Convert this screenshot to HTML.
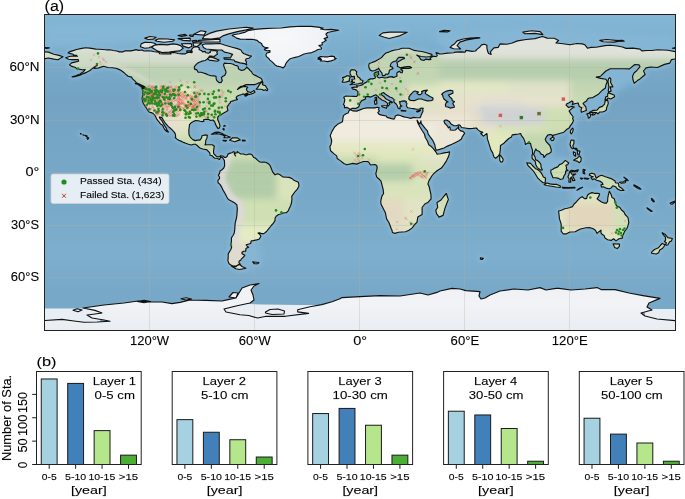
<!DOCTYPE html>
<html><head><meta charset="utf-8"><style>
html,body{margin:0;padding:0;background:#fff;}
body{width:685px;height:499px;overflow:hidden;font-family:"Liberation Sans",sans-serif;}
svg{display:block;}
text{filter:url(#gs);stroke:#000;stroke-width:0.25px;stroke-opacity:0.4;}
</style></head><body>
<svg width="685" height="499" viewBox="0 0 685 499" font-family="Liberation Sans, sans-serif" fill="#000">
<defs><clipPath id="mc"><rect x="45" y="15" width="630" height="315"/></clipPath><linearGradient id="oc" x1="0" y1="0" x2="0" y2="1"><stop offset="0" stop-color="#84b6d6"/><stop offset="0.12" stop-color="#7aaccc"/><stop offset="0.27" stop-color="#73a2c2"/><stop offset="0.4" stop-color="#76a6c6"/><stop offset="0.6" stop-color="#79a9c9"/><stop offset="0.7" stop-color="#7badcb"/><stop offset="0.77" stop-color="#7eaecd"/><stop offset="0.88" stop-color="#78a8c7"/><stop offset="1" stop-color="#7aaac9"/></linearGradient><filter id="bl" x="-5%" y="-5%" width="110%" height="110%"><feGaussianBlur stdDeviation="3.5"/></filter><filter id="bl2" x="-5%" y="-5%" width="110%" height="110%"><feGaussianBlur stdDeviation="1.5"/></filter><clipPath id="lc"><path d="M85.6,47.7 L81.8,48.4 L76.5,49.5 L73.9,50.4 L69.2,51.9 L68.1,52.9 L73.0,54.2 L73.9,55.1 L76.5,55.4 L77.4,56.3 L73.0,56.0 L69.5,56.5 L65.8,57.7 L68.6,59.3 L72.1,59.6 L78.2,59.5 L78.6,61.2 L74.8,62.1 L71.6,62.9 L69.5,64.9 L71.2,66.1 L75.6,67.5 L76.5,68.7 L82.6,69.8 L85.2,69.6 L83.5,71.7 L80.0,74.0 L75.6,75.7 L72.1,76.9 L74.8,76.6 L80.0,75.2 L83.5,73.6 L87.0,72.1 L90.0,70.5 L91.9,68.9 L94.3,67.0 L97.2,65.4 L95.4,66.3 L94.3,68.4 L97.5,68.2 L101.0,67.1 L103.6,66.3 L108.0,67.5 L112.4,67.7 L115.9,68.2 L119.4,69.6 L121.1,70.6 L123.8,72.4 L125.5,74.1 L128.1,76.2 L131.6,77.1 L132.5,78.9 L135.1,81.1 L136.4,82.9 L138.6,83.8 L141.2,85.0 L143.4,86.0 L144.8,86.8 L145.5,88.1 L144.8,88.7 L142.0,88.0 L142.8,91.1 L143.0,95.1 L142.1,98.1 L142.6,101.6 L143.4,103.4 L144.9,106.0 L145.8,107.2 L146.7,108.5 L147.7,110.2 L149.0,112.0 L151.4,112.6 L152.8,113.2 L154.9,115.3 L155.8,117.0 L156.6,118.8 L157.7,120.4 L159.6,122.6 L160.5,124.0 L162.6,125.2 L163.6,127.4 L164.7,129.5 L166.8,131.5 L168.4,132.1 L167.0,130.0 L166.1,127.9 L164.5,125.6 L163.1,123.0 L161.9,120.7 L160.0,118.6 L159.3,117.0 L160.9,117.4 L162.2,117.9 L163.6,120.5 L165.4,123.3 L166.6,124.5 L168.4,126.6 L170.1,128.0 L171.9,129.6 L174.0,131.9 L175.2,133.6 L175.7,136.5 L175.2,137.5 L177.0,139.1 L178.7,140.3 L181.5,141.4 L183.6,142.4 L185.7,143.3 L188.5,144.3 L191.1,145.0 L193.8,144.2 L195.5,144.3 L197.2,145.4 L198.7,147.0 L200.4,148.2 L202.8,149.0 L205.1,149.4 L206.7,149.6 L207.4,150.5 L208.3,151.2 L209.7,152.9 L210.0,154.1 L210.0,155.2 L211.2,155.5 L212.3,155.9 L213.7,157.5 L214.8,158.2 L216.5,158.2 L218.2,158.8 L219.5,159.5 L220.0,158.5 L220.9,156.9 L222.6,157.8 L223.5,159.0 L224.4,160.6 L224.5,162.9 L224.7,165.5 L223.8,168.0 L222.1,169.7 L220.0,171.1 L219.5,173.4 L218.4,175.3 L219.5,177.0 L219.5,178.6 L217.9,180.4 L218.1,182.7 L220.2,184.6 L221.8,187.4 L223.5,190.9 L225.2,193.7 L226.7,196.7 L228.4,199.5 L232.2,201.5 L234.9,203.1 L236.8,204.7 L237.3,208.4 L237.0,213.6 L236.5,218.0 L235.2,222.9 L234.9,226.8 L234.7,230.2 L234.2,233.2 L233.0,235.5 L231.4,237.8 L231.4,241.6 L230.8,245.1 L231.7,246.9 L231.0,249.2 L229.8,251.2 L228.2,253.9 L228.2,257.4 L227.9,260.9 L229.1,263.8 L231.4,265.2 L234.0,266.5 L236.1,266.7 L237.0,265.4 L238.7,264.5 L240.3,264.2 L238.9,262.8 L239.2,261.0 L240.7,260.2 L241.5,258.8 L244.0,256.5 L244.8,255.3 L242.0,253.7 L242.0,252.3 L243.6,251.2 L245.7,251.1 L245.9,248.6 L247.3,247.8 L248.7,247.2 L247.3,246.5 L246.2,244.8 L248.0,244.2 L250.6,243.5 L251.2,240.9 L253.1,240.6 L256.8,239.9 L259.4,239.0 L260.8,236.2 L259.7,234.3 L258.0,233.0 L259.4,232.7 L261.6,233.6 L263.9,233.6 L266.5,231.5 L268.6,228.8 L271.3,225.5 L273.4,223.1 L275.0,220.6 L275.1,218.0 L276.2,216.2 L278.6,214.5 L280.7,214.0 L284.4,212.8 L286.5,212.6 L288.2,210.8 L289.5,208.0 L290.7,205.4 L291.4,203.3 L291.9,199.6 L291.8,196.1 L292.8,194.9 L294.9,191.8 L297.3,189.1 L298.8,186.5 L298.9,184.8 L298.4,182.3 L296.1,181.2 L293.8,180.2 L292.3,178.8 L289.1,177.4 L286.5,177.2 L282.7,176.9 L280.4,175.0 L277.8,173.7 L275.1,174.8 L273.4,173.0 L272.5,171.6 L271.6,169.3 L270.2,165.7 L269.0,164.3 L266.4,162.5 L263.9,162.0 L261.1,162.2 L259.4,161.7 L257.8,160.4 L255.3,158.0 L253.6,157.5 L252.4,155.3 L251.0,154.1 L248.9,154.0 L247.1,154.7 L245.2,154.7 L243.6,154.0 L240.7,154.0 L238.4,152.4 L237.2,151.5 L237.3,152.7 L235.0,153.2 L234.7,154.7 L235.6,156.0 L234.2,153.6 L234.9,152.2 L233.5,151.7 L231.7,152.7 L230.2,153.1 L227.9,154.1 L227.3,156.2 L225.6,157.5 L224.5,157.5 L223.2,156.2 L220.7,155.7 L219.0,156.9 L217.2,156.8 L216.0,156.0 L213.7,153.6 L213.5,151.0 L214.0,147.7 L214.4,146.2 L212.3,144.8 L209.5,144.7 L206.7,144.7 L205.0,145.0 L205.5,143.5 L205.8,140.3 L206.9,138.2 L207.4,135.2 L205.7,134.9 L202.0,135.8 L201.6,137.9 L199.9,140.1 L197.6,140.1 L195.2,140.6 L192.9,139.6 L191.3,138.4 L189.9,136.5 L189.0,134.4 L188.8,130.5 L189.2,127.4 L189.5,124.7 L191.1,122.8 L193.4,121.6 L195.5,120.5 L198.1,120.7 L200.2,121.2 L202.5,121.6 L203.9,121.2 L203.5,119.8 L205.7,119.3 L208.3,119.3 L210.7,120.5 L213.0,120.0 L214.8,121.8 L215.3,123.9 L216.5,126.1 L217.9,128.4 L219.3,128.2 L220.0,125.8 L219.0,122.6 L217.7,119.6 L217.7,117.4 L218.6,116.1 L221.4,114.4 L223.7,113.0 L226.0,111.8 L227.9,110.5 L227.3,108.1 L227.2,106.5 L228.6,105.0 L228.9,104.1 L230.3,102.9 L230.5,101.5 L233.1,100.9 L234.3,100.2 L236.3,99.9 L237.5,99.5 L236.5,98.5 L236.1,97.6 L237.0,96.2 L239.2,95.3 L241.9,94.5 L242.9,93.9 L244.7,94.5 L246.6,93.2 L248.0,93.4 L246.2,94.6 L244.7,95.7 L245.7,96.2 L248.0,94.8 L250.6,94.1 L253.2,93.2 L255.0,92.2 L254.1,90.4 L252.5,91.5 L250.6,92.5 L247.7,91.6 L246.4,89.7 L246.6,88.7 L247.7,87.3 L245.7,86.4 L242.8,86.6 L240.1,87.8 L237.5,89.4 L238.4,88.3 L240.3,86.6 L242.8,86.0 L246.2,84.6 L250.6,84.6 L255.0,84.6 L257.6,83.4 L259.9,82.5 L262.4,81.3 L262.0,79.9 L261.3,78.5 L258.9,77.3 L256.4,75.9 L254.1,74.9 L252.4,73.6 L251.7,71.9 L250.1,70.5 L248.5,68.7 L246.6,67.0 L245.9,68.4 L244.5,69.6 L241.9,70.5 L240.1,69.9 L238.4,68.7 L238.2,66.4 L236.6,65.6 L234.9,65.2 L233.1,64.2 L230.5,63.5 L227.9,63.5 L224.4,63.1 L223.5,64.9 L224.2,67.1 L224.9,68.9 L225.8,71.0 L226.0,72.8 L224.9,75.2 L222.5,76.4 L221.4,77.8 L222.3,80.5 L221.2,82.4 L219.3,82.7 L216.8,80.6 L216.2,78.9 L216.0,76.2 L213.9,75.9 L210.9,75.7 L208.1,74.7 L205.5,73.6 L202.8,72.8 L200.9,72.2 L198.1,72.2 L196.9,69.9 L194.5,69.1 L194.3,67.0 L195.3,65.4 L197.1,63.6 L198.7,62.6 L201.3,61.4 L205.1,60.5 L206.9,59.5 L208.8,57.4 L209.5,56.0 L210.9,56.1 L212.7,56.3 L214.4,56.5 L215.6,55.2 L217.5,54.2 L216.8,52.8 L217.5,51.2 L214.9,50.7 L212.1,50.4 L210.0,51.0 L210.5,52.3 L208.3,53.3 L206.0,52.8 L205.0,51.4 L202.5,51.9 L201.6,50.7 L199.0,49.5 L199.5,47.9 L197.8,46.9 L195.3,46.7 L193.4,47.4 L192.2,48.6 L191.1,50.5 L192.3,51.9 L189.4,52.3 L187.3,52.8 L185.0,53.9 L181.5,53.9 L178.0,53.5 L174.5,52.5 L170.1,52.6 L171.0,54.0 L167.5,53.9 L163.1,54.0 L159.6,53.7 L158.8,52.3 L154.4,51.8 L150.9,51.0 L147.4,50.7 L143.9,51.0 L142.1,50.0 L138.6,50.4 L136.0,49.6 L133.4,50.4 L130.8,50.9 L127.2,50.9 L124.6,50.9 L122.9,51.9 L119.4,51.9 L116.8,51.0 L113.2,50.5 L109.8,49.8 L106.2,49.8 L102.8,49.5 L99.2,49.3 L95.8,49.1 L93.1,48.6 L89.6,48.1 L85.6,47.7Z M283.2,67.9 L280.4,66.8 L276.9,66.1 L275.1,64.9 L273.4,63.1 L271.6,61.4 L269.9,60.1 L268.6,58.2 L266.4,56.6 L265.9,54.7 L266.9,53.0 L270.0,52.1 L269.9,50.5 L267.2,50.7 L264.3,49.6 L265.1,48.6 L268.1,47.9 L264.6,47.2 L262.4,45.8 L261.5,43.5 L258.9,42.0 L257.1,40.4 L252.4,39.3 L246.2,39.3 L240.1,39.1 L236.6,38.1 L234.9,36.9 L232.2,35.5 L233.5,34.8 L239.2,33.7 L245.4,32.1 L247.7,30.8 L255.0,29.4 L263.8,28.6 L272.5,28.3 L281.2,28.0 L290.0,26.9 L300.5,26.2 L311.0,26.4 L318.0,27.1 L323.2,28.0 L320.6,29.0 L325.0,29.7 L331.1,29.4 L338.7,30.2 L332.0,31.5 L327.6,32.5 L325.9,34.2 L326.8,35.6 L327.6,37.4 L324.1,38.6 L326.2,40.2 L324.1,41.8 L322.0,42.8 L322.4,44.8 L318.9,45.6 L321.2,47.4 L321.5,49.0 L318.0,49.5 L315.4,50.9 L311.9,52.6 L307.5,53.3 L304.0,54.0 L301.4,55.2 L298.8,56.5 L295.2,57.4 L292.6,58.0 L290.0,58.8 L288.6,60.1 L287.0,61.9 L285.6,64.0 L285.1,65.8 L283.2,67.9Z M318.0,57.9 L320.6,56.5 L324.1,56.8 L328.0,56.8 L331.5,56.1 L334.4,56.5 L334.4,57.9 L336.2,58.6 L334.3,59.8 L331.1,60.9 L327.6,61.6 L324.1,61.0 L320.3,60.9 L321.5,59.6 L318.0,59.1 L321.0,58.2 L318.0,57.9Z M350.2,109.5 L349.0,108.5 L347.1,107.4 L344.4,107.8 L344.6,105.5 L343.4,104.6 L344.4,102.1 L344.8,99.4 L343.7,97.2 L346.0,96.0 L350.0,96.2 L353.9,96.4 L356.8,96.5 L357.9,94.3 L357.9,91.6 L356.2,89.9 L352.3,88.9 L351.8,87.6 L354.8,87.1 L357.2,87.3 L356.7,85.5 L358.1,86.0 L360.3,85.5 L362.8,84.6 L364.4,83.1 L366.3,82.4 L367.5,81.1 L368.4,79.8 L370.5,78.9 L372.6,78.9 L375.1,78.2 L375.4,76.9 L374.3,75.4 L374.2,73.4 L375.1,72.6 L377.5,71.7 L378.6,71.5 L378.0,73.4 L378.9,74.1 L377.5,75.2 L377.0,76.2 L377.5,77.1 L379.2,78.0 L381.9,77.3 L384.5,78.0 L387.1,77.6 L389.6,76.9 L392.4,76.6 L392.7,77.3 L394.3,77.3 L397.1,75.9 L396.9,75.0 L396.8,73.1 L397.8,72.1 L399.6,71.4 L400.8,72.6 L402.2,72.8 L402.7,70.5 L401.1,69.9 L400.9,68.9 L403.4,68.4 L406.4,68.2 L409.0,68.4 L411.6,67.7 L409.9,66.6 L407.2,66.6 L403.8,67.1 L400.2,67.7 L397.3,66.3 L397.6,64.5 L396.9,62.6 L399.4,60.9 L402.9,58.9 L404.4,58.6 L404.3,57.7 L403.2,57.4 L398.8,57.4 L397.1,59.1 L396.4,60.9 L393.2,61.7 L391.2,63.1 L390.3,65.4 L390.3,66.4 L392.6,67.3 L392.9,68.6 L391.5,69.2 L389.4,70.3 L388.9,72.8 L387.8,74.3 L385.7,74.1 L384.7,75.6 L382.6,75.6 L382.1,74.1 L381.9,72.8 L380.8,71.7 L379.8,70.3 L379.2,69.2 L378.4,68.2 L377.8,69.2 L376.6,69.4 L374.9,70.5 L372.4,71.0 L370.3,70.1 L369.6,68.9 L368.8,67.1 L368.8,64.9 L369.3,63.5 L371.4,62.8 L374.9,61.4 L377.5,60.0 L379.2,59.1 L381.9,57.2 L383.6,55.1 L385.9,53.0 L388.9,52.1 L391.5,50.9 L395.0,50.0 L398.5,49.5 L402.0,48.2 L405.5,48.2 L409.0,48.2 L412.5,49.8 L414.2,50.4 L417.8,51.0 L423.0,51.8 L427.4,53.0 L431.8,54.4 L432.1,55.6 L430.0,56.5 L426.5,57.0 L421.2,56.5 L418.6,55.8 L416.7,55.1 L419.0,56.8 L420.9,59.6 L423.9,60.5 L425.6,59.1 L429.1,59.6 L430.9,59.5 L430.0,57.9 L433.5,56.3 L436.1,56.6 L437.3,55.6 L436.1,52.6 L439.6,53.9 L441.4,54.0 L447.5,53.1 L453.6,52.8 L455.4,52.1 L461.5,51.9 L465.0,52.3 L465.9,50.4 L472.0,51.4 L475.5,51.0 L477.2,49.1 L479.9,47.0 L481.6,44.9 L484.2,44.2 L486.9,45.3 L486.9,48.2 L487.8,51.8 L488.6,53.5 L491.2,54.4 L490.4,51.8 L493.9,47.9 L498.2,47.4 L500.0,43.9 L507.0,44.2 L512.2,43.0 L517.5,40.9 L526.2,39.5 L535.0,38.6 L542.5,36.5 L547.2,38.1 L554.2,38.3 L558.6,40.4 L556.0,43.0 L563.0,43.7 L570.0,44.8 L577.0,43.5 L582.2,43.9 L584.9,44.8 L587.5,48.2 L591.0,47.4 L596.2,47.2 L605.0,45.6 L610.2,45.3 L617.2,46.0 L622.5,47.0 L626.0,48.4 L633.0,48.1 L640.0,49.1 L641.8,50.9 L647.0,50.5 L652.2,50.5 L657.5,49.8 L668.0,50.2 L675.9,51.8 L675.9,58.8 L671.5,59.6 L669.8,63.1 L664.5,64.4 L657.5,67.5 L650.5,67.0 L646.1,67.9 L643.5,71.0 L645.2,74.5 L643.1,76.2 L640.0,78.9 L637.4,80.6 L634.2,83.2 L633.0,79.8 L632.5,76.2 L634.2,72.8 L636.5,71.0 L640.0,66.6 L639.1,64.9 L634.8,64.5 L629.5,68.9 L624.2,68.7 L619.0,68.7 L610.2,68.7 L605.9,71.0 L600.6,76.2 L596.2,77.1 L600.6,78.4 L605.9,79.2 L607.3,81.5 L605.9,85.0 L605.4,88.0 L602.4,90.2 L598.0,94.6 L592.8,97.6 L589.2,98.0 L587.5,99.0 L586.6,101.1 L584.0,102.5 L583.1,103.7 L585.8,106.9 L586.4,110.4 L584.0,111.2 L581.4,112.3 L581.0,110.4 L581.7,107.8 L579.3,106.5 L578.8,105.1 L578.2,103.0 L574.4,103.7 L572.3,104.6 L573.1,102.0 L571.8,100.9 L569.1,102.7 L566.5,103.9 L566.1,105.1 L567.9,106.9 L568.6,107.6 L571.2,106.4 L574.4,107.0 L571.8,108.6 L569.1,110.9 L570.9,113.9 L573.3,117.0 L572.6,118.6 L573.5,120.4 L572.6,122.6 L570.5,125.6 L569.1,127.9 L566.5,129.6 L563.9,132.2 L559.5,133.5 L555.1,134.7 L553.2,135.4 L552.8,137.0 L552.0,134.9 L549.9,134.5 L548.1,134.9 L546.7,136.5 L545.2,139.2 L546.4,141.9 L549.9,145.5 L551.3,149.8 L551.1,152.0 L549.0,153.6 L546.7,154.3 L543.9,157.5 L543.4,155.0 L541.1,154.1 L539.4,151.5 L536.6,150.3 L535.9,148.9 L535.0,150.6 L533.6,154.5 L534.8,156.4 L535.7,159.9 L537.3,160.4 L538.8,161.7 L540.8,164.1 L541.1,167.2 L542.3,170.0 L541.1,170.2 L537.3,167.6 L535.7,164.6 L535.5,162.0 L534.5,160.6 L532.2,158.5 L532.0,155.9 L532.6,153.2 L532.4,149.8 L531.2,146.6 L530.6,143.6 L528.0,143.1 L525.4,144.5 L525.0,141.9 L523.6,138.4 L521.3,135.4 L520.7,133.5 L518.4,134.0 L515.8,134.4 L512.2,134.9 L511.4,137.1 L508.8,138.5 L506.1,141.0 L503.5,143.6 L500.5,145.4 L500.3,149.8 L499.7,154.1 L498.1,156.2 L495.6,158.3 L493.9,156.9 L492.7,152.9 L490.9,149.9 L489.5,145.4 L488.4,141.9 L487.4,138.9 L487.2,135.8 L486.9,133.5 L483.4,136.1 L480.8,133.5 L482.8,132.4 L479.9,131.4 L477.8,129.6 L476.4,128.0 L472.9,128.4 L468.5,128.6 L465.0,128.0 L461.5,127.5 L460.1,125.2 L458.9,124.9 L456.2,125.8 L453.6,125.6 L451.0,123.9 L449.2,121.4 L446.6,120.0 L444.9,120.2 L444.0,121.2 L444.9,123.5 L446.6,125.2 L447.8,126.6 L448.4,127.9 L449.8,126.8 L450.3,128.4 L450.1,130.0 L452.8,130.3 L455.4,130.0 L457.7,127.9 L458.5,126.5 L458.7,129.1 L460.6,130.9 L462.9,131.4 L464.7,133.1 L462.4,136.6 L461.2,139.2 L458.9,140.8 L456.6,141.9 L451.9,144.2 L447.5,146.1 L444.0,148.0 L439.6,149.4 L436.1,150.3 L435.2,147.1 L434.7,144.5 L432.6,140.1 L430.0,136.6 L428.2,134.0 L427.4,130.9 L425.1,128.4 L423.0,125.6 L421.2,123.3 L420.9,120.9 L420.2,123.1 L419.8,123.9 L418.6,122.6 L417.1,120.2 L417.4,121.8 L418.6,124.4 L420.0,127.0 L422.1,130.5 L424.4,134.0 L425.3,137.5 L427.4,141.0 L428.8,144.8 L430.9,146.2 L433.5,148.9 L435.8,151.8 L437.0,154.1 L440.5,153.8 L444.0,152.9 L447.5,152.4 L449.6,151.8 L449.2,154.1 L448.4,156.8 L446.6,160.6 L444.0,164.6 L441.4,168.1 L437.0,170.8 L433.5,173.9 L431.8,176.0 L429.1,180.4 L427.9,183.9 L429.1,186.5 L430.0,190.5 L430.9,194.4 L431.1,198.8 L428.2,202.2 L424.8,204.0 L422.1,207.5 L422.1,211.0 L422.1,214.5 L417.8,217.1 L417.6,218.5 L416.9,222.4 L414.2,225.0 L412.5,227.6 L409.0,230.2 L405.5,231.7 L402.0,232.0 L398.5,232.3 L395.0,233.4 L392.4,232.5 L392.0,230.2 L391.2,228.5 L388.9,222.5 L386.6,218.9 L385.4,212.8 L383.6,209.2 L381.0,204.0 L380.7,201.4 L381.9,196.1 L383.6,193.5 L383.1,189.1 L381.5,183.2 L381.0,181.2 L379.2,179.2 L376.6,176.9 L375.8,173.4 L376.6,170.8 L377.2,167.2 L376.6,165.5 L374.9,164.6 L372.2,164.8 L370.5,165.0 L368.8,162.3 L367.5,161.5 L363.5,161.5 L360.0,162.7 L356.5,164.1 L353.0,163.4 L346.9,164.8 L344.2,163.8 L339.9,160.4 L337.2,158.5 L336.7,155.9 L333.8,153.6 L330.6,150.8 L329.9,146.8 L331.1,144.2 L331.7,141.0 L331.1,138.4 L330.2,135.8 L332.0,131.4 L334.6,127.0 L338.1,123.9 L342.5,121.8 L342.8,119.1 L343.4,115.6 L346.0,113.7 L348.1,113.0 L349.2,110.4 L350.7,109.7 L353.0,110.9 L356.5,111.1 L360.0,109.9 L363.5,108.5 L367.0,107.9 L371.4,107.8 L374.9,107.9 L377.5,107.2 L379.2,107.8 L378.4,109.5 L379.4,110.9 L377.8,112.6 L379.2,114.4 L381.9,115.1 L386.2,116.0 L387.1,117.4 L391.5,118.6 L394.1,119.1 L395.0,117.4 L395.2,116.0 L397.6,114.9 L400.2,115.5 L403.8,116.9 L407.2,117.5 L410.8,118.4 L413.4,117.4 L416.5,117.7 L419.8,117.7 L420.4,117.2 L421.2,115.1 L422.1,113.0 L423.0,111.2 L422.7,109.5 L423.3,108.3 L421.2,108.1 L419.5,109.0 L416.9,109.3 L413.4,108.6 L410.8,108.3 L407.8,107.8 L406.4,106.0 L406.9,103.4 L405.8,102.3 L406.4,101.5 L404.6,100.9 L402.0,101.1 L400.2,102.0 L399.6,101.6 L399.9,103.4 L400.6,105.6 L402.0,106.0 L399.9,106.9 L400.2,108.6 L399.2,108.8 L398.0,108.1 L397.6,106.7 L397.1,105.5 L396.4,104.2 L395.0,103.0 L393.9,102.0 L394.1,99.4 L392.4,98.1 L389.8,96.9 L387.1,95.3 L384.5,93.6 L383.8,92.5 L381.5,93.2 L381.7,95.1 L383.8,96.4 L385.7,98.8 L388.0,100.0 L390.6,101.3 L392.4,102.3 L391.8,102.9 L390.1,101.8 L388.9,102.9 L389.9,104.2 L388.2,106.0 L387.3,106.0 L387.7,103.4 L386.2,102.1 L384.5,101.1 L381.9,99.9 L379.2,98.1 L378.0,96.4 L375.8,94.8 L373.1,95.9 L370.5,97.1 L367.9,96.4 L365.2,96.9 L365.6,99.0 L361.8,100.6 L360.0,102.9 L359.5,104.8 L358.8,106.7 L356.3,108.3 L352.3,108.3 L350.6,109.3Z M44.1,51.8 L48.5,52.1 L53.8,54.2 L59.0,55.4 L63.0,56.8 L60.8,57.9 L58.1,59.8 L53.8,59.1 L48.5,58.0 L44.1,58.8Z M558.6,211.0 L559.5,218.9 L561.2,224.1 L561.2,231.1 L563.0,233.8 L566.5,233.8 L570.0,232.0 L575.2,231.8 L577.9,230.2 L580.5,229.0 L585.8,227.8 L589.2,227.6 L592.8,228.5 L595.4,230.2 L597.1,233.4 L598.9,231.7 L601.0,230.2 L601.0,232.9 L602.4,234.6 L604.1,235.5 L605.0,238.1 L607.6,239.7 L611.1,240.4 L613.6,238.8 L616.0,240.9 L619.0,238.7 L622.3,238.1 L622.7,235.5 L623.9,232.9 L624.8,231.1 L626.9,228.5 L627.9,225.9 L628.8,222.5 L628.1,218.0 L627.4,216.8 L625.1,214.5 L623.9,212.0 L621.3,209.8 L619.9,207.5 L616.4,205.8 L615.5,203.1 L614.3,198.8 L612.0,197.5 L611.1,194.4 L609.4,191.2 L608.5,194.4 L607.8,197.9 L607.6,201.4 L606.4,203.1 L604.1,203.1 L601.5,201.9 L598.9,200.2 L597.1,198.8 L598.9,196.1 L599.6,193.8 L597.6,193.3 L594.5,193.3 L591.9,192.6 L589.2,193.7 L587.5,195.2 L586.6,198.6 L584.4,198.6 L582.2,196.7 L580.3,197.7 L577.9,200.2 L576.1,202.2 L573.9,204.2 L572.6,206.6 L570.0,207.5 L567.4,208.2 L564.8,208.7 L562.1,210.0 L559.7,210.7 L558.6,211.0Z M613.1,243.7 L619.5,244.1 L619.4,246.3 L617.2,248.6 L614.6,247.4 L613.1,243.7Z M662.2,232.7 L665.4,234.6 L667.8,237.6 L672.4,238.5 L671.3,241.1 L669.6,241.8 L668.0,244.8 L666.6,245.3 L665.6,244.6 L666.4,242.8 L664.5,241.6 L665.6,239.9 L665.4,237.2 L662.8,234.1 L662.2,232.7Z M662.2,243.4 L665.0,244.8 L664.1,246.3 L662.4,248.5 L659.8,250.0 L658.6,252.8 L656.3,254.0 L651.4,253.2 L652.1,251.6 L654.5,249.5 L658.4,247.8 L660.3,245.5 L662.2,243.4Z M589.8,173.9 L591.9,173.2 L594.7,174.1 L596.2,178.3 L598.9,176.3 L601.5,175.3 L606.2,177.0 L611.1,178.6 L615.1,181.1 L615.5,182.8 L618.3,183.2 L619.0,186.5 L621.6,188.2 L623.9,190.5 L620.8,190.5 L617.6,189.1 L615.5,186.7 L612.9,185.8 L610.8,188.2 L609.4,188.8 L606.8,188.4 L603.4,186.7 L601.5,187.2 L601.0,184.8 L603.1,184.4 L602.2,182.7 L599.8,181.1 L596.6,180.2 L594.0,178.8 L592.4,179.7 L591.0,177.4 L593.4,176.7 L591.5,176.3 L589.2,175.0Z M550.8,172.5 L551.8,174.8 L552.8,177.6 L555.5,177.8 L557.8,178.1 L560.4,179.5 L563.0,178.8 L563.9,176.0 L565.6,173.4 L565.6,171.1 L568.1,170.4 L566.3,169.3 L566.5,167.4 L565.8,165.2 L567.6,164.6 L568.8,163.0 L565.3,160.4 L564.1,161.7 L561.9,163.8 L559.5,164.6 L557.8,166.9 L554.6,168.1 L552.5,169.5 L550.9,170.0Z M526.8,162.7 L530.6,163.4 L532.4,165.5 L535.5,168.7 L537.6,169.5 L540.2,171.6 L542.0,174.2 L543.4,176.9 L545.5,178.1 L545.2,182.7 L543.1,182.8 L540.2,180.4 L537.6,177.8 L535.5,174.2 L533.2,170.8 L530.6,168.1 L528.0,165.5Z M544.1,184.4 L546.9,183.0 L549.9,183.9 L553.4,184.4 L556.9,184.4 L560.4,186.0 L560.2,187.5 L556.0,187.0 L551.6,186.2 L546.4,185.5Z M567.9,177.0 L568.9,174.2 L569.6,171.6 L571.4,170.2 L574.4,170.8 L578.4,169.9 L577.0,171.8 L572.6,171.6 L570.4,172.0 L571.8,174.2 L575.8,174.1 L572.6,175.8 L574.9,180.4 L572.8,180.7 L571.6,177.0 L570.7,177.8 L570.7,182.1 L568.9,182.1 L569.1,178.6Z M571.1,140.1 L574.0,140.3 L573.9,143.6 L572.8,145.7 L573.5,148.0 L576.8,148.3 L577.4,150.5 L576.1,149.8 L574.4,148.3 L572.4,148.7 L571.1,147.5 L570.0,144.5 L570.5,141.9Z M573.5,160.2 L576.1,158.8 L577.4,158.2 L579.6,155.9 L581.2,158.2 L580.9,161.1 L579.4,162.7 L577.0,161.1Z M577.5,150.6 L580.0,151.0 L579.1,154.7 L577.9,154.8 L577.4,152.4Z M573.3,151.8 L575.6,152.9 L575.6,156.2 L574.2,155.5 L573.5,153.8Z M589.1,113.0 L590.1,112.0 L592.8,110.4 L597.1,110.2 L599.4,107.4 L602.4,106.4 L604.6,104.2 L605.0,101.1 L607.6,100.0 L608.3,103.4 L606.6,107.8 L606.4,110.0 L604.6,111.2 L602.4,112.0 L599.8,112.0 L598.0,113.9 L596.4,112.5 L592.8,112.3Z M586.8,113.9 L589.2,113.4 L590.8,114.8 L589.8,117.5 L588.4,118.2 L587.9,115.6Z M591.9,114.8 L593.6,112.6 L595.7,112.8 L595.0,114.2 L592.8,115.1Z M605.0,99.9 L606.8,99.4 L608.1,98.0 L610.8,99.0 L614.6,96.7 L614.1,95.0 L608.5,92.9 L607.8,93.4 L607.6,96.4 L605.7,96.9Z M608.5,92.0 L611.1,91.1 L610.2,86.8 L612.9,86.8 L610.6,82.4 L610.8,78.9 L609.7,77.5 L608.5,78.9 L608.0,81.5 L608.9,86.8 L608.3,90.6Z M570.2,132.2 L571.2,134.0 L572.6,132.2 L573.3,129.1 L572.6,128.2 L570.9,129.8Z M550.1,138.9 L551.8,140.6 L553.6,140.1 L554.2,138.0 L552.5,137.3Z M499.8,155.7 L500.5,155.3 L503.2,159.4 L502.6,161.7 L501.1,162.2 L499.8,160.6 L499.7,157.6Z M350.0,84.8 L353.9,84.5 L358.2,83.8 L362.4,82.9 L363.0,80.5 L360.5,79.8 L359.8,78.0 L357.9,76.9 L357.0,75.2 L356.3,73.6 L356.8,71.7 L354.6,69.9 L351.2,69.9 L350.0,71.9 L350.2,74.0 L351.1,75.6 L351.4,76.8 L354.4,76.4 L354.4,78.0 L354.8,79.0 L351.9,79.2 L351.8,80.1 L352.7,81.0 L350.9,81.9 L352.7,82.2 L354.6,82.4 L353.0,82.9Z M349.5,81.1 L349.3,79.0 L350.2,77.3 L349.2,75.9 L346.9,75.7 L345.1,76.9 L342.5,77.6 L343.4,79.4 L342.7,81.1 L342.2,82.2 L345.1,82.2 L348.8,81.1Z M379.2,35.5 L382.8,32.9 L389.8,32.1 L398.5,32.0 L407.2,32.3 L400.2,35.6 L395.0,37.0 L389.1,38.5 L384.5,37.2Z M450.1,47.4 L453.6,48.8 L460.6,49.0 L457.1,45.6 L459.8,42.1 L466.8,39.9 L473.8,38.6 L479.9,37.9 L478.1,37.6 L470.2,38.1 L463.2,39.0 L457.1,40.9 L454.5,43.9 L451.9,45.6Z M524.5,33.7 L535.0,33.4 L542.9,34.6 L540.2,31.6 L531.5,30.8 L522.8,32.1Z M599.8,40.4 L606.8,39.5 L620.8,40.9 L613.8,42.1 L603.2,41.8Z M672.4,48.2 L675.9,47.4 L675.9,48.4Z M44.1,48.2 L44.1,47.4 L49.4,47.9 L46.8,48.4Z M439.6,31.6 L444.0,30.4 L450.1,30.8 L447.5,32.0Z M151.8,47.4 L154.4,45.1 L160.5,44.4 L167.5,44.9 L172.8,43.9 L177.1,44.4 L180.6,45.6 L183.2,48.2 L179.8,50.9 L174.5,51.4 L169.2,52.1 L162.2,52.6 L157.0,50.9 L154.4,49.0Z M140.4,46.7 L141.2,43.9 L144.8,42.3 L150.9,42.5 L154.4,43.2 L156.1,44.4 L151.8,46.5 L149.1,47.7 L144.8,48.2Z M155.2,40.4 L158.8,38.8 L167.5,39.0 L174.5,39.9 L172.8,41.2 L164.0,42.3 L157.0,41.2Z M181.5,43.7 L191.1,43.5 L192.0,46.3 L188.5,47.9 L183.2,46.1Z M192.9,43.0 L201.6,43.0 L197.2,46.5 L193.8,46.0Z M199.0,40.4 L220.0,39.1 L220.0,42.0 L202.5,42.0 L197.2,41.2Z M202.5,38.6 L204.2,36.0 L209.5,33.4 L216.5,31.1 L228.8,29.0 L246.2,27.2 L253.2,28.1 L246.2,29.9 L237.5,31.6 L228.8,33.9 L223.5,35.6 L220.0,37.8 L211.2,39.0Z M193.8,34.2 L200.8,30.8 L206.0,31.6 L204.2,35.1Z M178.0,38.6 L190.2,38.1 L190.2,40.9 L183.2,40.4Z M246.8,64.9 L244.5,63.6 L240.1,62.9 L234.9,61.4 L234.0,60.0 L229.6,59.5 L224.4,59.1 L223.8,57.9 L230.5,57.9 L231.4,56.1 L232.6,54.4 L228.8,53.0 L224.4,52.1 L221.8,50.0 L217.4,50.0 L211.2,49.5 L206.0,49.0 L203.4,47.4 L202.2,44.8 L206.0,43.7 L211.2,43.9 L220.0,43.5 L225.2,45.3 L232.2,47.2 L237.5,48.6 L241.0,50.0 L241.9,51.8 L243.6,53.5 L248.9,55.6 L251.5,56.1 L248.9,58.2 L246.2,58.8 L245.4,60.5 L246.6,61.9 L246.2,63.1Z M209.2,60.1 L217.4,61.2 L219.1,60.0 L213.9,57.9 L210.4,57.0 L207.4,58.4Z M256.2,89.2 L257.6,87.6 L259.0,85.4 L260.6,82.9 L262.9,82.2 L262.5,84.6 L265.5,85.7 L266.4,87.6 L267.8,89.4 L267.1,90.8 L265.3,89.7 L263.8,90.4 L262.2,89.5 L260.2,89.2Z M135.3,83.6 L137.8,84.3 L141.2,86.9 L144.0,87.8 L142.6,86.2 L139.5,84.3 L136.4,83.2Z M211.4,134.2 L214.8,132.4 L218.2,132.1 L221.8,133.3 L224.4,134.9 L227.9,136.3 L230.2,137.1 L227.7,137.7 L224.0,137.7 L224.9,136.5 L222.6,134.9 L219.1,134.0 L216.5,133.6 L213.0,134.2Z M229.6,140.3 L232.6,137.7 L237.5,137.9 L240.3,140.0 L237.5,140.6 L234.9,141.7Z M223.0,140.3 L226.5,140.6 L225.6,141.2 L223.2,140.6Z M242.4,140.1 L245.2,140.3 L245.0,141.0 L242.4,141.0Z M87.2,137.1 L88.8,138.0 L87.7,139.4 L87.0,138.2Z M83.0,134.7 L84.2,135.2 L83.3,135.2Z M80.3,133.6 L81.2,133.6 L80.9,134.2Z M85.2,135.4 L87.0,135.9 L86.1,136.5Z M240.0,264.5 L241.9,266.5 L245.9,268.2 L242.8,268.9 L239.2,269.5 L235.8,268.8 L231.4,266.1 L236.6,265.8Z M252.7,261.9 L258.9,262.5 L257.6,263.8 L254.1,263.7Z M446.3,193.5 L448.4,199.6 L447.2,202.2 L444.9,208.4 L443.1,215.4 L439.1,217.1 L436.5,213.6 L435.8,210.1 L437.7,207.5 L437.0,202.6 L441.0,200.0 L444.0,196.1Z M381.7,105.8 L387.3,105.5 L386.4,108.3 L381.9,106.7Z M374.3,100.8 L376.8,100.6 L376.8,103.9 L374.9,104.4Z M375.1,97.6 L376.6,97.2 L376.6,100.0 L375.2,99.5Z M401.1,110.4 L406.0,110.7 L405.7,111.2 L401.3,110.9Z M416.5,111.2 L420.6,110.0 L419.3,111.4 L417.2,112.0Z M480.4,257.9 L483.4,258.2 L482.2,259.5 L480.4,259.3Z M647.0,207.8 L652.2,211.3 L651.2,211.5 L647.5,208.9Z M633.9,184.8 L639.1,187.4 L640.9,189.1 L638.2,188.6 L633.9,185.8Z M619.5,182.3 L623.4,181.8 L626.4,180.0 L625.1,182.7 L621.6,183.3Z M623.9,177.2 L626.9,179.2 L628.1,180.7 L626.5,179.8Z M577.0,190.3 L579.6,188.2 L582.6,187.2 L578.8,189.3Z M562.1,187.2 L568.2,187.5 L574.4,187.2 L575.1,187.9 L568.2,188.1 L563.0,188.1Z M583.1,169.3 L585.2,169.9 L584.0,171.6 L584.9,173.9 L583.1,173.2Z M584.0,178.1 L588.9,178.5 L587.5,179.3 L584.5,178.8Z M580.3,178.1 L582.6,178.3 L581.6,179.2Z M651.4,198.4 L652.8,199.3 L654.4,201.5 L653.6,201.9 L651.7,200.0Z M670.3,203.0 L672.6,202.1 L675.5,201.0 L674.3,202.6 L672.0,204.3 L670.3,203.8Z M615.5,40.5 L622.5,40.2 L624.2,41.2 L617.2,41.4Z M144.8,38.1 L150.0,36.5 L156.1,37.2 L153.5,39.1 L148.2,39.5Z M178.0,35.5 L185.0,34.4 L186.8,35.5 L181.5,36.4Z M189.4,35.1 L193.8,34.8 L192.9,36.4 L190.2,36.2Z M192.0,40.7 L196.4,40.4 L196.4,41.8 L192.9,42.0Z M186.8,50.9 L192.0,50.9 L192.0,52.6 L186.8,52.1Z M223.2,128.4 L224.2,128.9 L224.0,130.1 L223.0,129.6Z M224.4,125.4 L225.4,126.0 L223.7,126.1Z"/></clipPath><radialGradient id="gl" gradientUnits="userSpaceOnUse" cx="280" cy="38" r="55" gradientTransform="translate(280 38) scale(1.3 0.8) translate(-280 -38)"><stop offset="0" stop-color="#f7f8fa"/><stop offset="0.6" stop-color="#f0f2f5"/><stop offset="1" stop-color="#d9dde3"/></radialGradient><linearGradient id="ag" x1="0" y1="0" x2="0" y2="1"><stop offset="0" stop-color="#eef0f4"/><stop offset="0.4" stop-color="#f1f3f6"/><stop offset="0.7" stop-color="#eceff3"/><stop offset="1" stop-color="#e8ebf0"/></linearGradient><filter id="gs"><feColorMatrix type="saturate" values="0"/></filter></defs>
<g clip-path="url(#mc)">
<rect x="45" y="15" width="630" height="315" fill="url(#oc)"/>
<path d="M85.6,47.7 L81.8,48.4 L76.5,49.5 L73.9,50.4 L69.2,51.9 L68.1,52.9 L73.0,54.2 L73.9,55.1 L76.5,55.4 L77.4,56.3 L73.0,56.0 L69.5,56.5 L65.8,57.7 L68.6,59.3 L72.1,59.6 L78.2,59.5 L78.6,61.2 L74.8,62.1 L71.6,62.9 L69.5,64.9 L71.2,66.1 L75.6,67.5 L76.5,68.7 L82.6,69.8 L85.2,69.6 L83.5,71.7 L80.0,74.0 L75.6,75.7 L72.1,76.9 L74.8,76.6 L80.0,75.2 L83.5,73.6 L87.0,72.1 L90.0,70.5 L91.9,68.9 L94.3,67.0 L97.2,65.4 L95.4,66.3 L94.3,68.4 L97.5,68.2 L101.0,67.1 L103.6,66.3 L108.0,67.5 L112.4,67.7 L115.9,68.2 L119.4,69.6 L121.1,70.6 L123.8,72.4 L125.5,74.1 L128.1,76.2 L131.6,77.1 L132.5,78.9 L135.1,81.1 L136.4,82.9 L138.6,83.8 L141.2,85.0 L143.4,86.0 L144.8,86.8 L145.5,88.1 L144.8,88.7 L142.0,88.0 L142.8,91.1 L143.0,95.1 L142.1,98.1 L142.6,101.6 L143.4,103.4 L144.9,106.0 L145.8,107.2 L146.7,108.5 L147.7,110.2 L149.0,112.0 L151.4,112.6 L152.8,113.2 L154.9,115.3 L155.8,117.0 L156.6,118.8 L157.7,120.4 L159.6,122.6 L160.5,124.0 L162.6,125.2 L163.6,127.4 L164.7,129.5 L166.8,131.5 L168.4,132.1 L167.0,130.0 L166.1,127.9 L164.5,125.6 L163.1,123.0 L161.9,120.7 L160.0,118.6 L159.3,117.0 L160.9,117.4 L162.2,117.9 L163.6,120.5 L165.4,123.3 L166.6,124.5 L168.4,126.6 L170.1,128.0 L171.9,129.6 L174.0,131.9 L175.2,133.6 L175.7,136.5 L175.2,137.5 L177.0,139.1 L178.7,140.3 L181.5,141.4 L183.6,142.4 L185.7,143.3 L188.5,144.3 L191.1,145.0 L193.8,144.2 L195.5,144.3 L197.2,145.4 L198.7,147.0 L200.4,148.2 L202.8,149.0 L205.1,149.4 L206.7,149.6 L207.4,150.5 L208.3,151.2 L209.7,152.9 L210.0,154.1 L210.0,155.2 L211.2,155.5 L212.3,155.9 L213.7,157.5 L214.8,158.2 L216.5,158.2 L218.2,158.8 L219.5,159.5 L220.0,158.5 L220.9,156.9 L222.6,157.8 L223.5,159.0 L224.4,160.6 L224.5,162.9 L224.7,165.5 L223.8,168.0 L222.1,169.7 L220.0,171.1 L219.5,173.4 L218.4,175.3 L219.5,177.0 L219.5,178.6 L217.9,180.4 L218.1,182.7 L220.2,184.6 L221.8,187.4 L223.5,190.9 L225.2,193.7 L226.7,196.7 L228.4,199.5 L232.2,201.5 L234.9,203.1 L236.8,204.7 L237.3,208.4 L237.0,213.6 L236.5,218.0 L235.2,222.9 L234.9,226.8 L234.7,230.2 L234.2,233.2 L233.0,235.5 L231.4,237.8 L231.4,241.6 L230.8,245.1 L231.7,246.9 L231.0,249.2 L229.8,251.2 L228.2,253.9 L228.2,257.4 L227.9,260.9 L229.1,263.8 L231.4,265.2 L234.0,266.5 L236.1,266.7 L237.0,265.4 L238.7,264.5 L240.3,264.2 L238.9,262.8 L239.2,261.0 L240.7,260.2 L241.5,258.8 L244.0,256.5 L244.8,255.3 L242.0,253.7 L242.0,252.3 L243.6,251.2 L245.7,251.1 L245.9,248.6 L247.3,247.8 L248.7,247.2 L247.3,246.5 L246.2,244.8 L248.0,244.2 L250.6,243.5 L251.2,240.9 L253.1,240.6 L256.8,239.9 L259.4,239.0 L260.8,236.2 L259.7,234.3 L258.0,233.0 L259.4,232.7 L261.6,233.6 L263.9,233.6 L266.5,231.5 L268.6,228.8 L271.3,225.5 L273.4,223.1 L275.0,220.6 L275.1,218.0 L276.2,216.2 L278.6,214.5 L280.7,214.0 L284.4,212.8 L286.5,212.6 L288.2,210.8 L289.5,208.0 L290.7,205.4 L291.4,203.3 L291.9,199.6 L291.8,196.1 L292.8,194.9 L294.9,191.8 L297.3,189.1 L298.8,186.5 L298.9,184.8 L298.4,182.3 L296.1,181.2 L293.8,180.2 L292.3,178.8 L289.1,177.4 L286.5,177.2 L282.7,176.9 L280.4,175.0 L277.8,173.7 L275.1,174.8 L273.4,173.0 L272.5,171.6 L271.6,169.3 L270.2,165.7 L269.0,164.3 L266.4,162.5 L263.9,162.0 L261.1,162.2 L259.4,161.7 L257.8,160.4 L255.3,158.0 L253.6,157.5 L252.4,155.3 L251.0,154.1 L248.9,154.0 L247.1,154.7 L245.2,154.7 L243.6,154.0 L240.7,154.0 L238.4,152.4 L237.2,151.5 L237.3,152.7 L235.0,153.2 L234.7,154.7 L235.6,156.0 L234.2,153.6 L234.9,152.2 L233.5,151.7 L231.7,152.7 L230.2,153.1 L227.9,154.1 L227.3,156.2 L225.6,157.5 L224.5,157.5 L223.2,156.2 L220.7,155.7 L219.0,156.9 L217.2,156.8 L216.0,156.0 L213.7,153.6 L213.5,151.0 L214.0,147.7 L214.4,146.2 L212.3,144.8 L209.5,144.7 L206.7,144.7 L205.0,145.0 L205.5,143.5 L205.8,140.3 L206.9,138.2 L207.4,135.2 L205.7,134.9 L202.0,135.8 L201.6,137.9 L199.9,140.1 L197.6,140.1 L195.2,140.6 L192.9,139.6 L191.3,138.4 L189.9,136.5 L189.0,134.4 L188.8,130.5 L189.2,127.4 L189.5,124.7 L191.1,122.8 L193.4,121.6 L195.5,120.5 L198.1,120.7 L200.2,121.2 L202.5,121.6 L203.9,121.2 L203.5,119.8 L205.7,119.3 L208.3,119.3 L210.7,120.5 L213.0,120.0 L214.8,121.8 L215.3,123.9 L216.5,126.1 L217.9,128.4 L219.3,128.2 L220.0,125.8 L219.0,122.6 L217.7,119.6 L217.7,117.4 L218.6,116.1 L221.4,114.4 L223.7,113.0 L226.0,111.8 L227.9,110.5 L227.3,108.1 L227.2,106.5 L228.6,105.0 L228.9,104.1 L230.3,102.9 L230.5,101.5 L233.1,100.9 L234.3,100.2 L236.3,99.9 L237.5,99.5 L236.5,98.5 L236.1,97.6 L237.0,96.2 L239.2,95.3 L241.9,94.5 L242.9,93.9 L244.7,94.5 L246.6,93.2 L248.0,93.4 L246.2,94.6 L244.7,95.7 L245.7,96.2 L248.0,94.8 L250.6,94.1 L253.2,93.2 L255.0,92.2 L254.1,90.4 L252.5,91.5 L250.6,92.5 L247.7,91.6 L246.4,89.7 L246.6,88.7 L247.7,87.3 L245.7,86.4 L242.8,86.6 L240.1,87.8 L237.5,89.4 L238.4,88.3 L240.3,86.6 L242.8,86.0 L246.2,84.6 L250.6,84.6 L255.0,84.6 L257.6,83.4 L259.9,82.5 L262.4,81.3 L262.0,79.9 L261.3,78.5 L258.9,77.3 L256.4,75.9 L254.1,74.9 L252.4,73.6 L251.7,71.9 L250.1,70.5 L248.5,68.7 L246.6,67.0 L245.9,68.4 L244.5,69.6 L241.9,70.5 L240.1,69.9 L238.4,68.7 L238.2,66.4 L236.6,65.6 L234.9,65.2 L233.1,64.2 L230.5,63.5 L227.9,63.5 L224.4,63.1 L223.5,64.9 L224.2,67.1 L224.9,68.9 L225.8,71.0 L226.0,72.8 L224.9,75.2 L222.5,76.4 L221.4,77.8 L222.3,80.5 L221.2,82.4 L219.3,82.7 L216.8,80.6 L216.2,78.9 L216.0,76.2 L213.9,75.9 L210.9,75.7 L208.1,74.7 L205.5,73.6 L202.8,72.8 L200.9,72.2 L198.1,72.2 L196.9,69.9 L194.5,69.1 L194.3,67.0 L195.3,65.4 L197.1,63.6 L198.7,62.6 L201.3,61.4 L205.1,60.5 L206.9,59.5 L208.8,57.4 L209.5,56.0 L210.9,56.1 L212.7,56.3 L214.4,56.5 L215.6,55.2 L217.5,54.2 L216.8,52.8 L217.5,51.2 L214.9,50.7 L212.1,50.4 L210.0,51.0 L210.5,52.3 L208.3,53.3 L206.0,52.8 L205.0,51.4 L202.5,51.9 L201.6,50.7 L199.0,49.5 L199.5,47.9 L197.8,46.9 L195.3,46.7 L193.4,47.4 L192.2,48.6 L191.1,50.5 L192.3,51.9 L189.4,52.3 L187.3,52.8 L185.0,53.9 L181.5,53.9 L178.0,53.5 L174.5,52.5 L170.1,52.6 L171.0,54.0 L167.5,53.9 L163.1,54.0 L159.6,53.7 L158.8,52.3 L154.4,51.8 L150.9,51.0 L147.4,50.7 L143.9,51.0 L142.1,50.0 L138.6,50.4 L136.0,49.6 L133.4,50.4 L130.8,50.9 L127.2,50.9 L124.6,50.9 L122.9,51.9 L119.4,51.9 L116.8,51.0 L113.2,50.5 L109.8,49.8 L106.2,49.8 L102.8,49.5 L99.2,49.3 L95.8,49.1 L93.1,48.6 L89.6,48.1 L85.6,47.7Z M283.2,67.9 L280.4,66.8 L276.9,66.1 L275.1,64.9 L273.4,63.1 L271.6,61.4 L269.9,60.1 L268.6,58.2 L266.4,56.6 L265.9,54.7 L266.9,53.0 L270.0,52.1 L269.9,50.5 L267.2,50.7 L264.3,49.6 L265.1,48.6 L268.1,47.9 L264.6,47.2 L262.4,45.8 L261.5,43.5 L258.9,42.0 L257.1,40.4 L252.4,39.3 L246.2,39.3 L240.1,39.1 L236.6,38.1 L234.9,36.9 L232.2,35.5 L233.5,34.8 L239.2,33.7 L245.4,32.1 L247.7,30.8 L255.0,29.4 L263.8,28.6 L272.5,28.3 L281.2,28.0 L290.0,26.9 L300.5,26.2 L311.0,26.4 L318.0,27.1 L323.2,28.0 L320.6,29.0 L325.0,29.7 L331.1,29.4 L338.7,30.2 L332.0,31.5 L327.6,32.5 L325.9,34.2 L326.8,35.6 L327.6,37.4 L324.1,38.6 L326.2,40.2 L324.1,41.8 L322.0,42.8 L322.4,44.8 L318.9,45.6 L321.2,47.4 L321.5,49.0 L318.0,49.5 L315.4,50.9 L311.9,52.6 L307.5,53.3 L304.0,54.0 L301.4,55.2 L298.8,56.5 L295.2,57.4 L292.6,58.0 L290.0,58.8 L288.6,60.1 L287.0,61.9 L285.6,64.0 L285.1,65.8 L283.2,67.9Z M318.0,57.9 L320.6,56.5 L324.1,56.8 L328.0,56.8 L331.5,56.1 L334.4,56.5 L334.4,57.9 L336.2,58.6 L334.3,59.8 L331.1,60.9 L327.6,61.6 L324.1,61.0 L320.3,60.9 L321.5,59.6 L318.0,59.1 L321.0,58.2 L318.0,57.9Z M350.2,109.5 L349.0,108.5 L347.1,107.4 L344.4,107.8 L344.6,105.5 L343.4,104.6 L344.4,102.1 L344.8,99.4 L343.7,97.2 L346.0,96.0 L350.0,96.2 L353.9,96.4 L356.8,96.5 L357.9,94.3 L357.9,91.6 L356.2,89.9 L352.3,88.9 L351.8,87.6 L354.8,87.1 L357.2,87.3 L356.7,85.5 L358.1,86.0 L360.3,85.5 L362.8,84.6 L364.4,83.1 L366.3,82.4 L367.5,81.1 L368.4,79.8 L370.5,78.9 L372.6,78.9 L375.1,78.2 L375.4,76.9 L374.3,75.4 L374.2,73.4 L375.1,72.6 L377.5,71.7 L378.6,71.5 L378.0,73.4 L378.9,74.1 L377.5,75.2 L377.0,76.2 L377.5,77.1 L379.2,78.0 L381.9,77.3 L384.5,78.0 L387.1,77.6 L389.6,76.9 L392.4,76.6 L392.7,77.3 L394.3,77.3 L397.1,75.9 L396.9,75.0 L396.8,73.1 L397.8,72.1 L399.6,71.4 L400.8,72.6 L402.2,72.8 L402.7,70.5 L401.1,69.9 L400.9,68.9 L403.4,68.4 L406.4,68.2 L409.0,68.4 L411.6,67.7 L409.9,66.6 L407.2,66.6 L403.8,67.1 L400.2,67.7 L397.3,66.3 L397.6,64.5 L396.9,62.6 L399.4,60.9 L402.9,58.9 L404.4,58.6 L404.3,57.7 L403.2,57.4 L398.8,57.4 L397.1,59.1 L396.4,60.9 L393.2,61.7 L391.2,63.1 L390.3,65.4 L390.3,66.4 L392.6,67.3 L392.9,68.6 L391.5,69.2 L389.4,70.3 L388.9,72.8 L387.8,74.3 L385.7,74.1 L384.7,75.6 L382.6,75.6 L382.1,74.1 L381.9,72.8 L380.8,71.7 L379.8,70.3 L379.2,69.2 L378.4,68.2 L377.8,69.2 L376.6,69.4 L374.9,70.5 L372.4,71.0 L370.3,70.1 L369.6,68.9 L368.8,67.1 L368.8,64.9 L369.3,63.5 L371.4,62.8 L374.9,61.4 L377.5,60.0 L379.2,59.1 L381.9,57.2 L383.6,55.1 L385.9,53.0 L388.9,52.1 L391.5,50.9 L395.0,50.0 L398.5,49.5 L402.0,48.2 L405.5,48.2 L409.0,48.2 L412.5,49.8 L414.2,50.4 L417.8,51.0 L423.0,51.8 L427.4,53.0 L431.8,54.4 L432.1,55.6 L430.0,56.5 L426.5,57.0 L421.2,56.5 L418.6,55.8 L416.7,55.1 L419.0,56.8 L420.9,59.6 L423.9,60.5 L425.6,59.1 L429.1,59.6 L430.9,59.5 L430.0,57.9 L433.5,56.3 L436.1,56.6 L437.3,55.6 L436.1,52.6 L439.6,53.9 L441.4,54.0 L447.5,53.1 L453.6,52.8 L455.4,52.1 L461.5,51.9 L465.0,52.3 L465.9,50.4 L472.0,51.4 L475.5,51.0 L477.2,49.1 L479.9,47.0 L481.6,44.9 L484.2,44.2 L486.9,45.3 L486.9,48.2 L487.8,51.8 L488.6,53.5 L491.2,54.4 L490.4,51.8 L493.9,47.9 L498.2,47.4 L500.0,43.9 L507.0,44.2 L512.2,43.0 L517.5,40.9 L526.2,39.5 L535.0,38.6 L542.5,36.5 L547.2,38.1 L554.2,38.3 L558.6,40.4 L556.0,43.0 L563.0,43.7 L570.0,44.8 L577.0,43.5 L582.2,43.9 L584.9,44.8 L587.5,48.2 L591.0,47.4 L596.2,47.2 L605.0,45.6 L610.2,45.3 L617.2,46.0 L622.5,47.0 L626.0,48.4 L633.0,48.1 L640.0,49.1 L641.8,50.9 L647.0,50.5 L652.2,50.5 L657.5,49.8 L668.0,50.2 L675.9,51.8 L675.9,58.8 L671.5,59.6 L669.8,63.1 L664.5,64.4 L657.5,67.5 L650.5,67.0 L646.1,67.9 L643.5,71.0 L645.2,74.5 L643.1,76.2 L640.0,78.9 L637.4,80.6 L634.2,83.2 L633.0,79.8 L632.5,76.2 L634.2,72.8 L636.5,71.0 L640.0,66.6 L639.1,64.9 L634.8,64.5 L629.5,68.9 L624.2,68.7 L619.0,68.7 L610.2,68.7 L605.9,71.0 L600.6,76.2 L596.2,77.1 L600.6,78.4 L605.9,79.2 L607.3,81.5 L605.9,85.0 L605.4,88.0 L602.4,90.2 L598.0,94.6 L592.8,97.6 L589.2,98.0 L587.5,99.0 L586.6,101.1 L584.0,102.5 L583.1,103.7 L585.8,106.9 L586.4,110.4 L584.0,111.2 L581.4,112.3 L581.0,110.4 L581.7,107.8 L579.3,106.5 L578.8,105.1 L578.2,103.0 L574.4,103.7 L572.3,104.6 L573.1,102.0 L571.8,100.9 L569.1,102.7 L566.5,103.9 L566.1,105.1 L567.9,106.9 L568.6,107.6 L571.2,106.4 L574.4,107.0 L571.8,108.6 L569.1,110.9 L570.9,113.9 L573.3,117.0 L572.6,118.6 L573.5,120.4 L572.6,122.6 L570.5,125.6 L569.1,127.9 L566.5,129.6 L563.9,132.2 L559.5,133.5 L555.1,134.7 L553.2,135.4 L552.8,137.0 L552.0,134.9 L549.9,134.5 L548.1,134.9 L546.7,136.5 L545.2,139.2 L546.4,141.9 L549.9,145.5 L551.3,149.8 L551.1,152.0 L549.0,153.6 L546.7,154.3 L543.9,157.5 L543.4,155.0 L541.1,154.1 L539.4,151.5 L536.6,150.3 L535.9,148.9 L535.0,150.6 L533.6,154.5 L534.8,156.4 L535.7,159.9 L537.3,160.4 L538.8,161.7 L540.8,164.1 L541.1,167.2 L542.3,170.0 L541.1,170.2 L537.3,167.6 L535.7,164.6 L535.5,162.0 L534.5,160.6 L532.2,158.5 L532.0,155.9 L532.6,153.2 L532.4,149.8 L531.2,146.6 L530.6,143.6 L528.0,143.1 L525.4,144.5 L525.0,141.9 L523.6,138.4 L521.3,135.4 L520.7,133.5 L518.4,134.0 L515.8,134.4 L512.2,134.9 L511.4,137.1 L508.8,138.5 L506.1,141.0 L503.5,143.6 L500.5,145.4 L500.3,149.8 L499.7,154.1 L498.1,156.2 L495.6,158.3 L493.9,156.9 L492.7,152.9 L490.9,149.9 L489.5,145.4 L488.4,141.9 L487.4,138.9 L487.2,135.8 L486.9,133.5 L483.4,136.1 L480.8,133.5 L482.8,132.4 L479.9,131.4 L477.8,129.6 L476.4,128.0 L472.9,128.4 L468.5,128.6 L465.0,128.0 L461.5,127.5 L460.1,125.2 L458.9,124.9 L456.2,125.8 L453.6,125.6 L451.0,123.9 L449.2,121.4 L446.6,120.0 L444.9,120.2 L444.0,121.2 L444.9,123.5 L446.6,125.2 L447.8,126.6 L448.4,127.9 L449.8,126.8 L450.3,128.4 L450.1,130.0 L452.8,130.3 L455.4,130.0 L457.7,127.9 L458.5,126.5 L458.7,129.1 L460.6,130.9 L462.9,131.4 L464.7,133.1 L462.4,136.6 L461.2,139.2 L458.9,140.8 L456.6,141.9 L451.9,144.2 L447.5,146.1 L444.0,148.0 L439.6,149.4 L436.1,150.3 L435.2,147.1 L434.7,144.5 L432.6,140.1 L430.0,136.6 L428.2,134.0 L427.4,130.9 L425.1,128.4 L423.0,125.6 L421.2,123.3 L420.9,120.9 L420.2,123.1 L419.8,123.9 L418.6,122.6 L417.1,120.2 L417.4,121.8 L418.6,124.4 L420.0,127.0 L422.1,130.5 L424.4,134.0 L425.3,137.5 L427.4,141.0 L428.8,144.8 L430.9,146.2 L433.5,148.9 L435.8,151.8 L437.0,154.1 L440.5,153.8 L444.0,152.9 L447.5,152.4 L449.6,151.8 L449.2,154.1 L448.4,156.8 L446.6,160.6 L444.0,164.6 L441.4,168.1 L437.0,170.8 L433.5,173.9 L431.8,176.0 L429.1,180.4 L427.9,183.9 L429.1,186.5 L430.0,190.5 L430.9,194.4 L431.1,198.8 L428.2,202.2 L424.8,204.0 L422.1,207.5 L422.1,211.0 L422.1,214.5 L417.8,217.1 L417.6,218.5 L416.9,222.4 L414.2,225.0 L412.5,227.6 L409.0,230.2 L405.5,231.7 L402.0,232.0 L398.5,232.3 L395.0,233.4 L392.4,232.5 L392.0,230.2 L391.2,228.5 L388.9,222.5 L386.6,218.9 L385.4,212.8 L383.6,209.2 L381.0,204.0 L380.7,201.4 L381.9,196.1 L383.6,193.5 L383.1,189.1 L381.5,183.2 L381.0,181.2 L379.2,179.2 L376.6,176.9 L375.8,173.4 L376.6,170.8 L377.2,167.2 L376.6,165.5 L374.9,164.6 L372.2,164.8 L370.5,165.0 L368.8,162.3 L367.5,161.5 L363.5,161.5 L360.0,162.7 L356.5,164.1 L353.0,163.4 L346.9,164.8 L344.2,163.8 L339.9,160.4 L337.2,158.5 L336.7,155.9 L333.8,153.6 L330.6,150.8 L329.9,146.8 L331.1,144.2 L331.7,141.0 L331.1,138.4 L330.2,135.8 L332.0,131.4 L334.6,127.0 L338.1,123.9 L342.5,121.8 L342.8,119.1 L343.4,115.6 L346.0,113.7 L348.1,113.0 L349.2,110.4 L350.7,109.7 L353.0,110.9 L356.5,111.1 L360.0,109.9 L363.5,108.5 L367.0,107.9 L371.4,107.8 L374.9,107.9 L377.5,107.2 L379.2,107.8 L378.4,109.5 L379.4,110.9 L377.8,112.6 L379.2,114.4 L381.9,115.1 L386.2,116.0 L387.1,117.4 L391.5,118.6 L394.1,119.1 L395.0,117.4 L395.2,116.0 L397.6,114.9 L400.2,115.5 L403.8,116.9 L407.2,117.5 L410.8,118.4 L413.4,117.4 L416.5,117.7 L419.8,117.7 L420.4,117.2 L421.2,115.1 L422.1,113.0 L423.0,111.2 L422.7,109.5 L423.3,108.3 L421.2,108.1 L419.5,109.0 L416.9,109.3 L413.4,108.6 L410.8,108.3 L407.8,107.8 L406.4,106.0 L406.9,103.4 L405.8,102.3 L406.4,101.5 L404.6,100.9 L402.0,101.1 L400.2,102.0 L399.6,101.6 L399.9,103.4 L400.6,105.6 L402.0,106.0 L399.9,106.9 L400.2,108.6 L399.2,108.8 L398.0,108.1 L397.6,106.7 L397.1,105.5 L396.4,104.2 L395.0,103.0 L393.9,102.0 L394.1,99.4 L392.4,98.1 L389.8,96.9 L387.1,95.3 L384.5,93.6 L383.8,92.5 L381.5,93.2 L381.7,95.1 L383.8,96.4 L385.7,98.8 L388.0,100.0 L390.6,101.3 L392.4,102.3 L391.8,102.9 L390.1,101.8 L388.9,102.9 L389.9,104.2 L388.2,106.0 L387.3,106.0 L387.7,103.4 L386.2,102.1 L384.5,101.1 L381.9,99.9 L379.2,98.1 L378.0,96.4 L375.8,94.8 L373.1,95.9 L370.5,97.1 L367.9,96.4 L365.2,96.9 L365.6,99.0 L361.8,100.6 L360.0,102.9 L359.5,104.8 L358.8,106.7 L356.3,108.3 L352.3,108.3 L350.6,109.3Z M44.1,51.8 L48.5,52.1 L53.8,54.2 L59.0,55.4 L63.0,56.8 L60.8,57.9 L58.1,59.8 L53.8,59.1 L48.5,58.0 L44.1,58.8Z M558.6,211.0 L559.5,218.9 L561.2,224.1 L561.2,231.1 L563.0,233.8 L566.5,233.8 L570.0,232.0 L575.2,231.8 L577.9,230.2 L580.5,229.0 L585.8,227.8 L589.2,227.6 L592.8,228.5 L595.4,230.2 L597.1,233.4 L598.9,231.7 L601.0,230.2 L601.0,232.9 L602.4,234.6 L604.1,235.5 L605.0,238.1 L607.6,239.7 L611.1,240.4 L613.6,238.8 L616.0,240.9 L619.0,238.7 L622.3,238.1 L622.7,235.5 L623.9,232.9 L624.8,231.1 L626.9,228.5 L627.9,225.9 L628.8,222.5 L628.1,218.0 L627.4,216.8 L625.1,214.5 L623.9,212.0 L621.3,209.8 L619.9,207.5 L616.4,205.8 L615.5,203.1 L614.3,198.8 L612.0,197.5 L611.1,194.4 L609.4,191.2 L608.5,194.4 L607.8,197.9 L607.6,201.4 L606.4,203.1 L604.1,203.1 L601.5,201.9 L598.9,200.2 L597.1,198.8 L598.9,196.1 L599.6,193.8 L597.6,193.3 L594.5,193.3 L591.9,192.6 L589.2,193.7 L587.5,195.2 L586.6,198.6 L584.4,198.6 L582.2,196.7 L580.3,197.7 L577.9,200.2 L576.1,202.2 L573.9,204.2 L572.6,206.6 L570.0,207.5 L567.4,208.2 L564.8,208.7 L562.1,210.0 L559.7,210.7 L558.6,211.0Z M613.1,243.7 L619.5,244.1 L619.4,246.3 L617.2,248.6 L614.6,247.4 L613.1,243.7Z M662.2,232.7 L665.4,234.6 L667.8,237.6 L672.4,238.5 L671.3,241.1 L669.6,241.8 L668.0,244.8 L666.6,245.3 L665.6,244.6 L666.4,242.8 L664.5,241.6 L665.6,239.9 L665.4,237.2 L662.8,234.1 L662.2,232.7Z M662.2,243.4 L665.0,244.8 L664.1,246.3 L662.4,248.5 L659.8,250.0 L658.6,252.8 L656.3,254.0 L651.4,253.2 L652.1,251.6 L654.5,249.5 L658.4,247.8 L660.3,245.5 L662.2,243.4Z M589.8,173.9 L591.9,173.2 L594.7,174.1 L596.2,178.3 L598.9,176.3 L601.5,175.3 L606.2,177.0 L611.1,178.6 L615.1,181.1 L615.5,182.8 L618.3,183.2 L619.0,186.5 L621.6,188.2 L623.9,190.5 L620.8,190.5 L617.6,189.1 L615.5,186.7 L612.9,185.8 L610.8,188.2 L609.4,188.8 L606.8,188.4 L603.4,186.7 L601.5,187.2 L601.0,184.8 L603.1,184.4 L602.2,182.7 L599.8,181.1 L596.6,180.2 L594.0,178.8 L592.4,179.7 L591.0,177.4 L593.4,176.7 L591.5,176.3 L589.2,175.0Z M550.8,172.5 L551.8,174.8 L552.8,177.6 L555.5,177.8 L557.8,178.1 L560.4,179.5 L563.0,178.8 L563.9,176.0 L565.6,173.4 L565.6,171.1 L568.1,170.4 L566.3,169.3 L566.5,167.4 L565.8,165.2 L567.6,164.6 L568.8,163.0 L565.3,160.4 L564.1,161.7 L561.9,163.8 L559.5,164.6 L557.8,166.9 L554.6,168.1 L552.5,169.5 L550.9,170.0Z M526.8,162.7 L530.6,163.4 L532.4,165.5 L535.5,168.7 L537.6,169.5 L540.2,171.6 L542.0,174.2 L543.4,176.9 L545.5,178.1 L545.2,182.7 L543.1,182.8 L540.2,180.4 L537.6,177.8 L535.5,174.2 L533.2,170.8 L530.6,168.1 L528.0,165.5Z M544.1,184.4 L546.9,183.0 L549.9,183.9 L553.4,184.4 L556.9,184.4 L560.4,186.0 L560.2,187.5 L556.0,187.0 L551.6,186.2 L546.4,185.5Z M567.9,177.0 L568.9,174.2 L569.6,171.6 L571.4,170.2 L574.4,170.8 L578.4,169.9 L577.0,171.8 L572.6,171.6 L570.4,172.0 L571.8,174.2 L575.8,174.1 L572.6,175.8 L574.9,180.4 L572.8,180.7 L571.6,177.0 L570.7,177.8 L570.7,182.1 L568.9,182.1 L569.1,178.6Z M571.1,140.1 L574.0,140.3 L573.9,143.6 L572.8,145.7 L573.5,148.0 L576.8,148.3 L577.4,150.5 L576.1,149.8 L574.4,148.3 L572.4,148.7 L571.1,147.5 L570.0,144.5 L570.5,141.9Z M573.5,160.2 L576.1,158.8 L577.4,158.2 L579.6,155.9 L581.2,158.2 L580.9,161.1 L579.4,162.7 L577.0,161.1Z M577.5,150.6 L580.0,151.0 L579.1,154.7 L577.9,154.8 L577.4,152.4Z M573.3,151.8 L575.6,152.9 L575.6,156.2 L574.2,155.5 L573.5,153.8Z M589.1,113.0 L590.1,112.0 L592.8,110.4 L597.1,110.2 L599.4,107.4 L602.4,106.4 L604.6,104.2 L605.0,101.1 L607.6,100.0 L608.3,103.4 L606.6,107.8 L606.4,110.0 L604.6,111.2 L602.4,112.0 L599.8,112.0 L598.0,113.9 L596.4,112.5 L592.8,112.3Z M586.8,113.9 L589.2,113.4 L590.8,114.8 L589.8,117.5 L588.4,118.2 L587.9,115.6Z M591.9,114.8 L593.6,112.6 L595.7,112.8 L595.0,114.2 L592.8,115.1Z M605.0,99.9 L606.8,99.4 L608.1,98.0 L610.8,99.0 L614.6,96.7 L614.1,95.0 L608.5,92.9 L607.8,93.4 L607.6,96.4 L605.7,96.9Z M608.5,92.0 L611.1,91.1 L610.2,86.8 L612.9,86.8 L610.6,82.4 L610.8,78.9 L609.7,77.5 L608.5,78.9 L608.0,81.5 L608.9,86.8 L608.3,90.6Z M570.2,132.2 L571.2,134.0 L572.6,132.2 L573.3,129.1 L572.6,128.2 L570.9,129.8Z M550.1,138.9 L551.8,140.6 L553.6,140.1 L554.2,138.0 L552.5,137.3Z M499.8,155.7 L500.5,155.3 L503.2,159.4 L502.6,161.7 L501.1,162.2 L499.8,160.6 L499.7,157.6Z M350.0,84.8 L353.9,84.5 L358.2,83.8 L362.4,82.9 L363.0,80.5 L360.5,79.8 L359.8,78.0 L357.9,76.9 L357.0,75.2 L356.3,73.6 L356.8,71.7 L354.6,69.9 L351.2,69.9 L350.0,71.9 L350.2,74.0 L351.1,75.6 L351.4,76.8 L354.4,76.4 L354.4,78.0 L354.8,79.0 L351.9,79.2 L351.8,80.1 L352.7,81.0 L350.9,81.9 L352.7,82.2 L354.6,82.4 L353.0,82.9Z M349.5,81.1 L349.3,79.0 L350.2,77.3 L349.2,75.9 L346.9,75.7 L345.1,76.9 L342.5,77.6 L343.4,79.4 L342.7,81.1 L342.2,82.2 L345.1,82.2 L348.8,81.1Z M379.2,35.5 L382.8,32.9 L389.8,32.1 L398.5,32.0 L407.2,32.3 L400.2,35.6 L395.0,37.0 L389.1,38.5 L384.5,37.2Z M450.1,47.4 L453.6,48.8 L460.6,49.0 L457.1,45.6 L459.8,42.1 L466.8,39.9 L473.8,38.6 L479.9,37.9 L478.1,37.6 L470.2,38.1 L463.2,39.0 L457.1,40.9 L454.5,43.9 L451.9,45.6Z M524.5,33.7 L535.0,33.4 L542.9,34.6 L540.2,31.6 L531.5,30.8 L522.8,32.1Z M599.8,40.4 L606.8,39.5 L620.8,40.9 L613.8,42.1 L603.2,41.8Z M672.4,48.2 L675.9,47.4 L675.9,48.4Z M44.1,48.2 L44.1,47.4 L49.4,47.9 L46.8,48.4Z M439.6,31.6 L444.0,30.4 L450.1,30.8 L447.5,32.0Z M151.8,47.4 L154.4,45.1 L160.5,44.4 L167.5,44.9 L172.8,43.9 L177.1,44.4 L180.6,45.6 L183.2,48.2 L179.8,50.9 L174.5,51.4 L169.2,52.1 L162.2,52.6 L157.0,50.9 L154.4,49.0Z M140.4,46.7 L141.2,43.9 L144.8,42.3 L150.9,42.5 L154.4,43.2 L156.1,44.4 L151.8,46.5 L149.1,47.7 L144.8,48.2Z M155.2,40.4 L158.8,38.8 L167.5,39.0 L174.5,39.9 L172.8,41.2 L164.0,42.3 L157.0,41.2Z M181.5,43.7 L191.1,43.5 L192.0,46.3 L188.5,47.9 L183.2,46.1Z M192.9,43.0 L201.6,43.0 L197.2,46.5 L193.8,46.0Z M199.0,40.4 L220.0,39.1 L220.0,42.0 L202.5,42.0 L197.2,41.2Z M202.5,38.6 L204.2,36.0 L209.5,33.4 L216.5,31.1 L228.8,29.0 L246.2,27.2 L253.2,28.1 L246.2,29.9 L237.5,31.6 L228.8,33.9 L223.5,35.6 L220.0,37.8 L211.2,39.0Z M193.8,34.2 L200.8,30.8 L206.0,31.6 L204.2,35.1Z M178.0,38.6 L190.2,38.1 L190.2,40.9 L183.2,40.4Z M246.8,64.9 L244.5,63.6 L240.1,62.9 L234.9,61.4 L234.0,60.0 L229.6,59.5 L224.4,59.1 L223.8,57.9 L230.5,57.9 L231.4,56.1 L232.6,54.4 L228.8,53.0 L224.4,52.1 L221.8,50.0 L217.4,50.0 L211.2,49.5 L206.0,49.0 L203.4,47.4 L202.2,44.8 L206.0,43.7 L211.2,43.9 L220.0,43.5 L225.2,45.3 L232.2,47.2 L237.5,48.6 L241.0,50.0 L241.9,51.8 L243.6,53.5 L248.9,55.6 L251.5,56.1 L248.9,58.2 L246.2,58.8 L245.4,60.5 L246.6,61.9 L246.2,63.1Z M209.2,60.1 L217.4,61.2 L219.1,60.0 L213.9,57.9 L210.4,57.0 L207.4,58.4Z M256.2,89.2 L257.6,87.6 L259.0,85.4 L260.6,82.9 L262.9,82.2 L262.5,84.6 L265.5,85.7 L266.4,87.6 L267.8,89.4 L267.1,90.8 L265.3,89.7 L263.8,90.4 L262.2,89.5 L260.2,89.2Z M135.3,83.6 L137.8,84.3 L141.2,86.9 L144.0,87.8 L142.6,86.2 L139.5,84.3 L136.4,83.2Z M211.4,134.2 L214.8,132.4 L218.2,132.1 L221.8,133.3 L224.4,134.9 L227.9,136.3 L230.2,137.1 L227.7,137.7 L224.0,137.7 L224.9,136.5 L222.6,134.9 L219.1,134.0 L216.5,133.6 L213.0,134.2Z M229.6,140.3 L232.6,137.7 L237.5,137.9 L240.3,140.0 L237.5,140.6 L234.9,141.7Z M223.0,140.3 L226.5,140.6 L225.6,141.2 L223.2,140.6Z M242.4,140.1 L245.2,140.3 L245.0,141.0 L242.4,141.0Z M87.2,137.1 L88.8,138.0 L87.7,139.4 L87.0,138.2Z M83.0,134.7 L84.2,135.2 L83.3,135.2Z M80.3,133.6 L81.2,133.6 L80.9,134.2Z M85.2,135.4 L87.0,135.9 L86.1,136.5Z M240.0,264.5 L241.9,266.5 L245.9,268.2 L242.8,268.9 L239.2,269.5 L235.8,268.8 L231.4,266.1 L236.6,265.8Z M252.7,261.9 L258.9,262.5 L257.6,263.8 L254.1,263.7Z M446.3,193.5 L448.4,199.6 L447.2,202.2 L444.9,208.4 L443.1,215.4 L439.1,217.1 L436.5,213.6 L435.8,210.1 L437.7,207.5 L437.0,202.6 L441.0,200.0 L444.0,196.1Z M381.7,105.8 L387.3,105.5 L386.4,108.3 L381.9,106.7Z M374.3,100.8 L376.8,100.6 L376.8,103.9 L374.9,104.4Z M375.1,97.6 L376.6,97.2 L376.6,100.0 L375.2,99.5Z M401.1,110.4 L406.0,110.7 L405.7,111.2 L401.3,110.9Z M416.5,111.2 L420.6,110.0 L419.3,111.4 L417.2,112.0Z M480.4,257.9 L483.4,258.2 L482.2,259.5 L480.4,259.3Z M647.0,207.8 L652.2,211.3 L651.2,211.5 L647.5,208.9Z M633.9,184.8 L639.1,187.4 L640.9,189.1 L638.2,188.6 L633.9,185.8Z M619.5,182.3 L623.4,181.8 L626.4,180.0 L625.1,182.7 L621.6,183.3Z M623.9,177.2 L626.9,179.2 L628.1,180.7 L626.5,179.8Z M577.0,190.3 L579.6,188.2 L582.6,187.2 L578.8,189.3Z M562.1,187.2 L568.2,187.5 L574.4,187.2 L575.1,187.9 L568.2,188.1 L563.0,188.1Z M583.1,169.3 L585.2,169.9 L584.0,171.6 L584.9,173.9 L583.1,173.2Z M584.0,178.1 L588.9,178.5 L587.5,179.3 L584.5,178.8Z M580.3,178.1 L582.6,178.3 L581.6,179.2Z M651.4,198.4 L652.8,199.3 L654.4,201.5 L653.6,201.9 L651.7,200.0Z M670.3,203.0 L672.6,202.1 L675.5,201.0 L674.3,202.6 L672.0,204.3 L670.3,203.8Z M615.5,40.5 L622.5,40.2 L624.2,41.2 L617.2,41.4Z M144.8,38.1 L150.0,36.5 L156.1,37.2 L153.5,39.1 L148.2,39.5Z M178.0,35.5 L185.0,34.4 L186.8,35.5 L181.5,36.4Z M189.4,35.1 L193.8,34.8 L192.9,36.4 L190.2,36.2Z M192.0,40.7 L196.4,40.4 L196.4,41.8 L192.9,42.0Z M186.8,50.9 L192.0,50.9 L192.0,52.6 L186.8,52.1Z M223.2,128.4 L224.2,128.9 L224.0,130.1 L223.0,129.6Z M224.4,125.4 L225.4,126.0 L223.7,126.1Z" fill="none" stroke="#8abbd9" stroke-width="6" stroke-opacity="0.55" stroke-linejoin="round" filter="url(#bl2)"/>
<g filter="url(#bl)" fill="#86b7d6" opacity="0.85"><path d="M239.2,268.8 L249.8,270.5 L260.2,263.5 L262.0,253.0 L258.5,242.5 L251.5,240.8 L246.2,246.0 L242.8,256.5Z"/><path d="M535.0,158.5 L549.0,155.0 L566.5,158.5 L568.2,172.5 L563.0,183.0 L549.0,184.8 L542.0,179.5 L535.0,169.0Z"/><path d="M564.8,130.5 L573.5,125.2 L580.5,116.5 L578.8,106.0 L570.0,100.8 L564.8,106.0Z"/><path d="M353.0,85.0 L368.8,85.0 L377.5,78.0 L381.0,72.8 L398.5,67.5 L409.0,57.0 L395.0,57.0 L377.5,64.0 L367.0,65.8 L354.8,71.0 L349.5,78.0Z"/><path d="M193.8,60.5 L223.5,60.5 L227.0,78.0 L216.5,85.0 L193.8,74.5Z"/><path d="M570.0,190.0 L608.5,186.5 L608.5,197.0 L584.0,200.5 L570.0,198.8Z"/><path d="M447.5,50.0 L465.0,53.5 L535.0,46.5 L605.0,50.0 L675.0,50.0 L675.0,36.0 L605.0,32.5 L535.0,29.0 L465.0,30.8 L430.0,36.0Z"/><path d="M45.0,46.5 L97.5,46.5 L150.0,41.2 L255.0,39.5 L237.5,25.5 L45.0,25.5Z"/><path d="M188.5,134.0 L202.5,120.0 L216.5,120.0 L220.0,128.8 L209.5,135.8Z"/><path d="M444.0,120.0 L458.0,125.2 L458.0,130.5 L447.5,130.5Z"/><path d="M598.0,78.0 L610.2,67.5 L631.2,67.5 L634.8,79.8 L615.5,93.8 L606.8,90.2Z"/><path d="M584.0,111.2 L589.2,97.2 L603.2,88.5 L606.8,93.8 L603.2,104.2 L594.5,111.2Z"/><path d="M237.5,102.5 L255.0,95.5 L272.5,92.0 L269.0,86.8 L246.2,88.5Z"/></g>
<path d="M85.6,47.7 L81.8,48.4 L76.5,49.5 L73.9,50.4 L69.2,51.9 L68.1,52.9 L73.0,54.2 L73.9,55.1 L76.5,55.4 L77.4,56.3 L73.0,56.0 L69.5,56.5 L65.8,57.7 L68.6,59.3 L72.1,59.6 L78.2,59.5 L78.6,61.2 L74.8,62.1 L71.6,62.9 L69.5,64.9 L71.2,66.1 L75.6,67.5 L76.5,68.7 L82.6,69.8 L85.2,69.6 L83.5,71.7 L80.0,74.0 L75.6,75.7 L72.1,76.9 L74.8,76.6 L80.0,75.2 L83.5,73.6 L87.0,72.1 L90.0,70.5 L91.9,68.9 L94.3,67.0 L97.2,65.4 L95.4,66.3 L94.3,68.4 L97.5,68.2 L101.0,67.1 L103.6,66.3 L108.0,67.5 L112.4,67.7 L115.9,68.2 L119.4,69.6 L121.1,70.6 L123.8,72.4 L125.5,74.1 L128.1,76.2 L131.6,77.1 L132.5,78.9 L135.1,81.1 L136.4,82.9 L138.6,83.8 L141.2,85.0 L143.4,86.0 L144.8,86.8 L145.5,88.1 L144.8,88.7 L142.0,88.0 L142.8,91.1 L143.0,95.1 L142.1,98.1 L142.6,101.6 L143.4,103.4 L144.9,106.0 L145.8,107.2 L146.7,108.5 L147.7,110.2 L149.0,112.0 L151.4,112.6 L152.8,113.2 L154.9,115.3 L155.8,117.0 L156.6,118.8 L157.7,120.4 L159.6,122.6 L160.5,124.0 L162.6,125.2 L163.6,127.4 L164.7,129.5 L166.8,131.5 L168.4,132.1 L167.0,130.0 L166.1,127.9 L164.5,125.6 L163.1,123.0 L161.9,120.7 L160.0,118.6 L159.3,117.0 L160.9,117.4 L162.2,117.9 L163.6,120.5 L165.4,123.3 L166.6,124.5 L168.4,126.6 L170.1,128.0 L171.9,129.6 L174.0,131.9 L175.2,133.6 L175.7,136.5 L175.2,137.5 L177.0,139.1 L178.7,140.3 L181.5,141.4 L183.6,142.4 L185.7,143.3 L188.5,144.3 L191.1,145.0 L193.8,144.2 L195.5,144.3 L197.2,145.4 L198.7,147.0 L200.4,148.2 L202.8,149.0 L205.1,149.4 L206.7,149.6 L207.4,150.5 L208.3,151.2 L209.7,152.9 L210.0,154.1 L210.0,155.2 L211.2,155.5 L212.3,155.9 L213.7,157.5 L214.8,158.2 L216.5,158.2 L218.2,158.8 L219.5,159.5 L220.0,158.5 L220.9,156.9 L222.6,157.8 L223.5,159.0 L224.4,160.6 L224.5,162.9 L224.7,165.5 L223.8,168.0 L222.1,169.7 L220.0,171.1 L219.5,173.4 L218.4,175.3 L219.5,177.0 L219.5,178.6 L217.9,180.4 L218.1,182.7 L220.2,184.6 L221.8,187.4 L223.5,190.9 L225.2,193.7 L226.7,196.7 L228.4,199.5 L232.2,201.5 L234.9,203.1 L236.8,204.7 L237.3,208.4 L237.0,213.6 L236.5,218.0 L235.2,222.9 L234.9,226.8 L234.7,230.2 L234.2,233.2 L233.0,235.5 L231.4,237.8 L231.4,241.6 L230.8,245.1 L231.7,246.9 L231.0,249.2 L229.8,251.2 L228.2,253.9 L228.2,257.4 L227.9,260.9 L229.1,263.8 L231.4,265.2 L234.0,266.5 L236.1,266.7 L237.0,265.4 L238.7,264.5 L240.3,264.2 L238.9,262.8 L239.2,261.0 L240.7,260.2 L241.5,258.8 L244.0,256.5 L244.8,255.3 L242.0,253.7 L242.0,252.3 L243.6,251.2 L245.7,251.1 L245.9,248.6 L247.3,247.8 L248.7,247.2 L247.3,246.5 L246.2,244.8 L248.0,244.2 L250.6,243.5 L251.2,240.9 L253.1,240.6 L256.8,239.9 L259.4,239.0 L260.8,236.2 L259.7,234.3 L258.0,233.0 L259.4,232.7 L261.6,233.6 L263.9,233.6 L266.5,231.5 L268.6,228.8 L271.3,225.5 L273.4,223.1 L275.0,220.6 L275.1,218.0 L276.2,216.2 L278.6,214.5 L280.7,214.0 L284.4,212.8 L286.5,212.6 L288.2,210.8 L289.5,208.0 L290.7,205.4 L291.4,203.3 L291.9,199.6 L291.8,196.1 L292.8,194.9 L294.9,191.8 L297.3,189.1 L298.8,186.5 L298.9,184.8 L298.4,182.3 L296.1,181.2 L293.8,180.2 L292.3,178.8 L289.1,177.4 L286.5,177.2 L282.7,176.9 L280.4,175.0 L277.8,173.7 L275.1,174.8 L273.4,173.0 L272.5,171.6 L271.6,169.3 L270.2,165.7 L269.0,164.3 L266.4,162.5 L263.9,162.0 L261.1,162.2 L259.4,161.7 L257.8,160.4 L255.3,158.0 L253.6,157.5 L252.4,155.3 L251.0,154.1 L248.9,154.0 L247.1,154.7 L245.2,154.7 L243.6,154.0 L240.7,154.0 L238.4,152.4 L237.2,151.5 L237.3,152.7 L235.0,153.2 L234.7,154.7 L235.6,156.0 L234.2,153.6 L234.9,152.2 L233.5,151.7 L231.7,152.7 L230.2,153.1 L227.9,154.1 L227.3,156.2 L225.6,157.5 L224.5,157.5 L223.2,156.2 L220.7,155.7 L219.0,156.9 L217.2,156.8 L216.0,156.0 L213.7,153.6 L213.5,151.0 L214.0,147.7 L214.4,146.2 L212.3,144.8 L209.5,144.7 L206.7,144.7 L205.0,145.0 L205.5,143.5 L205.8,140.3 L206.9,138.2 L207.4,135.2 L205.7,134.9 L202.0,135.8 L201.6,137.9 L199.9,140.1 L197.6,140.1 L195.2,140.6 L192.9,139.6 L191.3,138.4 L189.9,136.5 L189.0,134.4 L188.8,130.5 L189.2,127.4 L189.5,124.7 L191.1,122.8 L193.4,121.6 L195.5,120.5 L198.1,120.7 L200.2,121.2 L202.5,121.6 L203.9,121.2 L203.5,119.8 L205.7,119.3 L208.3,119.3 L210.7,120.5 L213.0,120.0 L214.8,121.8 L215.3,123.9 L216.5,126.1 L217.9,128.4 L219.3,128.2 L220.0,125.8 L219.0,122.6 L217.7,119.6 L217.7,117.4 L218.6,116.1 L221.4,114.4 L223.7,113.0 L226.0,111.8 L227.9,110.5 L227.3,108.1 L227.2,106.5 L228.6,105.0 L228.9,104.1 L230.3,102.9 L230.5,101.5 L233.1,100.9 L234.3,100.2 L236.3,99.9 L237.5,99.5 L236.5,98.5 L236.1,97.6 L237.0,96.2 L239.2,95.3 L241.9,94.5 L242.9,93.9 L244.7,94.5 L246.6,93.2 L248.0,93.4 L246.2,94.6 L244.7,95.7 L245.7,96.2 L248.0,94.8 L250.6,94.1 L253.2,93.2 L255.0,92.2 L254.1,90.4 L252.5,91.5 L250.6,92.5 L247.7,91.6 L246.4,89.7 L246.6,88.7 L247.7,87.3 L245.7,86.4 L242.8,86.6 L240.1,87.8 L237.5,89.4 L238.4,88.3 L240.3,86.6 L242.8,86.0 L246.2,84.6 L250.6,84.6 L255.0,84.6 L257.6,83.4 L259.9,82.5 L262.4,81.3 L262.0,79.9 L261.3,78.5 L258.9,77.3 L256.4,75.9 L254.1,74.9 L252.4,73.6 L251.7,71.9 L250.1,70.5 L248.5,68.7 L246.6,67.0 L245.9,68.4 L244.5,69.6 L241.9,70.5 L240.1,69.9 L238.4,68.7 L238.2,66.4 L236.6,65.6 L234.9,65.2 L233.1,64.2 L230.5,63.5 L227.9,63.5 L224.4,63.1 L223.5,64.9 L224.2,67.1 L224.9,68.9 L225.8,71.0 L226.0,72.8 L224.9,75.2 L222.5,76.4 L221.4,77.8 L222.3,80.5 L221.2,82.4 L219.3,82.7 L216.8,80.6 L216.2,78.9 L216.0,76.2 L213.9,75.9 L210.9,75.7 L208.1,74.7 L205.5,73.6 L202.8,72.8 L200.9,72.2 L198.1,72.2 L196.9,69.9 L194.5,69.1 L194.3,67.0 L195.3,65.4 L197.1,63.6 L198.7,62.6 L201.3,61.4 L205.1,60.5 L206.9,59.5 L208.8,57.4 L209.5,56.0 L210.9,56.1 L212.7,56.3 L214.4,56.5 L215.6,55.2 L217.5,54.2 L216.8,52.8 L217.5,51.2 L214.9,50.7 L212.1,50.4 L210.0,51.0 L210.5,52.3 L208.3,53.3 L206.0,52.8 L205.0,51.4 L202.5,51.9 L201.6,50.7 L199.0,49.5 L199.5,47.9 L197.8,46.9 L195.3,46.7 L193.4,47.4 L192.2,48.6 L191.1,50.5 L192.3,51.9 L189.4,52.3 L187.3,52.8 L185.0,53.9 L181.5,53.9 L178.0,53.5 L174.5,52.5 L170.1,52.6 L171.0,54.0 L167.5,53.9 L163.1,54.0 L159.6,53.7 L158.8,52.3 L154.4,51.8 L150.9,51.0 L147.4,50.7 L143.9,51.0 L142.1,50.0 L138.6,50.4 L136.0,49.6 L133.4,50.4 L130.8,50.9 L127.2,50.9 L124.6,50.9 L122.9,51.9 L119.4,51.9 L116.8,51.0 L113.2,50.5 L109.8,49.8 L106.2,49.8 L102.8,49.5 L99.2,49.3 L95.8,49.1 L93.1,48.6 L89.6,48.1 L85.6,47.7Z M283.2,67.9 L280.4,66.8 L276.9,66.1 L275.1,64.9 L273.4,63.1 L271.6,61.4 L269.9,60.1 L268.6,58.2 L266.4,56.6 L265.9,54.7 L266.9,53.0 L270.0,52.1 L269.9,50.5 L267.2,50.7 L264.3,49.6 L265.1,48.6 L268.1,47.9 L264.6,47.2 L262.4,45.8 L261.5,43.5 L258.9,42.0 L257.1,40.4 L252.4,39.3 L246.2,39.3 L240.1,39.1 L236.6,38.1 L234.9,36.9 L232.2,35.5 L233.5,34.8 L239.2,33.7 L245.4,32.1 L247.7,30.8 L255.0,29.4 L263.8,28.6 L272.5,28.3 L281.2,28.0 L290.0,26.9 L300.5,26.2 L311.0,26.4 L318.0,27.1 L323.2,28.0 L320.6,29.0 L325.0,29.7 L331.1,29.4 L338.7,30.2 L332.0,31.5 L327.6,32.5 L325.9,34.2 L326.8,35.6 L327.6,37.4 L324.1,38.6 L326.2,40.2 L324.1,41.8 L322.0,42.8 L322.4,44.8 L318.9,45.6 L321.2,47.4 L321.5,49.0 L318.0,49.5 L315.4,50.9 L311.9,52.6 L307.5,53.3 L304.0,54.0 L301.4,55.2 L298.8,56.5 L295.2,57.4 L292.6,58.0 L290.0,58.8 L288.6,60.1 L287.0,61.9 L285.6,64.0 L285.1,65.8 L283.2,67.9Z M318.0,57.9 L320.6,56.5 L324.1,56.8 L328.0,56.8 L331.5,56.1 L334.4,56.5 L334.4,57.9 L336.2,58.6 L334.3,59.8 L331.1,60.9 L327.6,61.6 L324.1,61.0 L320.3,60.9 L321.5,59.6 L318.0,59.1 L321.0,58.2 L318.0,57.9Z M350.2,109.5 L349.0,108.5 L347.1,107.4 L344.4,107.8 L344.6,105.5 L343.4,104.6 L344.4,102.1 L344.8,99.4 L343.7,97.2 L346.0,96.0 L350.0,96.2 L353.9,96.4 L356.8,96.5 L357.9,94.3 L357.9,91.6 L356.2,89.9 L352.3,88.9 L351.8,87.6 L354.8,87.1 L357.2,87.3 L356.7,85.5 L358.1,86.0 L360.3,85.5 L362.8,84.6 L364.4,83.1 L366.3,82.4 L367.5,81.1 L368.4,79.8 L370.5,78.9 L372.6,78.9 L375.1,78.2 L375.4,76.9 L374.3,75.4 L374.2,73.4 L375.1,72.6 L377.5,71.7 L378.6,71.5 L378.0,73.4 L378.9,74.1 L377.5,75.2 L377.0,76.2 L377.5,77.1 L379.2,78.0 L381.9,77.3 L384.5,78.0 L387.1,77.6 L389.6,76.9 L392.4,76.6 L392.7,77.3 L394.3,77.3 L397.1,75.9 L396.9,75.0 L396.8,73.1 L397.8,72.1 L399.6,71.4 L400.8,72.6 L402.2,72.8 L402.7,70.5 L401.1,69.9 L400.9,68.9 L403.4,68.4 L406.4,68.2 L409.0,68.4 L411.6,67.7 L409.9,66.6 L407.2,66.6 L403.8,67.1 L400.2,67.7 L397.3,66.3 L397.6,64.5 L396.9,62.6 L399.4,60.9 L402.9,58.9 L404.4,58.6 L404.3,57.7 L403.2,57.4 L398.8,57.4 L397.1,59.1 L396.4,60.9 L393.2,61.7 L391.2,63.1 L390.3,65.4 L390.3,66.4 L392.6,67.3 L392.9,68.6 L391.5,69.2 L389.4,70.3 L388.9,72.8 L387.8,74.3 L385.7,74.1 L384.7,75.6 L382.6,75.6 L382.1,74.1 L381.9,72.8 L380.8,71.7 L379.8,70.3 L379.2,69.2 L378.4,68.2 L377.8,69.2 L376.6,69.4 L374.9,70.5 L372.4,71.0 L370.3,70.1 L369.6,68.9 L368.8,67.1 L368.8,64.9 L369.3,63.5 L371.4,62.8 L374.9,61.4 L377.5,60.0 L379.2,59.1 L381.9,57.2 L383.6,55.1 L385.9,53.0 L388.9,52.1 L391.5,50.9 L395.0,50.0 L398.5,49.5 L402.0,48.2 L405.5,48.2 L409.0,48.2 L412.5,49.8 L414.2,50.4 L417.8,51.0 L423.0,51.8 L427.4,53.0 L431.8,54.4 L432.1,55.6 L430.0,56.5 L426.5,57.0 L421.2,56.5 L418.6,55.8 L416.7,55.1 L419.0,56.8 L420.9,59.6 L423.9,60.5 L425.6,59.1 L429.1,59.6 L430.9,59.5 L430.0,57.9 L433.5,56.3 L436.1,56.6 L437.3,55.6 L436.1,52.6 L439.6,53.9 L441.4,54.0 L447.5,53.1 L453.6,52.8 L455.4,52.1 L461.5,51.9 L465.0,52.3 L465.9,50.4 L472.0,51.4 L475.5,51.0 L477.2,49.1 L479.9,47.0 L481.6,44.9 L484.2,44.2 L486.9,45.3 L486.9,48.2 L487.8,51.8 L488.6,53.5 L491.2,54.4 L490.4,51.8 L493.9,47.9 L498.2,47.4 L500.0,43.9 L507.0,44.2 L512.2,43.0 L517.5,40.9 L526.2,39.5 L535.0,38.6 L542.5,36.5 L547.2,38.1 L554.2,38.3 L558.6,40.4 L556.0,43.0 L563.0,43.7 L570.0,44.8 L577.0,43.5 L582.2,43.9 L584.9,44.8 L587.5,48.2 L591.0,47.4 L596.2,47.2 L605.0,45.6 L610.2,45.3 L617.2,46.0 L622.5,47.0 L626.0,48.4 L633.0,48.1 L640.0,49.1 L641.8,50.9 L647.0,50.5 L652.2,50.5 L657.5,49.8 L668.0,50.2 L675.9,51.8 L675.9,58.8 L671.5,59.6 L669.8,63.1 L664.5,64.4 L657.5,67.5 L650.5,67.0 L646.1,67.9 L643.5,71.0 L645.2,74.5 L643.1,76.2 L640.0,78.9 L637.4,80.6 L634.2,83.2 L633.0,79.8 L632.5,76.2 L634.2,72.8 L636.5,71.0 L640.0,66.6 L639.1,64.9 L634.8,64.5 L629.5,68.9 L624.2,68.7 L619.0,68.7 L610.2,68.7 L605.9,71.0 L600.6,76.2 L596.2,77.1 L600.6,78.4 L605.9,79.2 L607.3,81.5 L605.9,85.0 L605.4,88.0 L602.4,90.2 L598.0,94.6 L592.8,97.6 L589.2,98.0 L587.5,99.0 L586.6,101.1 L584.0,102.5 L583.1,103.7 L585.8,106.9 L586.4,110.4 L584.0,111.2 L581.4,112.3 L581.0,110.4 L581.7,107.8 L579.3,106.5 L578.8,105.1 L578.2,103.0 L574.4,103.7 L572.3,104.6 L573.1,102.0 L571.8,100.9 L569.1,102.7 L566.5,103.9 L566.1,105.1 L567.9,106.9 L568.6,107.6 L571.2,106.4 L574.4,107.0 L571.8,108.6 L569.1,110.9 L570.9,113.9 L573.3,117.0 L572.6,118.6 L573.5,120.4 L572.6,122.6 L570.5,125.6 L569.1,127.9 L566.5,129.6 L563.9,132.2 L559.5,133.5 L555.1,134.7 L553.2,135.4 L552.8,137.0 L552.0,134.9 L549.9,134.5 L548.1,134.9 L546.7,136.5 L545.2,139.2 L546.4,141.9 L549.9,145.5 L551.3,149.8 L551.1,152.0 L549.0,153.6 L546.7,154.3 L543.9,157.5 L543.4,155.0 L541.1,154.1 L539.4,151.5 L536.6,150.3 L535.9,148.9 L535.0,150.6 L533.6,154.5 L534.8,156.4 L535.7,159.9 L537.3,160.4 L538.8,161.7 L540.8,164.1 L541.1,167.2 L542.3,170.0 L541.1,170.2 L537.3,167.6 L535.7,164.6 L535.5,162.0 L534.5,160.6 L532.2,158.5 L532.0,155.9 L532.6,153.2 L532.4,149.8 L531.2,146.6 L530.6,143.6 L528.0,143.1 L525.4,144.5 L525.0,141.9 L523.6,138.4 L521.3,135.4 L520.7,133.5 L518.4,134.0 L515.8,134.4 L512.2,134.9 L511.4,137.1 L508.8,138.5 L506.1,141.0 L503.5,143.6 L500.5,145.4 L500.3,149.8 L499.7,154.1 L498.1,156.2 L495.6,158.3 L493.9,156.9 L492.7,152.9 L490.9,149.9 L489.5,145.4 L488.4,141.9 L487.4,138.9 L487.2,135.8 L486.9,133.5 L483.4,136.1 L480.8,133.5 L482.8,132.4 L479.9,131.4 L477.8,129.6 L476.4,128.0 L472.9,128.4 L468.5,128.6 L465.0,128.0 L461.5,127.5 L460.1,125.2 L458.9,124.9 L456.2,125.8 L453.6,125.6 L451.0,123.9 L449.2,121.4 L446.6,120.0 L444.9,120.2 L444.0,121.2 L444.9,123.5 L446.6,125.2 L447.8,126.6 L448.4,127.9 L449.8,126.8 L450.3,128.4 L450.1,130.0 L452.8,130.3 L455.4,130.0 L457.7,127.9 L458.5,126.5 L458.7,129.1 L460.6,130.9 L462.9,131.4 L464.7,133.1 L462.4,136.6 L461.2,139.2 L458.9,140.8 L456.6,141.9 L451.9,144.2 L447.5,146.1 L444.0,148.0 L439.6,149.4 L436.1,150.3 L435.2,147.1 L434.7,144.5 L432.6,140.1 L430.0,136.6 L428.2,134.0 L427.4,130.9 L425.1,128.4 L423.0,125.6 L421.2,123.3 L420.9,120.9 L420.2,123.1 L419.8,123.9 L418.6,122.6 L417.1,120.2 L417.4,121.8 L418.6,124.4 L420.0,127.0 L422.1,130.5 L424.4,134.0 L425.3,137.5 L427.4,141.0 L428.8,144.8 L430.9,146.2 L433.5,148.9 L435.8,151.8 L437.0,154.1 L440.5,153.8 L444.0,152.9 L447.5,152.4 L449.6,151.8 L449.2,154.1 L448.4,156.8 L446.6,160.6 L444.0,164.6 L441.4,168.1 L437.0,170.8 L433.5,173.9 L431.8,176.0 L429.1,180.4 L427.9,183.9 L429.1,186.5 L430.0,190.5 L430.9,194.4 L431.1,198.8 L428.2,202.2 L424.8,204.0 L422.1,207.5 L422.1,211.0 L422.1,214.5 L417.8,217.1 L417.6,218.5 L416.9,222.4 L414.2,225.0 L412.5,227.6 L409.0,230.2 L405.5,231.7 L402.0,232.0 L398.5,232.3 L395.0,233.4 L392.4,232.5 L392.0,230.2 L391.2,228.5 L388.9,222.5 L386.6,218.9 L385.4,212.8 L383.6,209.2 L381.0,204.0 L380.7,201.4 L381.9,196.1 L383.6,193.5 L383.1,189.1 L381.5,183.2 L381.0,181.2 L379.2,179.2 L376.6,176.9 L375.8,173.4 L376.6,170.8 L377.2,167.2 L376.6,165.5 L374.9,164.6 L372.2,164.8 L370.5,165.0 L368.8,162.3 L367.5,161.5 L363.5,161.5 L360.0,162.7 L356.5,164.1 L353.0,163.4 L346.9,164.8 L344.2,163.8 L339.9,160.4 L337.2,158.5 L336.7,155.9 L333.8,153.6 L330.6,150.8 L329.9,146.8 L331.1,144.2 L331.7,141.0 L331.1,138.4 L330.2,135.8 L332.0,131.4 L334.6,127.0 L338.1,123.9 L342.5,121.8 L342.8,119.1 L343.4,115.6 L346.0,113.7 L348.1,113.0 L349.2,110.4 L350.7,109.7 L353.0,110.9 L356.5,111.1 L360.0,109.9 L363.5,108.5 L367.0,107.9 L371.4,107.8 L374.9,107.9 L377.5,107.2 L379.2,107.8 L378.4,109.5 L379.4,110.9 L377.8,112.6 L379.2,114.4 L381.9,115.1 L386.2,116.0 L387.1,117.4 L391.5,118.6 L394.1,119.1 L395.0,117.4 L395.2,116.0 L397.6,114.9 L400.2,115.5 L403.8,116.9 L407.2,117.5 L410.8,118.4 L413.4,117.4 L416.5,117.7 L419.8,117.7 L420.4,117.2 L421.2,115.1 L422.1,113.0 L423.0,111.2 L422.7,109.5 L423.3,108.3 L421.2,108.1 L419.5,109.0 L416.9,109.3 L413.4,108.6 L410.8,108.3 L407.8,107.8 L406.4,106.0 L406.9,103.4 L405.8,102.3 L406.4,101.5 L404.6,100.9 L402.0,101.1 L400.2,102.0 L399.6,101.6 L399.9,103.4 L400.6,105.6 L402.0,106.0 L399.9,106.9 L400.2,108.6 L399.2,108.8 L398.0,108.1 L397.6,106.7 L397.1,105.5 L396.4,104.2 L395.0,103.0 L393.9,102.0 L394.1,99.4 L392.4,98.1 L389.8,96.9 L387.1,95.3 L384.5,93.6 L383.8,92.5 L381.5,93.2 L381.7,95.1 L383.8,96.4 L385.7,98.8 L388.0,100.0 L390.6,101.3 L392.4,102.3 L391.8,102.9 L390.1,101.8 L388.9,102.9 L389.9,104.2 L388.2,106.0 L387.3,106.0 L387.7,103.4 L386.2,102.1 L384.5,101.1 L381.9,99.9 L379.2,98.1 L378.0,96.4 L375.8,94.8 L373.1,95.9 L370.5,97.1 L367.9,96.4 L365.2,96.9 L365.6,99.0 L361.8,100.6 L360.0,102.9 L359.5,104.8 L358.8,106.7 L356.3,108.3 L352.3,108.3 L350.6,109.3Z M44.1,51.8 L48.5,52.1 L53.8,54.2 L59.0,55.4 L63.0,56.8 L60.8,57.9 L58.1,59.8 L53.8,59.1 L48.5,58.0 L44.1,58.8Z M558.6,211.0 L559.5,218.9 L561.2,224.1 L561.2,231.1 L563.0,233.8 L566.5,233.8 L570.0,232.0 L575.2,231.8 L577.9,230.2 L580.5,229.0 L585.8,227.8 L589.2,227.6 L592.8,228.5 L595.4,230.2 L597.1,233.4 L598.9,231.7 L601.0,230.2 L601.0,232.9 L602.4,234.6 L604.1,235.5 L605.0,238.1 L607.6,239.7 L611.1,240.4 L613.6,238.8 L616.0,240.9 L619.0,238.7 L622.3,238.1 L622.7,235.5 L623.9,232.9 L624.8,231.1 L626.9,228.5 L627.9,225.9 L628.8,222.5 L628.1,218.0 L627.4,216.8 L625.1,214.5 L623.9,212.0 L621.3,209.8 L619.9,207.5 L616.4,205.8 L615.5,203.1 L614.3,198.8 L612.0,197.5 L611.1,194.4 L609.4,191.2 L608.5,194.4 L607.8,197.9 L607.6,201.4 L606.4,203.1 L604.1,203.1 L601.5,201.9 L598.9,200.2 L597.1,198.8 L598.9,196.1 L599.6,193.8 L597.6,193.3 L594.5,193.3 L591.9,192.6 L589.2,193.7 L587.5,195.2 L586.6,198.6 L584.4,198.6 L582.2,196.7 L580.3,197.7 L577.9,200.2 L576.1,202.2 L573.9,204.2 L572.6,206.6 L570.0,207.5 L567.4,208.2 L564.8,208.7 L562.1,210.0 L559.7,210.7 L558.6,211.0Z M613.1,243.7 L619.5,244.1 L619.4,246.3 L617.2,248.6 L614.6,247.4 L613.1,243.7Z M662.2,232.7 L665.4,234.6 L667.8,237.6 L672.4,238.5 L671.3,241.1 L669.6,241.8 L668.0,244.8 L666.6,245.3 L665.6,244.6 L666.4,242.8 L664.5,241.6 L665.6,239.9 L665.4,237.2 L662.8,234.1 L662.2,232.7Z M662.2,243.4 L665.0,244.8 L664.1,246.3 L662.4,248.5 L659.8,250.0 L658.6,252.8 L656.3,254.0 L651.4,253.2 L652.1,251.6 L654.5,249.5 L658.4,247.8 L660.3,245.5 L662.2,243.4Z M589.8,173.9 L591.9,173.2 L594.7,174.1 L596.2,178.3 L598.9,176.3 L601.5,175.3 L606.2,177.0 L611.1,178.6 L615.1,181.1 L615.5,182.8 L618.3,183.2 L619.0,186.5 L621.6,188.2 L623.9,190.5 L620.8,190.5 L617.6,189.1 L615.5,186.7 L612.9,185.8 L610.8,188.2 L609.4,188.8 L606.8,188.4 L603.4,186.7 L601.5,187.2 L601.0,184.8 L603.1,184.4 L602.2,182.7 L599.8,181.1 L596.6,180.2 L594.0,178.8 L592.4,179.7 L591.0,177.4 L593.4,176.7 L591.5,176.3 L589.2,175.0Z M550.8,172.5 L551.8,174.8 L552.8,177.6 L555.5,177.8 L557.8,178.1 L560.4,179.5 L563.0,178.8 L563.9,176.0 L565.6,173.4 L565.6,171.1 L568.1,170.4 L566.3,169.3 L566.5,167.4 L565.8,165.2 L567.6,164.6 L568.8,163.0 L565.3,160.4 L564.1,161.7 L561.9,163.8 L559.5,164.6 L557.8,166.9 L554.6,168.1 L552.5,169.5 L550.9,170.0Z M526.8,162.7 L530.6,163.4 L532.4,165.5 L535.5,168.7 L537.6,169.5 L540.2,171.6 L542.0,174.2 L543.4,176.9 L545.5,178.1 L545.2,182.7 L543.1,182.8 L540.2,180.4 L537.6,177.8 L535.5,174.2 L533.2,170.8 L530.6,168.1 L528.0,165.5Z M544.1,184.4 L546.9,183.0 L549.9,183.9 L553.4,184.4 L556.9,184.4 L560.4,186.0 L560.2,187.5 L556.0,187.0 L551.6,186.2 L546.4,185.5Z M567.9,177.0 L568.9,174.2 L569.6,171.6 L571.4,170.2 L574.4,170.8 L578.4,169.9 L577.0,171.8 L572.6,171.6 L570.4,172.0 L571.8,174.2 L575.8,174.1 L572.6,175.8 L574.9,180.4 L572.8,180.7 L571.6,177.0 L570.7,177.8 L570.7,182.1 L568.9,182.1 L569.1,178.6Z M571.1,140.1 L574.0,140.3 L573.9,143.6 L572.8,145.7 L573.5,148.0 L576.8,148.3 L577.4,150.5 L576.1,149.8 L574.4,148.3 L572.4,148.7 L571.1,147.5 L570.0,144.5 L570.5,141.9Z M573.5,160.2 L576.1,158.8 L577.4,158.2 L579.6,155.9 L581.2,158.2 L580.9,161.1 L579.4,162.7 L577.0,161.1Z M577.5,150.6 L580.0,151.0 L579.1,154.7 L577.9,154.8 L577.4,152.4Z M573.3,151.8 L575.6,152.9 L575.6,156.2 L574.2,155.5 L573.5,153.8Z M589.1,113.0 L590.1,112.0 L592.8,110.4 L597.1,110.2 L599.4,107.4 L602.4,106.4 L604.6,104.2 L605.0,101.1 L607.6,100.0 L608.3,103.4 L606.6,107.8 L606.4,110.0 L604.6,111.2 L602.4,112.0 L599.8,112.0 L598.0,113.9 L596.4,112.5 L592.8,112.3Z M586.8,113.9 L589.2,113.4 L590.8,114.8 L589.8,117.5 L588.4,118.2 L587.9,115.6Z M591.9,114.8 L593.6,112.6 L595.7,112.8 L595.0,114.2 L592.8,115.1Z M605.0,99.9 L606.8,99.4 L608.1,98.0 L610.8,99.0 L614.6,96.7 L614.1,95.0 L608.5,92.9 L607.8,93.4 L607.6,96.4 L605.7,96.9Z M608.5,92.0 L611.1,91.1 L610.2,86.8 L612.9,86.8 L610.6,82.4 L610.8,78.9 L609.7,77.5 L608.5,78.9 L608.0,81.5 L608.9,86.8 L608.3,90.6Z M570.2,132.2 L571.2,134.0 L572.6,132.2 L573.3,129.1 L572.6,128.2 L570.9,129.8Z M550.1,138.9 L551.8,140.6 L553.6,140.1 L554.2,138.0 L552.5,137.3Z M499.8,155.7 L500.5,155.3 L503.2,159.4 L502.6,161.7 L501.1,162.2 L499.8,160.6 L499.7,157.6Z M350.0,84.8 L353.9,84.5 L358.2,83.8 L362.4,82.9 L363.0,80.5 L360.5,79.8 L359.8,78.0 L357.9,76.9 L357.0,75.2 L356.3,73.6 L356.8,71.7 L354.6,69.9 L351.2,69.9 L350.0,71.9 L350.2,74.0 L351.1,75.6 L351.4,76.8 L354.4,76.4 L354.4,78.0 L354.8,79.0 L351.9,79.2 L351.8,80.1 L352.7,81.0 L350.9,81.9 L352.7,82.2 L354.6,82.4 L353.0,82.9Z M349.5,81.1 L349.3,79.0 L350.2,77.3 L349.2,75.9 L346.9,75.7 L345.1,76.9 L342.5,77.6 L343.4,79.4 L342.7,81.1 L342.2,82.2 L345.1,82.2 L348.8,81.1Z M379.2,35.5 L382.8,32.9 L389.8,32.1 L398.5,32.0 L407.2,32.3 L400.2,35.6 L395.0,37.0 L389.1,38.5 L384.5,37.2Z M450.1,47.4 L453.6,48.8 L460.6,49.0 L457.1,45.6 L459.8,42.1 L466.8,39.9 L473.8,38.6 L479.9,37.9 L478.1,37.6 L470.2,38.1 L463.2,39.0 L457.1,40.9 L454.5,43.9 L451.9,45.6Z M524.5,33.7 L535.0,33.4 L542.9,34.6 L540.2,31.6 L531.5,30.8 L522.8,32.1Z M599.8,40.4 L606.8,39.5 L620.8,40.9 L613.8,42.1 L603.2,41.8Z M672.4,48.2 L675.9,47.4 L675.9,48.4Z M44.1,48.2 L44.1,47.4 L49.4,47.9 L46.8,48.4Z M439.6,31.6 L444.0,30.4 L450.1,30.8 L447.5,32.0Z M151.8,47.4 L154.4,45.1 L160.5,44.4 L167.5,44.9 L172.8,43.9 L177.1,44.4 L180.6,45.6 L183.2,48.2 L179.8,50.9 L174.5,51.4 L169.2,52.1 L162.2,52.6 L157.0,50.9 L154.4,49.0Z M140.4,46.7 L141.2,43.9 L144.8,42.3 L150.9,42.5 L154.4,43.2 L156.1,44.4 L151.8,46.5 L149.1,47.7 L144.8,48.2Z M155.2,40.4 L158.8,38.8 L167.5,39.0 L174.5,39.9 L172.8,41.2 L164.0,42.3 L157.0,41.2Z M181.5,43.7 L191.1,43.5 L192.0,46.3 L188.5,47.9 L183.2,46.1Z M192.9,43.0 L201.6,43.0 L197.2,46.5 L193.8,46.0Z M199.0,40.4 L220.0,39.1 L220.0,42.0 L202.5,42.0 L197.2,41.2Z M202.5,38.6 L204.2,36.0 L209.5,33.4 L216.5,31.1 L228.8,29.0 L246.2,27.2 L253.2,28.1 L246.2,29.9 L237.5,31.6 L228.8,33.9 L223.5,35.6 L220.0,37.8 L211.2,39.0Z M193.8,34.2 L200.8,30.8 L206.0,31.6 L204.2,35.1Z M178.0,38.6 L190.2,38.1 L190.2,40.9 L183.2,40.4Z M246.8,64.9 L244.5,63.6 L240.1,62.9 L234.9,61.4 L234.0,60.0 L229.6,59.5 L224.4,59.1 L223.8,57.9 L230.5,57.9 L231.4,56.1 L232.6,54.4 L228.8,53.0 L224.4,52.1 L221.8,50.0 L217.4,50.0 L211.2,49.5 L206.0,49.0 L203.4,47.4 L202.2,44.8 L206.0,43.7 L211.2,43.9 L220.0,43.5 L225.2,45.3 L232.2,47.2 L237.5,48.6 L241.0,50.0 L241.9,51.8 L243.6,53.5 L248.9,55.6 L251.5,56.1 L248.9,58.2 L246.2,58.8 L245.4,60.5 L246.6,61.9 L246.2,63.1Z M209.2,60.1 L217.4,61.2 L219.1,60.0 L213.9,57.9 L210.4,57.0 L207.4,58.4Z M256.2,89.2 L257.6,87.6 L259.0,85.4 L260.6,82.9 L262.9,82.2 L262.5,84.6 L265.5,85.7 L266.4,87.6 L267.8,89.4 L267.1,90.8 L265.3,89.7 L263.8,90.4 L262.2,89.5 L260.2,89.2Z M135.3,83.6 L137.8,84.3 L141.2,86.9 L144.0,87.8 L142.6,86.2 L139.5,84.3 L136.4,83.2Z M211.4,134.2 L214.8,132.4 L218.2,132.1 L221.8,133.3 L224.4,134.9 L227.9,136.3 L230.2,137.1 L227.7,137.7 L224.0,137.7 L224.9,136.5 L222.6,134.9 L219.1,134.0 L216.5,133.6 L213.0,134.2Z M229.6,140.3 L232.6,137.7 L237.5,137.9 L240.3,140.0 L237.5,140.6 L234.9,141.7Z M223.0,140.3 L226.5,140.6 L225.6,141.2 L223.2,140.6Z M242.4,140.1 L245.2,140.3 L245.0,141.0 L242.4,141.0Z M87.2,137.1 L88.8,138.0 L87.7,139.4 L87.0,138.2Z M83.0,134.7 L84.2,135.2 L83.3,135.2Z M80.3,133.6 L81.2,133.6 L80.9,134.2Z M85.2,135.4 L87.0,135.9 L86.1,136.5Z M240.0,264.5 L241.9,266.5 L245.9,268.2 L242.8,268.9 L239.2,269.5 L235.8,268.8 L231.4,266.1 L236.6,265.8Z M252.7,261.9 L258.9,262.5 L257.6,263.8 L254.1,263.7Z M446.3,193.5 L448.4,199.6 L447.2,202.2 L444.9,208.4 L443.1,215.4 L439.1,217.1 L436.5,213.6 L435.8,210.1 L437.7,207.5 L437.0,202.6 L441.0,200.0 L444.0,196.1Z M381.7,105.8 L387.3,105.5 L386.4,108.3 L381.9,106.7Z M374.3,100.8 L376.8,100.6 L376.8,103.9 L374.9,104.4Z M375.1,97.6 L376.6,97.2 L376.6,100.0 L375.2,99.5Z M401.1,110.4 L406.0,110.7 L405.7,111.2 L401.3,110.9Z M416.5,111.2 L420.6,110.0 L419.3,111.4 L417.2,112.0Z M480.4,257.9 L483.4,258.2 L482.2,259.5 L480.4,259.3Z M647.0,207.8 L652.2,211.3 L651.2,211.5 L647.5,208.9Z M633.9,184.8 L639.1,187.4 L640.9,189.1 L638.2,188.6 L633.9,185.8Z M619.5,182.3 L623.4,181.8 L626.4,180.0 L625.1,182.7 L621.6,183.3Z M623.9,177.2 L626.9,179.2 L628.1,180.7 L626.5,179.8Z M577.0,190.3 L579.6,188.2 L582.6,187.2 L578.8,189.3Z M562.1,187.2 L568.2,187.5 L574.4,187.2 L575.1,187.9 L568.2,188.1 L563.0,188.1Z M583.1,169.3 L585.2,169.9 L584.0,171.6 L584.9,173.9 L583.1,173.2Z M584.0,178.1 L588.9,178.5 L587.5,179.3 L584.5,178.8Z M580.3,178.1 L582.6,178.3 L581.6,179.2Z M651.4,198.4 L652.8,199.3 L654.4,201.5 L653.6,201.9 L651.7,200.0Z M670.3,203.0 L672.6,202.1 L675.5,201.0 L674.3,202.6 L672.0,204.3 L670.3,203.8Z M615.5,40.5 L622.5,40.2 L624.2,41.2 L617.2,41.4Z M144.8,38.1 L150.0,36.5 L156.1,37.2 L153.5,39.1 L148.2,39.5Z M178.0,35.5 L185.0,34.4 L186.8,35.5 L181.5,36.4Z M189.4,35.1 L193.8,34.8 L192.9,36.4 L190.2,36.2Z M192.0,40.7 L196.4,40.4 L196.4,41.8 L192.9,42.0Z M186.8,50.9 L192.0,50.9 L192.0,52.6 L186.8,52.1Z M223.2,128.4 L224.2,128.9 L224.0,130.1 L223.0,129.6Z M224.4,125.4 L225.4,126.0 L223.7,126.1Z" fill="#e2e9c0" fill-rule="nonzero"/>
<g clip-path="url(#lc)"><g filter="url(#bl)"><rect x="294.4" y="15.0" width="17.8" height="4.7" fill="#e0e3dc"/><rect x="215.6" y="19.4" width="39.7" height="4.7" fill="#e3e5e4"/><rect x="255.0" y="19.4" width="87.8" height="4.7" fill="#e0e3dc"/><rect x="438.8" y="19.4" width="13.4" height="4.7" fill="#e0e3dc"/><rect x="176.2" y="23.8" width="79.0" height="4.7" fill="#e3e5e4"/><rect x="255.0" y="23.8" width="92.2" height="4.7" fill="#e0e3dc"/><rect x="373.1" y="23.8" width="44.0" height="4.7" fill="#e0e3dc"/><rect x="430.0" y="23.8" width="30.9" height="4.7" fill="#e0e3dc"/><rect x="513.1" y="23.8" width="35.3" height="4.7" fill="#e0e3dc"/><rect x="136.9" y="28.1" width="4.7" height="4.7" fill="#e0e3dc"/><rect x="141.2" y="28.1" width="114.0" height="4.7" fill="#e3e5e4"/><rect x="255.0" y="28.1" width="92.2" height="4.7" fill="#e0e3dc"/><rect x="368.8" y="28.1" width="48.4" height="4.7" fill="#e0e3dc"/><rect x="430.0" y="28.1" width="57.2" height="4.7" fill="#e0e3dc"/><rect x="513.1" y="28.1" width="48.4" height="4.7" fill="#e0e3dc"/><rect x="136.9" y="32.5" width="4.7" height="4.7" fill="#e0e3dc"/><rect x="141.2" y="32.5" width="114.0" height="4.7" fill="#e3e5e4"/><rect x="255.0" y="32.5" width="92.2" height="4.7" fill="#e0e3dc"/><rect x="368.8" y="32.5" width="48.4" height="4.7" fill="#e0e3dc"/><rect x="430.0" y="32.5" width="57.2" height="4.7" fill="#e0e3dc"/><rect x="504.4" y="32.5" width="61.5" height="4.7" fill="#e0e3dc"/><rect x="574.4" y="32.5" width="9.1" height="4.7" fill="#e0e3dc"/><rect x="591.9" y="32.5" width="39.7" height="4.7" fill="#e0e3dc"/><rect x="45.0" y="36.9" width="9.1" height="4.7" fill="#e0e3dc"/><rect x="80.0" y="36.9" width="13.4" height="4.7" fill="#e0e3dc"/><rect x="132.5" y="36.9" width="9.1" height="4.7" fill="#e0e3dc"/><rect x="141.2" y="36.9" width="114.0" height="4.7" fill="#e3e5e4"/><rect x="255.0" y="36.9" width="87.8" height="4.7" fill="#e0e3dc"/><rect x="368.8" y="36.9" width="48.4" height="4.7" fill="#e0e3dc"/><rect x="434.4" y="36.9" width="201.6" height="4.7" fill="#e0e3dc"/><rect x="670.6" y="36.9" width="4.7" height="4.7" fill="#e0e3dc"/><rect x="45.0" y="41.2" width="13.4" height="4.7" fill="#e0e3dc"/><rect x="62.5" y="41.2" width="79.0" height="4.7" fill="#e0e3dc"/><rect x="141.2" y="41.2" width="114.0" height="4.7" fill="#e3e5e4"/><rect x="255.0" y="41.2" width="79.0" height="4.7" fill="#e0e3dc"/><rect x="373.1" y="41.2" width="57.2" height="4.7" fill="#e0e3dc"/><rect x="443.1" y="41.2" width="232.2" height="4.7" fill="#e0e3dc"/><rect x="45.0" y="45.6" width="96.5" height="4.7" fill="#e0e3dc"/><rect x="141.2" y="45.6" width="114.0" height="4.7" fill="#e3e5e4"/><rect x="255.0" y="45.6" width="83.4" height="4.7" fill="#e0e3dc"/><rect x="377.5" y="45.6" width="297.8" height="4.7" fill="#e0e3dc"/><rect x="45.0" y="50.0" width="70.3" height="4.7" fill="#d2dcca"/><rect x="115.0" y="50.0" width="157.8" height="4.7" fill="#d8ddd2"/><rect x="272.5" y="50.0" width="70.3" height="4.7" fill="#eeeff2"/><rect x="373.1" y="50.0" width="65.9" height="4.7" fill="#c0d4b4"/><rect x="438.8" y="50.0" width="236.6" height="4.7" fill="#dfe2d9"/><rect x="45.0" y="54.4" width="70.3" height="4.7" fill="#d2dcca"/><rect x="115.0" y="54.4" width="157.8" height="4.7" fill="#d8ddd2"/><rect x="272.5" y="54.4" width="70.3" height="4.7" fill="#eeeff2"/><rect x="342.5" y="54.4" width="4.7" height="4.7" fill="#c0d4b4"/><rect x="360.0" y="54.4" width="79.0" height="4.7" fill="#c0d4b4"/><rect x="438.8" y="54.4" width="236.6" height="4.7" fill="#dfe2d9"/><rect x="45.0" y="58.8" width="70.3" height="4.7" fill="#d2dcca"/><rect x="115.0" y="58.8" width="157.8" height="4.7" fill="#d8ddd2"/><rect x="272.5" y="58.8" width="70.3" height="4.7" fill="#eeeff2"/><rect x="342.5" y="58.8" width="96.5" height="4.7" fill="#c0d4b4"/><rect x="438.8" y="58.8" width="236.6" height="4.7" fill="#b6ceae"/><rect x="45.0" y="63.1" width="70.3" height="4.7" fill="#c9d8c0"/><rect x="115.0" y="63.1" width="157.8" height="4.7" fill="#bdd2b4"/><rect x="272.5" y="63.1" width="30.9" height="4.7" fill="#eeeff2"/><rect x="311.9" y="63.1" width="30.9" height="4.7" fill="#eeeff2"/><rect x="342.5" y="63.1" width="96.5" height="4.7" fill="#c2d6b2"/><rect x="438.8" y="63.1" width="236.6" height="4.7" fill="#b6ceae"/><rect x="62.5" y="67.5" width="52.8" height="4.7" fill="#c9d8c0"/><rect x="115.0" y="67.5" width="157.8" height="4.7" fill="#bdd2b4"/><rect x="272.5" y="67.5" width="22.2" height="4.7" fill="#eeeff2"/><rect x="316.2" y="67.5" width="17.8" height="4.7" fill="#eeeff2"/><rect x="338.1" y="67.5" width="4.7" height="4.7" fill="#eeeff2"/><rect x="342.5" y="67.5" width="96.5" height="4.7" fill="#c2d6b2"/><rect x="438.8" y="67.5" width="236.6" height="4.7" fill="#b6ceae"/><rect x="62.5" y="71.9" width="52.8" height="4.7" fill="#c9d8c0"/><rect x="115.0" y="71.9" width="153.4" height="4.7" fill="#bdd2b4"/><rect x="272.5" y="71.9" width="17.8" height="4.7" fill="#e0e8c2"/><rect x="333.8" y="71.9" width="4.7" height="4.7" fill="#e0e8c2"/><rect x="338.1" y="71.9" width="100.9" height="4.7" fill="#c2d6b2"/><rect x="438.8" y="71.9" width="227.8" height="4.7" fill="#b6ceae"/><rect x="62.5" y="76.2" width="35.3" height="4.7" fill="#c9d8c0"/><rect x="115.0" y="76.2" width="157.8" height="4.7" fill="#bdd2b4"/><rect x="333.8" y="76.2" width="4.7" height="4.7" fill="#e0e8c2"/><rect x="338.1" y="76.2" width="100.9" height="4.7" fill="#c2d6b2"/><rect x="438.8" y="76.2" width="179.7" height="4.7" fill="#b6ceae"/><rect x="622.5" y="76.2" width="30.9" height="4.7" fill="#b6ceae"/><rect x="62.5" y="80.6" width="26.6" height="4.7" fill="#c9d8c0"/><rect x="119.4" y="80.6" width="153.4" height="4.7" fill="#bdd2b4"/><rect x="272.5" y="80.6" width="4.7" height="4.7" fill="#e0e8c2"/><rect x="333.8" y="80.6" width="4.7" height="4.7" fill="#e0e8c2"/><rect x="338.1" y="80.6" width="100.9" height="4.7" fill="#c2d6b2"/><rect x="438.8" y="80.6" width="70.3" height="4.7" fill="#e2e7c6"/><rect x="508.8" y="80.6" width="61.5" height="4.7" fill="#dfe2c8"/><rect x="570.0" y="80.6" width="83.4" height="4.7" fill="#c2d6b2"/><rect x="128.1" y="85.0" width="30.9" height="4.7" fill="#c0d4b2"/><rect x="158.8" y="85.0" width="17.8" height="4.7" fill="#d4dac8"/><rect x="176.2" y="85.0" width="17.8" height="4.7" fill="#e4ebc2"/><rect x="193.8" y="85.0" width="79.0" height="4.7" fill="#c6d9b4"/><rect x="272.5" y="85.0" width="4.7" height="4.7" fill="#e0e8c2"/><rect x="333.8" y="85.0" width="4.7" height="4.7" fill="#e0e8c2"/><rect x="338.1" y="85.0" width="70.3" height="4.7" fill="#c2d6b2"/><rect x="408.1" y="85.0" width="30.9" height="4.7" fill="#e0e7c2"/><rect x="438.8" y="85.0" width="70.3" height="4.7" fill="#e2e7c6"/><rect x="508.8" y="85.0" width="61.5" height="4.7" fill="#dfe2c8"/><rect x="570.0" y="85.0" width="52.8" height="4.7" fill="#c2d6b2"/><rect x="626.9" y="85.0" width="17.8" height="4.7" fill="#c2d6b2"/><rect x="128.1" y="89.4" width="30.9" height="4.7" fill="#c0d4b2"/><rect x="158.8" y="89.4" width="17.8" height="4.7" fill="#d4dac8"/><rect x="176.2" y="89.4" width="17.8" height="4.7" fill="#e4ebc2"/><rect x="193.8" y="89.4" width="79.0" height="4.7" fill="#c6d9b4"/><rect x="272.5" y="89.4" width="4.7" height="4.7" fill="#e0e8c2"/><rect x="333.8" y="89.4" width="4.7" height="4.7" fill="#e0e8c2"/><rect x="338.1" y="89.4" width="70.3" height="4.7" fill="#c2d6b2"/><rect x="408.1" y="89.4" width="30.9" height="4.7" fill="#e0e7c2"/><rect x="438.8" y="89.4" width="70.3" height="4.7" fill="#e2e7c6"/><rect x="508.8" y="89.4" width="61.5" height="4.7" fill="#dfe2c8"/><rect x="570.0" y="89.4" width="52.8" height="4.7" fill="#c2d6b2"/><rect x="626.9" y="89.4" width="13.4" height="4.7" fill="#c2d6b2"/><rect x="132.5" y="93.8" width="26.6" height="4.7" fill="#c0d4b2"/><rect x="158.8" y="93.8" width="17.8" height="4.7" fill="#d4dac8"/><rect x="176.2" y="93.8" width="17.8" height="4.7" fill="#e4ebc2"/><rect x="193.8" y="93.8" width="79.0" height="4.7" fill="#c6d9b4"/><rect x="272.5" y="93.8" width="4.7" height="4.7" fill="#e0e8c2"/><rect x="333.8" y="93.8" width="4.7" height="4.7" fill="#e0e8c2"/><rect x="338.1" y="93.8" width="17.8" height="4.7" fill="#dfe4c4"/><rect x="355.6" y="93.8" width="52.8" height="4.7" fill="#c2d6b2"/><rect x="408.1" y="93.8" width="30.9" height="4.7" fill="#e0e7c2"/><rect x="438.8" y="93.8" width="44.0" height="4.7" fill="#e6e1cd"/><rect x="482.5" y="93.8" width="87.8" height="4.7" fill="#e5e2cc"/><rect x="570.0" y="93.8" width="52.8" height="4.7" fill="#c8dab4"/><rect x="132.5" y="98.1" width="22.2" height="4.7" fill="#d8dcc4"/><rect x="154.4" y="98.1" width="26.6" height="4.7" fill="#e4dfcb"/><rect x="180.6" y="98.1" width="13.4" height="4.7" fill="#e6ecc4"/><rect x="193.8" y="98.1" width="65.9" height="4.7" fill="#cbdcb6"/><rect x="333.8" y="98.1" width="4.7" height="4.7" fill="#e0e8c2"/><rect x="338.1" y="98.1" width="17.8" height="4.7" fill="#dfe4c4"/><rect x="355.6" y="98.1" width="48.4" height="4.7" fill="#c2d6b2"/><rect x="403.8" y="98.1" width="35.3" height="4.7" fill="#dfe2c6"/><rect x="438.8" y="98.1" width="44.0" height="4.7" fill="#e6e1cd"/><rect x="482.5" y="98.1" width="39.7" height="4.7" fill="#e2ded4"/><rect x="521.9" y="98.1" width="48.4" height="4.7" fill="#e5e2cc"/><rect x="570.0" y="98.1" width="52.8" height="4.7" fill="#c8dab4"/><rect x="132.5" y="102.5" width="22.2" height="4.7" fill="#d8dcc4"/><rect x="154.4" y="102.5" width="26.6" height="4.7" fill="#e4dfcb"/><rect x="180.6" y="102.5" width="13.4" height="4.7" fill="#e6ecc4"/><rect x="193.8" y="102.5" width="57.2" height="4.7" fill="#cbdcb6"/><rect x="333.8" y="102.5" width="4.7" height="4.7" fill="#e0e8c2"/><rect x="338.1" y="102.5" width="17.8" height="4.7" fill="#dfe4c4"/><rect x="355.6" y="102.5" width="48.4" height="4.7" fill="#c2d6b2"/><rect x="403.8" y="102.5" width="35.3" height="4.7" fill="#dfe2c6"/><rect x="438.8" y="102.5" width="44.0" height="4.7" fill="#e6e1cd"/><rect x="482.5" y="102.5" width="39.7" height="4.7" fill="#e2ded4"/><rect x="521.9" y="102.5" width="48.4" height="4.7" fill="#e5e2cc"/><rect x="570.0" y="102.5" width="52.8" height="4.7" fill="#c8dab4"/><rect x="136.9" y="106.9" width="17.8" height="4.7" fill="#d8dcc4"/><rect x="154.4" y="106.9" width="26.6" height="4.7" fill="#e4dfcb"/><rect x="180.6" y="106.9" width="13.4" height="4.7" fill="#e6ecc4"/><rect x="193.8" y="106.9" width="44.0" height="4.7" fill="#cbdcb6"/><rect x="333.8" y="106.9" width="83.4" height="4.7" fill="#f0ebdf"/><rect x="416.9" y="106.9" width="22.2" height="4.7" fill="#dfe2c6"/><rect x="438.8" y="106.9" width="35.3" height="4.7" fill="#e5dfca"/><rect x="473.8" y="106.9" width="9.1" height="4.7" fill="#d9dad6"/><rect x="482.5" y="106.9" width="61.5" height="4.7" fill="#cfd2d3"/><rect x="543.8" y="106.9" width="74.7" height="4.7" fill="#cfdfb4"/><rect x="136.9" y="111.2" width="17.8" height="4.7" fill="#d8dcc4"/><rect x="154.4" y="111.2" width="26.6" height="4.7" fill="#e4dfcb"/><rect x="180.6" y="111.2" width="13.4" height="4.7" fill="#e6ecc4"/><rect x="193.8" y="111.2" width="44.0" height="4.7" fill="#cbdcb6"/><rect x="333.8" y="111.2" width="83.4" height="4.7" fill="#f0ebdf"/><rect x="416.9" y="111.2" width="57.2" height="4.7" fill="#e5dfca"/><rect x="473.8" y="111.2" width="9.1" height="4.7" fill="#d9dad6"/><rect x="482.5" y="111.2" width="61.5" height="4.7" fill="#cfd2d3"/><rect x="543.8" y="111.2" width="70.3" height="4.7" fill="#cfdfb4"/><rect x="141.2" y="115.6" width="13.4" height="4.7" fill="#d8dcc4"/><rect x="154.4" y="115.6" width="26.6" height="4.7" fill="#e4dfcb"/><rect x="180.6" y="115.6" width="13.4" height="4.7" fill="#e6ecc4"/><rect x="193.8" y="115.6" width="39.7" height="4.7" fill="#cbdcb6"/><rect x="329.4" y="115.6" width="87.8" height="4.7" fill="#f0ebdf"/><rect x="416.9" y="115.6" width="52.8" height="4.7" fill="#ece6d8"/><rect x="469.4" y="115.6" width="13.4" height="4.7" fill="#e5dfca"/><rect x="482.5" y="115.6" width="61.5" height="4.7" fill="#cfd2d3"/><rect x="543.8" y="115.6" width="70.3" height="4.7" fill="#cfdfb4"/><rect x="145.6" y="120.0" width="39.7" height="4.7" fill="#e4e0cb"/><rect x="185.0" y="120.0" width="17.8" height="4.7" fill="#dde6c0"/><rect x="202.5" y="120.0" width="30.9" height="4.7" fill="#c6d8b2"/><rect x="325.0" y="120.0" width="92.2" height="4.7" fill="#f0ebdf"/><rect x="416.9" y="120.0" width="52.8" height="4.7" fill="#ece6d8"/><rect x="469.4" y="120.0" width="13.4" height="4.7" fill="#e5dfca"/><rect x="482.5" y="120.0" width="61.5" height="4.7" fill="#cfd2d3"/><rect x="543.8" y="120.0" width="61.5" height="4.7" fill="#cfdfb4"/><rect x="71.2" y="124.4" width="17.8" height="4.7" fill="#e4e0cb"/><rect x="150.0" y="124.4" width="35.3" height="4.7" fill="#e4e0cb"/><rect x="185.0" y="124.4" width="17.8" height="4.7" fill="#dde6c0"/><rect x="202.5" y="124.4" width="30.9" height="4.7" fill="#c6d8b2"/><rect x="325.0" y="124.4" width="109.7" height="4.7" fill="#f0ebdf"/><rect x="434.4" y="124.4" width="35.3" height="4.7" fill="#ece6d8"/><rect x="469.4" y="124.4" width="13.4" height="4.7" fill="#e5dfca"/><rect x="482.5" y="124.4" width="13.4" height="4.7" fill="#e6e2cc"/><rect x="495.6" y="124.4" width="48.4" height="4.7" fill="#d8e2bc"/><rect x="543.8" y="124.4" width="48.4" height="4.7" fill="#cfdfb4"/><rect x="71.2" y="128.8" width="26.6" height="4.7" fill="#e4e0cb"/><rect x="154.4" y="128.8" width="30.9" height="4.7" fill="#e4e0cb"/><rect x="185.0" y="128.8" width="17.8" height="4.7" fill="#dde6c0"/><rect x="202.5" y="128.8" width="44.0" height="4.7" fill="#c6d8b2"/><rect x="320.6" y="128.8" width="4.7" height="4.7" fill="#e0e8c2"/><rect x="325.0" y="128.8" width="109.7" height="4.7" fill="#f0ebdf"/><rect x="434.4" y="128.8" width="35.3" height="4.7" fill="#ece6d8"/><rect x="469.4" y="128.8" width="26.6" height="4.7" fill="#e6e2cc"/><rect x="495.6" y="128.8" width="48.4" height="4.7" fill="#d8e2bc"/><rect x="543.8" y="128.8" width="39.7" height="4.7" fill="#cfdfb4"/><rect x="71.2" y="133.1" width="26.6" height="4.7" fill="#d2e0b8"/><rect x="154.4" y="133.1" width="100.9" height="4.7" fill="#d2e0b8"/><rect x="320.6" y="133.1" width="4.7" height="4.7" fill="#e0e8c2"/><rect x="325.0" y="133.1" width="109.7" height="4.7" fill="#f0ebdf"/><rect x="434.4" y="133.1" width="35.3" height="4.7" fill="#ece6d8"/><rect x="469.4" y="133.1" width="52.8" height="4.7" fill="#e2e9be"/><rect x="521.9" y="133.1" width="61.5" height="4.7" fill="#c2d7b0"/><rect x="71.2" y="137.5" width="26.6" height="4.7" fill="#d2e0b8"/><rect x="158.8" y="137.5" width="96.5" height="4.7" fill="#d2e0b8"/><rect x="320.6" y="137.5" width="4.7" height="4.7" fill="#e0e8c2"/><rect x="325.0" y="137.5" width="109.7" height="4.7" fill="#f0ebdf"/><rect x="434.4" y="137.5" width="35.3" height="4.7" fill="#ece6d8"/><rect x="469.4" y="137.5" width="52.8" height="4.7" fill="#e2e9be"/><rect x="521.9" y="137.5" width="61.5" height="4.7" fill="#c2d7b0"/><rect x="80.0" y="141.9" width="17.8" height="4.7" fill="#bad2ac"/><rect x="167.5" y="141.9" width="87.8" height="4.7" fill="#bad2ac"/><rect x="320.6" y="141.9" width="4.7" height="4.7" fill="#e0e8c2"/><rect x="325.0" y="141.9" width="109.7" height="4.7" fill="#e4e9c2"/><rect x="434.4" y="141.9" width="35.3" height="4.7" fill="#ece6d8"/><rect x="478.1" y="141.9" width="44.0" height="4.7" fill="#e2e9be"/><rect x="521.9" y="141.9" width="65.9" height="4.7" fill="#c2d7b0"/><rect x="84.4" y="146.2" width="9.1" height="4.7" fill="#bad2ac"/><rect x="171.9" y="146.2" width="87.8" height="4.7" fill="#bad2ac"/><rect x="320.6" y="146.2" width="4.7" height="4.7" fill="#e0e8c2"/><rect x="325.0" y="146.2" width="109.7" height="4.7" fill="#e4e9c2"/><rect x="434.4" y="146.2" width="30.9" height="4.7" fill="#ece6d8"/><rect x="478.1" y="146.2" width="35.3" height="4.7" fill="#e2e9be"/><rect x="517.5" y="146.2" width="4.7" height="4.7" fill="#e2e9be"/><rect x="521.9" y="146.2" width="65.9" height="4.7" fill="#c2d7b0"/><rect x="185.0" y="150.6" width="79.0" height="4.7" fill="#d2e0b6"/><rect x="320.6" y="150.6" width="4.7" height="4.7" fill="#e0e8c2"/><rect x="325.0" y="150.6" width="127.2" height="4.7" fill="#e4e9c2"/><rect x="451.9" y="150.6" width="9.1" height="4.7" fill="#e2e9be"/><rect x="482.5" y="150.6" width="26.6" height="4.7" fill="#e2e9be"/><rect x="521.9" y="150.6" width="65.9" height="4.7" fill="#c2d7b0"/><rect x="198.1" y="155.0" width="79.0" height="4.7" fill="#d2e0b6"/><rect x="320.6" y="155.0" width="4.7" height="4.7" fill="#e0e8c2"/><rect x="325.0" y="155.0" width="52.8" height="4.7" fill="#ccdcb4"/><rect x="377.5" y="155.0" width="44.0" height="4.7" fill="#dbe5bc"/><rect x="421.2" y="155.0" width="30.9" height="4.7" fill="#e2e4c8"/><rect x="451.9" y="155.0" width="4.7" height="4.7" fill="#e2e9be"/><rect x="482.5" y="155.0" width="30.9" height="4.7" fill="#e2e9be"/><rect x="517.5" y="155.0" width="4.7" height="4.7" fill="#e2e9be"/><rect x="521.9" y="155.0" width="70.3" height="4.7" fill="#cbddb2"/><rect x="202.5" y="159.4" width="26.6" height="4.7" fill="#d9d9d6"/><rect x="228.8" y="159.4" width="48.4" height="4.7" fill="#b2cca8"/><rect x="276.9" y="159.4" width="4.7" height="4.7" fill="#dae4bc"/><rect x="329.4" y="159.4" width="48.4" height="4.7" fill="#ccdcb4"/><rect x="377.5" y="159.4" width="44.0" height="4.7" fill="#dbe5bc"/><rect x="421.2" y="159.4" width="30.9" height="4.7" fill="#e2e4c8"/><rect x="451.9" y="159.4" width="4.7" height="4.7" fill="#e2e9be"/><rect x="486.9" y="159.4" width="26.6" height="4.7" fill="#e2e9be"/><rect x="517.5" y="159.4" width="4.7" height="4.7" fill="#e2e9be"/><rect x="521.9" y="159.4" width="70.3" height="4.7" fill="#cbddb2"/><rect x="206.9" y="163.8" width="22.2" height="4.7" fill="#d9d9d6"/><rect x="228.8" y="163.8" width="48.4" height="4.7" fill="#b2cca8"/><rect x="276.9" y="163.8" width="9.1" height="4.7" fill="#dae4bc"/><rect x="329.4" y="163.8" width="83.4" height="4.7" fill="#b3cdaa"/><rect x="412.5" y="163.8" width="39.7" height="4.7" fill="#d8e2bc"/><rect x="451.9" y="163.8" width="4.7" height="4.7" fill="#cbddb2"/><rect x="486.9" y="163.8" width="26.6" height="4.7" fill="#cbddb2"/><rect x="517.5" y="163.8" width="83.4" height="4.7" fill="#cbddb2"/><rect x="211.2" y="168.1" width="13.4" height="4.7" fill="#d9d9d6"/><rect x="224.4" y="168.1" width="52.8" height="4.7" fill="#b2cca8"/><rect x="276.9" y="168.1" width="22.2" height="4.7" fill="#dae4bc"/><rect x="338.1" y="168.1" width="74.7" height="4.7" fill="#b3cdaa"/><rect x="412.5" y="168.1" width="39.7" height="4.7" fill="#d8e2bc"/><rect x="495.6" y="168.1" width="13.4" height="4.7" fill="#cbddb2"/><rect x="517.5" y="168.1" width="114.0" height="4.7" fill="#cbddb2"/><rect x="211.2" y="172.5" width="13.4" height="4.7" fill="#d9d9d6"/><rect x="224.4" y="172.5" width="52.8" height="4.7" fill="#b2cca8"/><rect x="276.9" y="172.5" width="26.6" height="4.7" fill="#dae4bc"/><rect x="368.8" y="172.5" width="44.0" height="4.7" fill="#b3cdaa"/><rect x="412.5" y="172.5" width="35.3" height="4.7" fill="#d8e2bc"/><rect x="521.9" y="172.5" width="114.0" height="4.7" fill="#cbddb2"/><rect x="206.9" y="176.9" width="13.4" height="4.7" fill="#d9d9d6"/><rect x="220.0" y="176.9" width="57.2" height="4.7" fill="#b2cca8"/><rect x="276.9" y="176.9" width="30.9" height="4.7" fill="#dae4bc"/><rect x="368.8" y="176.9" width="44.0" height="4.7" fill="#b3cdaa"/><rect x="412.5" y="176.9" width="30.9" height="4.7" fill="#d8e2bc"/><rect x="526.2" y="176.9" width="118.4" height="4.7" fill="#cbddb2"/><rect x="206.9" y="181.2" width="17.8" height="4.7" fill="#d9d9d6"/><rect x="224.4" y="181.2" width="52.8" height="4.7" fill="#b2cca8"/><rect x="276.9" y="181.2" width="30.9" height="4.7" fill="#dae4bc"/><rect x="368.8" y="181.2" width="65.9" height="4.7" fill="#dae4bc"/><rect x="434.4" y="181.2" width="4.7" height="4.7" fill="#cfdcb4"/><rect x="530.6" y="181.2" width="118.4" height="4.7" fill="#cbddb2"/><rect x="211.2" y="185.6" width="17.8" height="4.7" fill="#d9d9d6"/><rect x="228.8" y="185.6" width="48.4" height="4.7" fill="#b2cca8"/><rect x="276.9" y="185.6" width="30.9" height="4.7" fill="#dae4bc"/><rect x="373.1" y="185.6" width="61.5" height="4.7" fill="#dae4bc"/><rect x="434.4" y="185.6" width="17.8" height="4.7" fill="#cfdcb4"/><rect x="451.9" y="185.6" width="4.7" height="4.7" fill="#cbddb2"/><rect x="535.0" y="185.6" width="114.0" height="4.7" fill="#cbddb2"/><rect x="211.2" y="190.0" width="17.8" height="4.7" fill="#d9d9d6"/><rect x="228.8" y="190.0" width="48.4" height="4.7" fill="#b2cca8"/><rect x="276.9" y="190.0" width="30.9" height="4.7" fill="#dae4bc"/><rect x="373.1" y="190.0" width="61.5" height="4.7" fill="#dae4bc"/><rect x="434.4" y="190.0" width="17.8" height="4.7" fill="#cfdcb4"/><rect x="451.9" y="190.0" width="4.7" height="4.7" fill="#cbddb2"/><rect x="539.4" y="190.0" width="122.8" height="4.7" fill="#cbddb2"/><rect x="670.6" y="190.0" width="4.7" height="4.7" fill="#cbddb2"/><rect x="215.6" y="194.4" width="17.8" height="4.7" fill="#d9d9d6"/><rect x="233.1" y="194.4" width="44.0" height="4.7" fill="#b2cca8"/><rect x="276.9" y="194.4" width="26.6" height="4.7" fill="#dae4bc"/><rect x="373.1" y="194.4" width="61.5" height="4.7" fill="#dae4bc"/><rect x="434.4" y="194.4" width="17.8" height="4.7" fill="#cfdcb4"/><rect x="451.9" y="194.4" width="4.7" height="4.7" fill="#e0e8c2"/><rect x="556.9" y="194.4" width="57.2" height="4.7" fill="#e2e5c4"/><rect x="613.8" y="194.4" width="17.8" height="4.7" fill="#d2dfb8"/><rect x="631.2" y="194.4" width="44.0" height="4.7" fill="#e0e8c2"/><rect x="215.6" y="198.8" width="22.2" height="4.7" fill="#d9d9d6"/><rect x="237.5" y="198.8" width="4.7" height="4.7" fill="#dcdcd4"/><rect x="241.9" y="198.8" width="61.5" height="4.7" fill="#cfe0b4"/><rect x="373.1" y="198.8" width="30.9" height="4.7" fill="#e2d9c2"/><rect x="403.8" y="198.8" width="30.9" height="4.7" fill="#e0e4c4"/><rect x="434.4" y="198.8" width="17.8" height="4.7" fill="#d4dfb8"/><rect x="451.9" y="198.8" width="4.7" height="4.7" fill="#e0e8c2"/><rect x="556.9" y="198.8" width="57.2" height="4.7" fill="#e2e5c4"/><rect x="613.8" y="198.8" width="13.4" height="4.7" fill="#d2dfb8"/><rect x="640.0" y="198.8" width="35.3" height="4.7" fill="#e0e8c2"/><rect x="220.0" y="203.1" width="22.2" height="4.7" fill="#d9d9d6"/><rect x="241.9" y="203.1" width="57.2" height="4.7" fill="#cfe0b4"/><rect x="373.1" y="203.1" width="30.9" height="4.7" fill="#e2d9c2"/><rect x="403.8" y="203.1" width="30.9" height="4.7" fill="#e0e4c4"/><rect x="434.4" y="203.1" width="17.8" height="4.7" fill="#d4dfb8"/><rect x="451.9" y="203.1" width="4.7" height="4.7" fill="#e0e8c2"/><rect x="552.5" y="203.1" width="13.4" height="4.7" fill="#e2e5c4"/><rect x="565.6" y="203.1" width="48.4" height="4.7" fill="#e2d6bc"/><rect x="613.8" y="203.1" width="17.8" height="4.7" fill="#d2dfb8"/><rect x="640.0" y="203.1" width="35.3" height="4.7" fill="#e0e8c2"/><rect x="224.4" y="207.5" width="17.8" height="4.7" fill="#d9d9d6"/><rect x="241.9" y="207.5" width="57.2" height="4.7" fill="#cfe0b4"/><rect x="373.1" y="207.5" width="30.9" height="4.7" fill="#e2d9c2"/><rect x="403.8" y="207.5" width="30.9" height="4.7" fill="#e0e4c4"/><rect x="434.4" y="207.5" width="17.8" height="4.7" fill="#d4dfb8"/><rect x="451.9" y="207.5" width="4.7" height="4.7" fill="#e0e8c2"/><rect x="548.1" y="207.5" width="4.7" height="4.7" fill="#e0e8c2"/><rect x="552.5" y="207.5" width="13.4" height="4.7" fill="#e2e5c4"/><rect x="565.6" y="207.5" width="48.4" height="4.7" fill="#e2d6bc"/><rect x="613.8" y="207.5" width="17.8" height="4.7" fill="#d2dfb8"/><rect x="631.2" y="207.5" width="4.7" height="4.7" fill="#e0e8c2"/><rect x="640.0" y="207.5" width="35.3" height="4.7" fill="#e0e8c2"/><rect x="228.8" y="211.9" width="13.4" height="4.7" fill="#d9d9d6"/><rect x="241.9" y="211.9" width="57.2" height="4.7" fill="#cfe0b4"/><rect x="373.1" y="211.9" width="30.9" height="4.7" fill="#e2d9c2"/><rect x="403.8" y="211.9" width="30.9" height="4.7" fill="#e0e4c4"/><rect x="434.4" y="211.9" width="17.8" height="4.7" fill="#d4dfb8"/><rect x="548.1" y="211.9" width="4.7" height="4.7" fill="#e0e8c2"/><rect x="552.5" y="211.9" width="13.4" height="4.7" fill="#e2e5c4"/><rect x="565.6" y="211.9" width="48.4" height="4.7" fill="#e2d6bc"/><rect x="613.8" y="211.9" width="17.8" height="4.7" fill="#d2dfb8"/><rect x="631.2" y="211.9" width="4.7" height="4.7" fill="#e0e8c2"/><rect x="640.0" y="211.9" width="22.2" height="4.7" fill="#e0e8c2"/><rect x="224.4" y="216.2" width="17.8" height="4.7" fill="#d9d9d6"/><rect x="241.9" y="216.2" width="52.8" height="4.7" fill="#cfe0b4"/><rect x="377.5" y="216.2" width="26.6" height="4.7" fill="#e2d9c2"/><rect x="403.8" y="216.2" width="30.9" height="4.7" fill="#e0e4c4"/><rect x="434.4" y="216.2" width="17.8" height="4.7" fill="#d4dfb8"/><rect x="548.1" y="216.2" width="4.7" height="4.7" fill="#e0e8c2"/><rect x="552.5" y="216.2" width="13.4" height="4.7" fill="#e2e5c4"/><rect x="565.6" y="216.2" width="48.4" height="4.7" fill="#e2d6bc"/><rect x="613.8" y="216.2" width="17.8" height="4.7" fill="#d2dfb8"/><rect x="631.2" y="216.2" width="4.7" height="4.7" fill="#e0e8c2"/><rect x="644.4" y="216.2" width="13.4" height="4.7" fill="#e0e8c2"/><rect x="224.4" y="220.6" width="17.8" height="4.7" fill="#d9d9d6"/><rect x="241.9" y="220.6" width="44.0" height="4.7" fill="#cfe0b4"/><rect x="377.5" y="220.6" width="26.6" height="4.7" fill="#e2d9c2"/><rect x="403.8" y="220.6" width="22.2" height="4.7" fill="#e0e4c4"/><rect x="430.0" y="220.6" width="4.7" height="4.7" fill="#e0e4c4"/><rect x="434.4" y="220.6" width="17.8" height="4.7" fill="#d4dfb8"/><rect x="552.5" y="220.6" width="13.4" height="4.7" fill="#e2e5c4"/><rect x="565.6" y="220.6" width="48.4" height="4.7" fill="#e2d6bc"/><rect x="613.8" y="220.6" width="17.8" height="4.7" fill="#d2dfb8"/><rect x="631.2" y="220.6" width="9.1" height="4.7" fill="#e0e8c2"/><rect x="224.4" y="225.0" width="13.4" height="4.7" fill="#d9d9d6"/><rect x="237.5" y="225.0" width="44.0" height="4.7" fill="#e4ecc4"/><rect x="381.9" y="225.0" width="44.0" height="4.7" fill="#dfe2c6"/><rect x="552.5" y="225.0" width="13.4" height="4.7" fill="#e2e5c4"/><rect x="565.6" y="225.0" width="48.4" height="4.7" fill="#e2d6bc"/><rect x="613.8" y="225.0" width="17.8" height="4.7" fill="#d2dfb8"/><rect x="631.2" y="225.0" width="4.7" height="4.7" fill="#e0e8c2"/><rect x="653.1" y="225.0" width="17.8" height="4.7" fill="#cddcb6"/><rect x="224.4" y="229.4" width="13.4" height="4.7" fill="#d9d9d6"/><rect x="237.5" y="229.4" width="44.0" height="4.7" fill="#e4ecc4"/><rect x="381.9" y="229.4" width="39.7" height="4.7" fill="#dfe2c6"/><rect x="552.5" y="229.4" width="61.5" height="4.7" fill="#e2e5c4"/><rect x="613.8" y="229.4" width="17.8" height="4.7" fill="#d2dfb8"/><rect x="631.2" y="229.4" width="4.7" height="4.7" fill="#e0e8c2"/><rect x="653.1" y="229.4" width="22.2" height="4.7" fill="#cddcb6"/><rect x="224.4" y="233.8" width="13.4" height="4.7" fill="#d9d9d6"/><rect x="237.5" y="233.8" width="39.7" height="4.7" fill="#e4ecc4"/><rect x="381.9" y="233.8" width="35.3" height="4.7" fill="#dfe2c6"/><rect x="552.5" y="233.8" width="79.0" height="4.7" fill="#e2e5c4"/><rect x="631.2" y="233.8" width="4.7" height="4.7" fill="#e0e8c2"/><rect x="653.1" y="233.8" width="22.2" height="4.7" fill="#cddcb6"/><rect x="220.0" y="238.1" width="17.8" height="4.7" fill="#d9d9d6"/><rect x="237.5" y="238.1" width="35.3" height="4.7" fill="#e4ecc4"/><rect x="386.2" y="238.1" width="26.6" height="4.7" fill="#dfe2c6"/><rect x="556.9" y="238.1" width="22.2" height="4.7" fill="#e2e5c4"/><rect x="591.9" y="238.1" width="39.7" height="4.7" fill="#e2e5c4"/><rect x="648.8" y="238.1" width="26.6" height="4.7" fill="#cddcb6"/><rect x="220.0" y="242.5" width="17.8" height="4.7" fill="#d9d9d6"/><rect x="237.5" y="242.5" width="30.9" height="4.7" fill="#e0dcc8"/><rect x="596.2" y="242.5" width="35.3" height="4.7" fill="#c8d8b4"/><rect x="644.4" y="242.5" width="30.9" height="4.7" fill="#cddcb6"/><rect x="220.0" y="246.9" width="39.7" height="4.7" fill="#e0dcc8"/><rect x="478.1" y="246.9" width="9.1" height="4.7" fill="#e0e8c2"/><rect x="605.0" y="246.9" width="22.2" height="4.7" fill="#c8d8b4"/><rect x="644.4" y="246.9" width="30.9" height="4.7" fill="#cddcb6"/><rect x="220.0" y="251.2" width="44.0" height="4.7" fill="#e0dcc8"/><rect x="473.8" y="251.2" width="17.8" height="4.7" fill="#e0e8c2"/><rect x="605.0" y="251.2" width="22.2" height="4.7" fill="#e0e8c2"/><rect x="644.4" y="251.2" width="30.9" height="4.7" fill="#cddcb6"/><rect x="220.0" y="255.6" width="48.4" height="4.7" fill="#e0dcc8"/><rect x="469.4" y="255.6" width="22.2" height="4.7" fill="#e0e8c2"/><rect x="644.4" y="255.6" width="22.2" height="4.7" fill="#cddcb6"/><rect x="220.0" y="260.0" width="48.4" height="4.7" fill="#e0dcc8"/><rect x="469.4" y="260.0" width="22.2" height="4.7" fill="#e0e8c2"/><rect x="648.8" y="260.0" width="13.4" height="4.7" fill="#cddcb6"/><rect x="220.0" y="264.4" width="48.4" height="4.7" fill="#e0dcc8"/><rect x="473.8" y="264.4" width="17.8" height="4.7" fill="#e0e8c2"/><rect x="220.0" y="268.8" width="44.0" height="4.7" fill="#e0dcc8"/><rect x="228.8" y="273.1" width="26.6" height="4.7" fill="#e0dcc8"/></g><g filter="url(#bl2)" fill="none" stroke-linecap="round" stroke-linejoin="round"><path d="M231.4,153.2 L227.9,160.2 L225.2,167.2 L223.5,172.5 L222.6,177.8 L224.4,184.8 L227.9,191.8 L233.1,197.9 L238.4,202.2 L241.0,207.5 L241.3,214.5 L239.6,221.5 L237.8,228.5 L237.0,235.5 L235.4,242.5 L234.3,251.2 L232.6,260.0" stroke="#dcdbd8" stroke-width="4.5" stroke-opacity="0.85"/><path d="M482.5,108.6 L489.5,110.4 L494.8,113.0 L500.0,117.4 L507.0,120.9 L514.0,123.0 L521.0,123.0 L526.2,121.8 L531.5,120.0" stroke="#d2d4d4" stroke-width="4.0" stroke-opacity="0.85"/><path d="M106.2,64.0 L123.8,68.4 L136.0,74.5 L146.5,80.6 L155.2,85.9 L162.2,92.0 L167.5,97.2 L172.8,103.4 L173.6,109.5 L174.5,114.8" stroke="#d6d9cf" stroke-width="3.5" stroke-opacity="0.85"/></g></g>
<path d="M283.2,67.9 L280.4,66.8 L276.9,66.1 L275.1,64.9 L273.4,63.1 L271.6,61.4 L269.9,60.1 L268.6,58.2 L266.4,56.6 L265.9,54.7 L266.9,53.0 L270.0,52.1 L269.9,50.5 L267.2,50.7 L264.3,49.6 L265.1,48.6 L268.1,47.9 L264.6,47.2 L262.4,45.8 L261.5,43.5 L258.9,42.0 L257.1,40.4 L252.4,39.3 L246.2,39.3 L240.1,39.1 L236.6,38.1 L234.9,36.9 L232.2,35.5 L233.5,34.8 L239.2,33.7 L245.4,32.1 L247.7,30.8 L255.0,29.4 L263.8,28.6 L272.5,28.3 L281.2,28.0 L290.0,26.9 L300.5,26.2 L311.0,26.4 L318.0,27.1 L323.2,28.0 L320.6,29.0 L325.0,29.7 L331.1,29.4 L338.7,30.2 L332.0,31.5 L327.6,32.5 L325.9,34.2 L326.8,35.6 L327.6,37.4 L324.1,38.6 L326.2,40.2 L324.1,41.8 L322.0,42.8 L322.4,44.8 L318.9,45.6 L321.2,47.4 L321.5,49.0 L318.0,49.5 L315.4,50.9 L311.9,52.6 L307.5,53.3 L304.0,54.0 L301.4,55.2 L298.8,56.5 L295.2,57.4 L292.6,58.0 L290.0,58.8 L288.6,60.1 L287.0,61.9 L285.6,64.0 L285.1,65.8 L283.2,67.9Z" fill="url(#gl)"/>
<path d="M40,308.5 H100 V331 H40Z M645,309 H680 V331 H645Z M222,303 L262,304.5 L300,305 L318,305 V318 H222Z" fill="#e9eef4"/>
<path d="M40.0,320.6 L44.0,320.6 L62.0,319.4 L74.0,321.0 L84.0,322.2 L97.0,322.0 L110.0,321.2 L104.0,320.0 L92.0,318.0 L87.0,315.0 L95.0,314.0 L102.0,313.0 L95.0,310.4 L83.0,308.0 L90.0,307.0 L104.0,305.0 L124.0,303.0 L138.0,301.0 L148.0,302.0 L162.0,302.0 L172.0,303.6 L180.0,302.4 L190.0,300.0 L206.0,300.4 L222.0,301.0 L228.0,299.6 L236.0,298.0 L239.0,293.0 L242.0,288.0 L250.0,285.0 L259.0,283.6 L254.0,286.0 L251.0,290.0 L253.0,295.0 L254.0,300.0 L250.0,303.0 L236.0,306.0 L224.0,309.0 L226.0,312.0 L240.0,314.8 L248.8,315.5 L257.5,318.0 L266.3,316.3 L285.3,316.3 L308.6,313.4 L297.7,311.9 L297.7,309.7 L310.0,306.8 L321.8,304.6 L332.0,301.7 L340.0,298.8 L342.0,297.6 L360.0,296.6 L380.0,295.6 L400.0,296.0 L420.0,293.0 L428.0,295.0 L437.0,292.4 L440.0,291.0 L452.0,288.4 L460.0,289.0 L466.0,290.6 L480.0,291.6 L479.0,296.0 L481.0,299.0 L485.0,298.0 L490.0,295.0 L500.0,291.0 L514.0,289.0 L528.0,290.0 L540.0,287.6 L546.0,290.0 L556.0,288.4 L559.0,288.4 L571.0,290.0 L585.0,289.0 L597.0,287.6 L601.0,289.6 L615.0,289.6 L629.0,293.0 L643.0,295.6 L660.0,298.4 L649.0,303.0 L647.0,307.0 L652.0,310.0 L641.0,313.0 L645.0,316.0 L657.0,319.0 L680.0,321.0 L680.0,335.0 L40.0,335.0Z M73.0,310.3 L77.0,308.8 L82.0,310.0 L78.0,311.8Z M137.4,301.5 L144.0,300.4 L150.6,301.5 L144.0,302.7Z M181.0,298.8 L186.0,297.7 L191.5,299.0 L186.0,300.0Z M229.0,297.0 L233.0,292.5 L238.0,293.0 L236.0,298.0Z" fill="url(#ag)"/>
<path d="M442.2,93.8 L443.7,92.5 L446.6,91.1 L450.1,90.2 L452.8,90.8 L452.9,93.2 L449.6,94.6 L448.4,95.0 L449.8,96.9 L451.9,98.8 L452.4,100.8 L454.5,101.6 L452.8,103.4 L454.2,106.0 L454.3,107.2 L450.1,108.1 L447.8,107.0 L445.8,106.7 L445.4,104.8 L446.4,102.1 L448.0,102.0 L446.1,100.8 L444.0,99.0 L443.1,97.2 L442.6,95.1 L441.7,94.6Z M410.8,100.4 L414.8,100.6 L418.3,99.0 L421.4,99.0 L423.3,99.7 L427.4,100.9 L430.9,100.8 L432.8,99.9 L433.0,98.1 L430.0,96.5 L426.8,94.6 L425.3,93.4 L425.6,92.0 L427.4,90.1 L423.9,90.6 L421.6,91.6 L422.1,93.2 L420.4,94.6 L418.6,94.6 L416.9,93.0 L418.6,92.0 L415.1,91.0 L413.4,91.5 L412.0,93.2 L410.2,95.0 L409.0,96.9 L408.8,99.0 L409.9,100.2Z" fill="#78a9c9"/>
<path d="M149.5,15 V330 M254.5,15 V330 M359.5,15 V330 M464.5,15 V330 M569.5,15 V330 M45,277.5 H675 M45,225.5 H675 M45,172.5 H675 M45,120.5 H675 M45,67.5 H675" stroke="#b4ae9c" stroke-opacity="0.3" stroke-width="1" fill="none"/>
<path d="M85.6,47.7 L81.8,48.4 L76.5,49.5 L73.9,50.4 L69.2,51.9 L68.1,52.9 L73.0,54.2 L73.9,55.1 L76.5,55.4 L77.4,56.3 L73.0,56.0 L69.5,56.5 L65.8,57.7 L68.6,59.3 L72.1,59.6 L78.2,59.5 L78.6,61.2 L74.8,62.1 L71.6,62.9 L69.5,64.9 L71.2,66.1 L75.6,67.5 L76.5,68.7 L82.6,69.8 L85.2,69.6 L83.5,71.7 L80.0,74.0 L75.6,75.7 L72.1,76.9 L74.8,76.6 L80.0,75.2 L83.5,73.6 L87.0,72.1 L90.0,70.5 L91.9,68.9 L94.3,67.0 L97.2,65.4 L95.4,66.3 L94.3,68.4 L97.5,68.2 L101.0,67.1 L103.6,66.3 L108.0,67.5 L112.4,67.7 L115.9,68.2 L119.4,69.6 L121.1,70.6 L123.8,72.4 L125.5,74.1 L128.1,76.2 L131.6,77.1 L132.5,78.9 L135.1,81.1 L136.4,82.9 L138.6,83.8 L141.2,85.0 L143.4,86.0 L144.8,86.8 L145.5,88.1 L144.8,88.7 L142.0,88.0 L142.8,91.1 L143.0,95.1 L142.1,98.1 L142.6,101.6 L143.4,103.4 L144.9,106.0 L145.8,107.2 L146.7,108.5 L147.7,110.2 L149.0,112.0 L151.4,112.6 L152.8,113.2 L154.9,115.3 L155.8,117.0 L156.6,118.8 L157.7,120.4 L159.6,122.6 L160.5,124.0 L162.6,125.2 L163.6,127.4 L164.7,129.5 L166.8,131.5 L168.4,132.1 L167.0,130.0 L166.1,127.9 L164.5,125.6 L163.1,123.0 L161.9,120.7 L160.0,118.6 L159.3,117.0 L160.9,117.4 L162.2,117.9 L163.6,120.5 L165.4,123.3 L166.6,124.5 L168.4,126.6 L170.1,128.0 L171.9,129.6 L174.0,131.9 L175.2,133.6 L175.7,136.5 L175.2,137.5 L177.0,139.1 L178.7,140.3 L181.5,141.4 L183.6,142.4 L185.7,143.3 L188.5,144.3 L191.1,145.0 L193.8,144.2 L195.5,144.3 L197.2,145.4 L198.7,147.0 L200.4,148.2 L202.8,149.0 L205.1,149.4 L206.7,149.6 L207.4,150.5 L208.3,151.2 L209.7,152.9 L210.0,154.1 L210.0,155.2 L211.2,155.5 L212.3,155.9 L213.7,157.5 L214.8,158.2 L216.5,158.2 L218.2,158.8 L219.5,159.5 L220.0,158.5 L220.9,156.9 L222.6,157.8 L223.5,159.0 L224.4,160.6 L224.5,162.9 L224.7,165.5 L223.8,168.0 L222.1,169.7 L220.0,171.1 L219.5,173.4 L218.4,175.3 L219.5,177.0 L219.5,178.6 L217.9,180.4 L218.1,182.7 L220.2,184.6 L221.8,187.4 L223.5,190.9 L225.2,193.7 L226.7,196.7 L228.4,199.5 L232.2,201.5 L234.9,203.1 L236.8,204.7 L237.3,208.4 L237.0,213.6 L236.5,218.0 L235.2,222.9 L234.9,226.8 L234.7,230.2 L234.2,233.2 L233.0,235.5 L231.4,237.8 L231.4,241.6 L230.8,245.1 L231.7,246.9 L231.0,249.2 L229.8,251.2 L228.2,253.9 L228.2,257.4 L227.9,260.9 L229.1,263.8 L231.4,265.2 L234.0,266.5 L236.1,266.7 L237.0,265.4 L238.7,264.5 L240.3,264.2 L238.9,262.8 L239.2,261.0 L240.7,260.2 L241.5,258.8 L244.0,256.5 L244.8,255.3 L242.0,253.7 L242.0,252.3 L243.6,251.2 L245.7,251.1 L245.9,248.6 L247.3,247.8 L248.7,247.2 L247.3,246.5 L246.2,244.8 L248.0,244.2 L250.6,243.5 L251.2,240.9 L253.1,240.6 L256.8,239.9 L259.4,239.0 L260.8,236.2 L259.7,234.3 L258.0,233.0 L259.4,232.7 L261.6,233.6 L263.9,233.6 L266.5,231.5 L268.6,228.8 L271.3,225.5 L273.4,223.1 L275.0,220.6 L275.1,218.0 L276.2,216.2 L278.6,214.5 L280.7,214.0 L284.4,212.8 L286.5,212.6 L288.2,210.8 L289.5,208.0 L290.7,205.4 L291.4,203.3 L291.9,199.6 L291.8,196.1 L292.8,194.9 L294.9,191.8 L297.3,189.1 L298.8,186.5 L298.9,184.8 L298.4,182.3 L296.1,181.2 L293.8,180.2 L292.3,178.8 L289.1,177.4 L286.5,177.2 L282.7,176.9 L280.4,175.0 L277.8,173.7 L275.1,174.8 L273.4,173.0 L272.5,171.6 L271.6,169.3 L270.2,165.7 L269.0,164.3 L266.4,162.5 L263.9,162.0 L261.1,162.2 L259.4,161.7 L257.8,160.4 L255.3,158.0 L253.6,157.5 L252.4,155.3 L251.0,154.1 L248.9,154.0 L247.1,154.7 L245.2,154.7 L243.6,154.0 L240.7,154.0 L238.4,152.4 L237.2,151.5 L237.3,152.7 L235.0,153.2 L234.7,154.7 L235.6,156.0 L234.2,153.6 L234.9,152.2 L233.5,151.7 L231.7,152.7 L230.2,153.1 L227.9,154.1 L227.3,156.2 L225.6,157.5 L224.5,157.5 L223.2,156.2 L220.7,155.7 L219.0,156.9 L217.2,156.8 L216.0,156.0 L213.7,153.6 L213.5,151.0 L214.0,147.7 L214.4,146.2 L212.3,144.8 L209.5,144.7 L206.7,144.7 L205.0,145.0 L205.5,143.5 L205.8,140.3 L206.9,138.2 L207.4,135.2 L205.7,134.9 L202.0,135.8 L201.6,137.9 L199.9,140.1 L197.6,140.1 L195.2,140.6 L192.9,139.6 L191.3,138.4 L189.9,136.5 L189.0,134.4 L188.8,130.5 L189.2,127.4 L189.5,124.7 L191.1,122.8 L193.4,121.6 L195.5,120.5 L198.1,120.7 L200.2,121.2 L202.5,121.6 L203.9,121.2 L203.5,119.8 L205.7,119.3 L208.3,119.3 L210.7,120.5 L213.0,120.0 L214.8,121.8 L215.3,123.9 L216.5,126.1 L217.9,128.4 L219.3,128.2 L220.0,125.8 L219.0,122.6 L217.7,119.6 L217.7,117.4 L218.6,116.1 L221.4,114.4 L223.7,113.0 L226.0,111.8 L227.9,110.5 L227.3,108.1 L227.2,106.5 L228.6,105.0 L228.9,104.1 L230.3,102.9 L230.5,101.5 L233.1,100.9 L234.3,100.2 L236.3,99.9 L237.5,99.5 L236.5,98.5 L236.1,97.6 L237.0,96.2 L239.2,95.3 L241.9,94.5 L242.9,93.9 L244.7,94.5 L246.6,93.2 L248.0,93.4 L246.2,94.6 L244.7,95.7 L245.7,96.2 L248.0,94.8 L250.6,94.1 L253.2,93.2 L255.0,92.2 L254.1,90.4 L252.5,91.5 L250.6,92.5 L247.7,91.6 L246.4,89.7 L246.6,88.7 L247.7,87.3 L245.7,86.4 L242.8,86.6 L240.1,87.8 L237.5,89.4 L238.4,88.3 L240.3,86.6 L242.8,86.0 L246.2,84.6 L250.6,84.6 L255.0,84.6 L257.6,83.4 L259.9,82.5 L262.4,81.3 L262.0,79.9 L261.3,78.5 L258.9,77.3 L256.4,75.9 L254.1,74.9 L252.4,73.6 L251.7,71.9 L250.1,70.5 L248.5,68.7 L246.6,67.0 L245.9,68.4 L244.5,69.6 L241.9,70.5 L240.1,69.9 L238.4,68.7 L238.2,66.4 L236.6,65.6 L234.9,65.2 L233.1,64.2 L230.5,63.5 L227.9,63.5 L224.4,63.1 L223.5,64.9 L224.2,67.1 L224.9,68.9 L225.8,71.0 L226.0,72.8 L224.9,75.2 L222.5,76.4 L221.4,77.8 L222.3,80.5 L221.2,82.4 L219.3,82.7 L216.8,80.6 L216.2,78.9 L216.0,76.2 L213.9,75.9 L210.9,75.7 L208.1,74.7 L205.5,73.6 L202.8,72.8 L200.9,72.2 L198.1,72.2 L196.9,69.9 L194.5,69.1 L194.3,67.0 L195.3,65.4 L197.1,63.6 L198.7,62.6 L201.3,61.4 L205.1,60.5 L206.9,59.5 L208.8,57.4 L209.5,56.0 L210.9,56.1 L212.7,56.3 L214.4,56.5 L215.6,55.2 L217.5,54.2 L216.8,52.8 L217.5,51.2 L214.9,50.7 L212.1,50.4 L210.0,51.0 L210.5,52.3 L208.3,53.3 L206.0,52.8 L205.0,51.4 L202.5,51.9 L201.6,50.7 L199.0,49.5 L199.5,47.9 L197.8,46.9 L195.3,46.7 L193.4,47.4 L192.2,48.6 L191.1,50.5 L192.3,51.9 L189.4,52.3 L187.3,52.8 L185.0,53.9 L181.5,53.9 L178.0,53.5 L174.5,52.5 L170.1,52.6 L171.0,54.0 L167.5,53.9 L163.1,54.0 L159.6,53.7 L158.8,52.3 L154.4,51.8 L150.9,51.0 L147.4,50.7 L143.9,51.0 L142.1,50.0 L138.6,50.4 L136.0,49.6 L133.4,50.4 L130.8,50.9 L127.2,50.9 L124.6,50.9 L122.9,51.9 L119.4,51.9 L116.8,51.0 L113.2,50.5 L109.8,49.8 L106.2,49.8 L102.8,49.5 L99.2,49.3 L95.8,49.1 L93.1,48.6 L89.6,48.1 L85.6,47.7Z M283.2,67.9 L280.4,66.8 L276.9,66.1 L275.1,64.9 L273.4,63.1 L271.6,61.4 L269.9,60.1 L268.6,58.2 L266.4,56.6 L265.9,54.7 L266.9,53.0 L270.0,52.1 L269.9,50.5 L267.2,50.7 L264.3,49.6 L265.1,48.6 L268.1,47.9 L264.6,47.2 L262.4,45.8 L261.5,43.5 L258.9,42.0 L257.1,40.4 L252.4,39.3 L246.2,39.3 L240.1,39.1 L236.6,38.1 L234.9,36.9 L232.2,35.5 L233.5,34.8 L239.2,33.7 L245.4,32.1 L247.7,30.8 L255.0,29.4 L263.8,28.6 L272.5,28.3 L281.2,28.0 L290.0,26.9 L300.5,26.2 L311.0,26.4 L318.0,27.1 L323.2,28.0 L320.6,29.0 L325.0,29.7 L331.1,29.4 L338.7,30.2 L332.0,31.5 L327.6,32.5 L325.9,34.2 L326.8,35.6 L327.6,37.4 L324.1,38.6 L326.2,40.2 L324.1,41.8 L322.0,42.8 L322.4,44.8 L318.9,45.6 L321.2,47.4 L321.5,49.0 L318.0,49.5 L315.4,50.9 L311.9,52.6 L307.5,53.3 L304.0,54.0 L301.4,55.2 L298.8,56.5 L295.2,57.4 L292.6,58.0 L290.0,58.8 L288.6,60.1 L287.0,61.9 L285.6,64.0 L285.1,65.8 L283.2,67.9Z M318.0,57.9 L320.6,56.5 L324.1,56.8 L328.0,56.8 L331.5,56.1 L334.4,56.5 L334.4,57.9 L336.2,58.6 L334.3,59.8 L331.1,60.9 L327.6,61.6 L324.1,61.0 L320.3,60.9 L321.5,59.6 L318.0,59.1 L321.0,58.2 L318.0,57.9Z M350.2,109.5 L349.0,108.5 L347.1,107.4 L344.4,107.8 L344.6,105.5 L343.4,104.6 L344.4,102.1 L344.8,99.4 L343.7,97.2 L346.0,96.0 L350.0,96.2 L353.9,96.4 L356.8,96.5 L357.9,94.3 L357.9,91.6 L356.2,89.9 L352.3,88.9 L351.8,87.6 L354.8,87.1 L357.2,87.3 L356.7,85.5 L358.1,86.0 L360.3,85.5 L362.8,84.6 L364.4,83.1 L366.3,82.4 L367.5,81.1 L368.4,79.8 L370.5,78.9 L372.6,78.9 L375.1,78.2 L375.4,76.9 L374.3,75.4 L374.2,73.4 L375.1,72.6 L377.5,71.7 L378.6,71.5 L378.0,73.4 L378.9,74.1 L377.5,75.2 L377.0,76.2 L377.5,77.1 L379.2,78.0 L381.9,77.3 L384.5,78.0 L387.1,77.6 L389.6,76.9 L392.4,76.6 L392.7,77.3 L394.3,77.3 L397.1,75.9 L396.9,75.0 L396.8,73.1 L397.8,72.1 L399.6,71.4 L400.8,72.6 L402.2,72.8 L402.7,70.5 L401.1,69.9 L400.9,68.9 L403.4,68.4 L406.4,68.2 L409.0,68.4 L411.6,67.7 L409.9,66.6 L407.2,66.6 L403.8,67.1 L400.2,67.7 L397.3,66.3 L397.6,64.5 L396.9,62.6 L399.4,60.9 L402.9,58.9 L404.4,58.6 L404.3,57.7 L403.2,57.4 L398.8,57.4 L397.1,59.1 L396.4,60.9 L393.2,61.7 L391.2,63.1 L390.3,65.4 L390.3,66.4 L392.6,67.3 L392.9,68.6 L391.5,69.2 L389.4,70.3 L388.9,72.8 L387.8,74.3 L385.7,74.1 L384.7,75.6 L382.6,75.6 L382.1,74.1 L381.9,72.8 L380.8,71.7 L379.8,70.3 L379.2,69.2 L378.4,68.2 L377.8,69.2 L376.6,69.4 L374.9,70.5 L372.4,71.0 L370.3,70.1 L369.6,68.9 L368.8,67.1 L368.8,64.9 L369.3,63.5 L371.4,62.8 L374.9,61.4 L377.5,60.0 L379.2,59.1 L381.9,57.2 L383.6,55.1 L385.9,53.0 L388.9,52.1 L391.5,50.9 L395.0,50.0 L398.5,49.5 L402.0,48.2 L405.5,48.2 L409.0,48.2 L412.5,49.8 L414.2,50.4 L417.8,51.0 L423.0,51.8 L427.4,53.0 L431.8,54.4 L432.1,55.6 L430.0,56.5 L426.5,57.0 L421.2,56.5 L418.6,55.8 L416.7,55.1 L419.0,56.8 L420.9,59.6 L423.9,60.5 L425.6,59.1 L429.1,59.6 L430.9,59.5 L430.0,57.9 L433.5,56.3 L436.1,56.6 L437.3,55.6 L436.1,52.6 L439.6,53.9 L441.4,54.0 L447.5,53.1 L453.6,52.8 L455.4,52.1 L461.5,51.9 L465.0,52.3 L465.9,50.4 L472.0,51.4 L475.5,51.0 L477.2,49.1 L479.9,47.0 L481.6,44.9 L484.2,44.2 L486.9,45.3 L486.9,48.2 L487.8,51.8 L488.6,53.5 L491.2,54.4 L490.4,51.8 L493.9,47.9 L498.2,47.4 L500.0,43.9 L507.0,44.2 L512.2,43.0 L517.5,40.9 L526.2,39.5 L535.0,38.6 L542.5,36.5 L547.2,38.1 L554.2,38.3 L558.6,40.4 L556.0,43.0 L563.0,43.7 L570.0,44.8 L577.0,43.5 L582.2,43.9 L584.9,44.8 L587.5,48.2 L591.0,47.4 L596.2,47.2 L605.0,45.6 L610.2,45.3 L617.2,46.0 L622.5,47.0 L626.0,48.4 L633.0,48.1 L640.0,49.1 L641.8,50.9 L647.0,50.5 L652.2,50.5 L657.5,49.8 L668.0,50.2 L675.9,51.8 L675.9,58.8 L671.5,59.6 L669.8,63.1 L664.5,64.4 L657.5,67.5 L650.5,67.0 L646.1,67.9 L643.5,71.0 L645.2,74.5 L643.1,76.2 L640.0,78.9 L637.4,80.6 L634.2,83.2 L633.0,79.8 L632.5,76.2 L634.2,72.8 L636.5,71.0 L640.0,66.6 L639.1,64.9 L634.8,64.5 L629.5,68.9 L624.2,68.7 L619.0,68.7 L610.2,68.7 L605.9,71.0 L600.6,76.2 L596.2,77.1 L600.6,78.4 L605.9,79.2 L607.3,81.5 L605.9,85.0 L605.4,88.0 L602.4,90.2 L598.0,94.6 L592.8,97.6 L589.2,98.0 L587.5,99.0 L586.6,101.1 L584.0,102.5 L583.1,103.7 L585.8,106.9 L586.4,110.4 L584.0,111.2 L581.4,112.3 L581.0,110.4 L581.7,107.8 L579.3,106.5 L578.8,105.1 L578.2,103.0 L574.4,103.7 L572.3,104.6 L573.1,102.0 L571.8,100.9 L569.1,102.7 L566.5,103.9 L566.1,105.1 L567.9,106.9 L568.6,107.6 L571.2,106.4 L574.4,107.0 L571.8,108.6 L569.1,110.9 L570.9,113.9 L573.3,117.0 L572.6,118.6 L573.5,120.4 L572.6,122.6 L570.5,125.6 L569.1,127.9 L566.5,129.6 L563.9,132.2 L559.5,133.5 L555.1,134.7 L553.2,135.4 L552.8,137.0 L552.0,134.9 L549.9,134.5 L548.1,134.9 L546.7,136.5 L545.2,139.2 L546.4,141.9 L549.9,145.5 L551.3,149.8 L551.1,152.0 L549.0,153.6 L546.7,154.3 L543.9,157.5 L543.4,155.0 L541.1,154.1 L539.4,151.5 L536.6,150.3 L535.9,148.9 L535.0,150.6 L533.6,154.5 L534.8,156.4 L535.7,159.9 L537.3,160.4 L538.8,161.7 L540.8,164.1 L541.1,167.2 L542.3,170.0 L541.1,170.2 L537.3,167.6 L535.7,164.6 L535.5,162.0 L534.5,160.6 L532.2,158.5 L532.0,155.9 L532.6,153.2 L532.4,149.8 L531.2,146.6 L530.6,143.6 L528.0,143.1 L525.4,144.5 L525.0,141.9 L523.6,138.4 L521.3,135.4 L520.7,133.5 L518.4,134.0 L515.8,134.4 L512.2,134.9 L511.4,137.1 L508.8,138.5 L506.1,141.0 L503.5,143.6 L500.5,145.4 L500.3,149.8 L499.7,154.1 L498.1,156.2 L495.6,158.3 L493.9,156.9 L492.7,152.9 L490.9,149.9 L489.5,145.4 L488.4,141.9 L487.4,138.9 L487.2,135.8 L486.9,133.5 L483.4,136.1 L480.8,133.5 L482.8,132.4 L479.9,131.4 L477.8,129.6 L476.4,128.0 L472.9,128.4 L468.5,128.6 L465.0,128.0 L461.5,127.5 L460.1,125.2 L458.9,124.9 L456.2,125.8 L453.6,125.6 L451.0,123.9 L449.2,121.4 L446.6,120.0 L444.9,120.2 L444.0,121.2 L444.9,123.5 L446.6,125.2 L447.8,126.6 L448.4,127.9 L449.8,126.8 L450.3,128.4 L450.1,130.0 L452.8,130.3 L455.4,130.0 L457.7,127.9 L458.5,126.5 L458.7,129.1 L460.6,130.9 L462.9,131.4 L464.7,133.1 L462.4,136.6 L461.2,139.2 L458.9,140.8 L456.6,141.9 L451.9,144.2 L447.5,146.1 L444.0,148.0 L439.6,149.4 L436.1,150.3 L435.2,147.1 L434.7,144.5 L432.6,140.1 L430.0,136.6 L428.2,134.0 L427.4,130.9 L425.1,128.4 L423.0,125.6 L421.2,123.3 L420.9,120.9 L420.2,123.1 L419.8,123.9 L418.6,122.6 L417.1,120.2 L417.4,121.8 L418.6,124.4 L420.0,127.0 L422.1,130.5 L424.4,134.0 L425.3,137.5 L427.4,141.0 L428.8,144.8 L430.9,146.2 L433.5,148.9 L435.8,151.8 L437.0,154.1 L440.5,153.8 L444.0,152.9 L447.5,152.4 L449.6,151.8 L449.2,154.1 L448.4,156.8 L446.6,160.6 L444.0,164.6 L441.4,168.1 L437.0,170.8 L433.5,173.9 L431.8,176.0 L429.1,180.4 L427.9,183.9 L429.1,186.5 L430.0,190.5 L430.9,194.4 L431.1,198.8 L428.2,202.2 L424.8,204.0 L422.1,207.5 L422.1,211.0 L422.1,214.5 L417.8,217.1 L417.6,218.5 L416.9,222.4 L414.2,225.0 L412.5,227.6 L409.0,230.2 L405.5,231.7 L402.0,232.0 L398.5,232.3 L395.0,233.4 L392.4,232.5 L392.0,230.2 L391.2,228.5 L388.9,222.5 L386.6,218.9 L385.4,212.8 L383.6,209.2 L381.0,204.0 L380.7,201.4 L381.9,196.1 L383.6,193.5 L383.1,189.1 L381.5,183.2 L381.0,181.2 L379.2,179.2 L376.6,176.9 L375.8,173.4 L376.6,170.8 L377.2,167.2 L376.6,165.5 L374.9,164.6 L372.2,164.8 L370.5,165.0 L368.8,162.3 L367.5,161.5 L363.5,161.5 L360.0,162.7 L356.5,164.1 L353.0,163.4 L346.9,164.8 L344.2,163.8 L339.9,160.4 L337.2,158.5 L336.7,155.9 L333.8,153.6 L330.6,150.8 L329.9,146.8 L331.1,144.2 L331.7,141.0 L331.1,138.4 L330.2,135.8 L332.0,131.4 L334.6,127.0 L338.1,123.9 L342.5,121.8 L342.8,119.1 L343.4,115.6 L346.0,113.7 L348.1,113.0 L349.2,110.4 L350.7,109.7 L353.0,110.9 L356.5,111.1 L360.0,109.9 L363.5,108.5 L367.0,107.9 L371.4,107.8 L374.9,107.9 L377.5,107.2 L379.2,107.8 L378.4,109.5 L379.4,110.9 L377.8,112.6 L379.2,114.4 L381.9,115.1 L386.2,116.0 L387.1,117.4 L391.5,118.6 L394.1,119.1 L395.0,117.4 L395.2,116.0 L397.6,114.9 L400.2,115.5 L403.8,116.9 L407.2,117.5 L410.8,118.4 L413.4,117.4 L416.5,117.7 L419.8,117.7 L420.4,117.2 L421.2,115.1 L422.1,113.0 L423.0,111.2 L422.7,109.5 L423.3,108.3 L421.2,108.1 L419.5,109.0 L416.9,109.3 L413.4,108.6 L410.8,108.3 L407.8,107.8 L406.4,106.0 L406.9,103.4 L405.8,102.3 L406.4,101.5 L404.6,100.9 L402.0,101.1 L400.2,102.0 L399.6,101.6 L399.9,103.4 L400.6,105.6 L402.0,106.0 L399.9,106.9 L400.2,108.6 L399.2,108.8 L398.0,108.1 L397.6,106.7 L397.1,105.5 L396.4,104.2 L395.0,103.0 L393.9,102.0 L394.1,99.4 L392.4,98.1 L389.8,96.9 L387.1,95.3 L384.5,93.6 L383.8,92.5 L381.5,93.2 L381.7,95.1 L383.8,96.4 L385.7,98.8 L388.0,100.0 L390.6,101.3 L392.4,102.3 L391.8,102.9 L390.1,101.8 L388.9,102.9 L389.9,104.2 L388.2,106.0 L387.3,106.0 L387.7,103.4 L386.2,102.1 L384.5,101.1 L381.9,99.9 L379.2,98.1 L378.0,96.4 L375.8,94.8 L373.1,95.9 L370.5,97.1 L367.9,96.4 L365.2,96.9 L365.6,99.0 L361.8,100.6 L360.0,102.9 L359.5,104.8 L358.8,106.7 L356.3,108.3 L352.3,108.3 L350.6,109.3Z M44.1,51.8 L48.5,52.1 L53.8,54.2 L59.0,55.4 L63.0,56.8 L60.8,57.9 L58.1,59.8 L53.8,59.1 L48.5,58.0 L44.1,58.8Z M558.6,211.0 L559.5,218.9 L561.2,224.1 L561.2,231.1 L563.0,233.8 L566.5,233.8 L570.0,232.0 L575.2,231.8 L577.9,230.2 L580.5,229.0 L585.8,227.8 L589.2,227.6 L592.8,228.5 L595.4,230.2 L597.1,233.4 L598.9,231.7 L601.0,230.2 L601.0,232.9 L602.4,234.6 L604.1,235.5 L605.0,238.1 L607.6,239.7 L611.1,240.4 L613.6,238.8 L616.0,240.9 L619.0,238.7 L622.3,238.1 L622.7,235.5 L623.9,232.9 L624.8,231.1 L626.9,228.5 L627.9,225.9 L628.8,222.5 L628.1,218.0 L627.4,216.8 L625.1,214.5 L623.9,212.0 L621.3,209.8 L619.9,207.5 L616.4,205.8 L615.5,203.1 L614.3,198.8 L612.0,197.5 L611.1,194.4 L609.4,191.2 L608.5,194.4 L607.8,197.9 L607.6,201.4 L606.4,203.1 L604.1,203.1 L601.5,201.9 L598.9,200.2 L597.1,198.8 L598.9,196.1 L599.6,193.8 L597.6,193.3 L594.5,193.3 L591.9,192.6 L589.2,193.7 L587.5,195.2 L586.6,198.6 L584.4,198.6 L582.2,196.7 L580.3,197.7 L577.9,200.2 L576.1,202.2 L573.9,204.2 L572.6,206.6 L570.0,207.5 L567.4,208.2 L564.8,208.7 L562.1,210.0 L559.7,210.7 L558.6,211.0Z M613.1,243.7 L619.5,244.1 L619.4,246.3 L617.2,248.6 L614.6,247.4 L613.1,243.7Z M662.2,232.7 L665.4,234.6 L667.8,237.6 L672.4,238.5 L671.3,241.1 L669.6,241.8 L668.0,244.8 L666.6,245.3 L665.6,244.6 L666.4,242.8 L664.5,241.6 L665.6,239.9 L665.4,237.2 L662.8,234.1 L662.2,232.7Z M662.2,243.4 L665.0,244.8 L664.1,246.3 L662.4,248.5 L659.8,250.0 L658.6,252.8 L656.3,254.0 L651.4,253.2 L652.1,251.6 L654.5,249.5 L658.4,247.8 L660.3,245.5 L662.2,243.4Z M589.8,173.9 L591.9,173.2 L594.7,174.1 L596.2,178.3 L598.9,176.3 L601.5,175.3 L606.2,177.0 L611.1,178.6 L615.1,181.1 L615.5,182.8 L618.3,183.2 L619.0,186.5 L621.6,188.2 L623.9,190.5 L620.8,190.5 L617.6,189.1 L615.5,186.7 L612.9,185.8 L610.8,188.2 L609.4,188.8 L606.8,188.4 L603.4,186.7 L601.5,187.2 L601.0,184.8 L603.1,184.4 L602.2,182.7 L599.8,181.1 L596.6,180.2 L594.0,178.8 L592.4,179.7 L591.0,177.4 L593.4,176.7 L591.5,176.3 L589.2,175.0Z M550.8,172.5 L551.8,174.8 L552.8,177.6 L555.5,177.8 L557.8,178.1 L560.4,179.5 L563.0,178.8 L563.9,176.0 L565.6,173.4 L565.6,171.1 L568.1,170.4 L566.3,169.3 L566.5,167.4 L565.8,165.2 L567.6,164.6 L568.8,163.0 L565.3,160.4 L564.1,161.7 L561.9,163.8 L559.5,164.6 L557.8,166.9 L554.6,168.1 L552.5,169.5 L550.9,170.0Z M526.8,162.7 L530.6,163.4 L532.4,165.5 L535.5,168.7 L537.6,169.5 L540.2,171.6 L542.0,174.2 L543.4,176.9 L545.5,178.1 L545.2,182.7 L543.1,182.8 L540.2,180.4 L537.6,177.8 L535.5,174.2 L533.2,170.8 L530.6,168.1 L528.0,165.5Z M544.1,184.4 L546.9,183.0 L549.9,183.9 L553.4,184.4 L556.9,184.4 L560.4,186.0 L560.2,187.5 L556.0,187.0 L551.6,186.2 L546.4,185.5Z M567.9,177.0 L568.9,174.2 L569.6,171.6 L571.4,170.2 L574.4,170.8 L578.4,169.9 L577.0,171.8 L572.6,171.6 L570.4,172.0 L571.8,174.2 L575.8,174.1 L572.6,175.8 L574.9,180.4 L572.8,180.7 L571.6,177.0 L570.7,177.8 L570.7,182.1 L568.9,182.1 L569.1,178.6Z M571.1,140.1 L574.0,140.3 L573.9,143.6 L572.8,145.7 L573.5,148.0 L576.8,148.3 L577.4,150.5 L576.1,149.8 L574.4,148.3 L572.4,148.7 L571.1,147.5 L570.0,144.5 L570.5,141.9Z M573.5,160.2 L576.1,158.8 L577.4,158.2 L579.6,155.9 L581.2,158.2 L580.9,161.1 L579.4,162.7 L577.0,161.1Z M577.5,150.6 L580.0,151.0 L579.1,154.7 L577.9,154.8 L577.4,152.4Z M573.3,151.8 L575.6,152.9 L575.6,156.2 L574.2,155.5 L573.5,153.8Z M589.1,113.0 L590.1,112.0 L592.8,110.4 L597.1,110.2 L599.4,107.4 L602.4,106.4 L604.6,104.2 L605.0,101.1 L607.6,100.0 L608.3,103.4 L606.6,107.8 L606.4,110.0 L604.6,111.2 L602.4,112.0 L599.8,112.0 L598.0,113.9 L596.4,112.5 L592.8,112.3Z M586.8,113.9 L589.2,113.4 L590.8,114.8 L589.8,117.5 L588.4,118.2 L587.9,115.6Z M591.9,114.8 L593.6,112.6 L595.7,112.8 L595.0,114.2 L592.8,115.1Z M605.0,99.9 L606.8,99.4 L608.1,98.0 L610.8,99.0 L614.6,96.7 L614.1,95.0 L608.5,92.9 L607.8,93.4 L607.6,96.4 L605.7,96.9Z M608.5,92.0 L611.1,91.1 L610.2,86.8 L612.9,86.8 L610.6,82.4 L610.8,78.9 L609.7,77.5 L608.5,78.9 L608.0,81.5 L608.9,86.8 L608.3,90.6Z M570.2,132.2 L571.2,134.0 L572.6,132.2 L573.3,129.1 L572.6,128.2 L570.9,129.8Z M550.1,138.9 L551.8,140.6 L553.6,140.1 L554.2,138.0 L552.5,137.3Z M499.8,155.7 L500.5,155.3 L503.2,159.4 L502.6,161.7 L501.1,162.2 L499.8,160.6 L499.7,157.6Z M350.0,84.8 L353.9,84.5 L358.2,83.8 L362.4,82.9 L363.0,80.5 L360.5,79.8 L359.8,78.0 L357.9,76.9 L357.0,75.2 L356.3,73.6 L356.8,71.7 L354.6,69.9 L351.2,69.9 L350.0,71.9 L350.2,74.0 L351.1,75.6 L351.4,76.8 L354.4,76.4 L354.4,78.0 L354.8,79.0 L351.9,79.2 L351.8,80.1 L352.7,81.0 L350.9,81.9 L352.7,82.2 L354.6,82.4 L353.0,82.9Z M349.5,81.1 L349.3,79.0 L350.2,77.3 L349.2,75.9 L346.9,75.7 L345.1,76.9 L342.5,77.6 L343.4,79.4 L342.7,81.1 L342.2,82.2 L345.1,82.2 L348.8,81.1Z M379.2,35.5 L382.8,32.9 L389.8,32.1 L398.5,32.0 L407.2,32.3 L400.2,35.6 L395.0,37.0 L389.1,38.5 L384.5,37.2Z M450.1,47.4 L453.6,48.8 L460.6,49.0 L457.1,45.6 L459.8,42.1 L466.8,39.9 L473.8,38.6 L479.9,37.9 L478.1,37.6 L470.2,38.1 L463.2,39.0 L457.1,40.9 L454.5,43.9 L451.9,45.6Z M524.5,33.7 L535.0,33.4 L542.9,34.6 L540.2,31.6 L531.5,30.8 L522.8,32.1Z M599.8,40.4 L606.8,39.5 L620.8,40.9 L613.8,42.1 L603.2,41.8Z M672.4,48.2 L675.9,47.4 L675.9,48.4Z M44.1,48.2 L44.1,47.4 L49.4,47.9 L46.8,48.4Z M439.6,31.6 L444.0,30.4 L450.1,30.8 L447.5,32.0Z M151.8,47.4 L154.4,45.1 L160.5,44.4 L167.5,44.9 L172.8,43.9 L177.1,44.4 L180.6,45.6 L183.2,48.2 L179.8,50.9 L174.5,51.4 L169.2,52.1 L162.2,52.6 L157.0,50.9 L154.4,49.0Z M140.4,46.7 L141.2,43.9 L144.8,42.3 L150.9,42.5 L154.4,43.2 L156.1,44.4 L151.8,46.5 L149.1,47.7 L144.8,48.2Z M155.2,40.4 L158.8,38.8 L167.5,39.0 L174.5,39.9 L172.8,41.2 L164.0,42.3 L157.0,41.2Z M181.5,43.7 L191.1,43.5 L192.0,46.3 L188.5,47.9 L183.2,46.1Z M192.9,43.0 L201.6,43.0 L197.2,46.5 L193.8,46.0Z M199.0,40.4 L220.0,39.1 L220.0,42.0 L202.5,42.0 L197.2,41.2Z M202.5,38.6 L204.2,36.0 L209.5,33.4 L216.5,31.1 L228.8,29.0 L246.2,27.2 L253.2,28.1 L246.2,29.9 L237.5,31.6 L228.8,33.9 L223.5,35.6 L220.0,37.8 L211.2,39.0Z M193.8,34.2 L200.8,30.8 L206.0,31.6 L204.2,35.1Z M178.0,38.6 L190.2,38.1 L190.2,40.9 L183.2,40.4Z M246.8,64.9 L244.5,63.6 L240.1,62.9 L234.9,61.4 L234.0,60.0 L229.6,59.5 L224.4,59.1 L223.8,57.9 L230.5,57.9 L231.4,56.1 L232.6,54.4 L228.8,53.0 L224.4,52.1 L221.8,50.0 L217.4,50.0 L211.2,49.5 L206.0,49.0 L203.4,47.4 L202.2,44.8 L206.0,43.7 L211.2,43.9 L220.0,43.5 L225.2,45.3 L232.2,47.2 L237.5,48.6 L241.0,50.0 L241.9,51.8 L243.6,53.5 L248.9,55.6 L251.5,56.1 L248.9,58.2 L246.2,58.8 L245.4,60.5 L246.6,61.9 L246.2,63.1Z M209.2,60.1 L217.4,61.2 L219.1,60.0 L213.9,57.9 L210.4,57.0 L207.4,58.4Z M256.2,89.2 L257.6,87.6 L259.0,85.4 L260.6,82.9 L262.9,82.2 L262.5,84.6 L265.5,85.7 L266.4,87.6 L267.8,89.4 L267.1,90.8 L265.3,89.7 L263.8,90.4 L262.2,89.5 L260.2,89.2Z M135.3,83.6 L137.8,84.3 L141.2,86.9 L144.0,87.8 L142.6,86.2 L139.5,84.3 L136.4,83.2Z M211.4,134.2 L214.8,132.4 L218.2,132.1 L221.8,133.3 L224.4,134.9 L227.9,136.3 L230.2,137.1 L227.7,137.7 L224.0,137.7 L224.9,136.5 L222.6,134.9 L219.1,134.0 L216.5,133.6 L213.0,134.2Z M229.6,140.3 L232.6,137.7 L237.5,137.9 L240.3,140.0 L237.5,140.6 L234.9,141.7Z M223.0,140.3 L226.5,140.6 L225.6,141.2 L223.2,140.6Z M242.4,140.1 L245.2,140.3 L245.0,141.0 L242.4,141.0Z M87.2,137.1 L88.8,138.0 L87.7,139.4 L87.0,138.2Z M83.0,134.7 L84.2,135.2 L83.3,135.2Z M80.3,133.6 L81.2,133.6 L80.9,134.2Z M85.2,135.4 L87.0,135.9 L86.1,136.5Z M240.0,264.5 L241.9,266.5 L245.9,268.2 L242.8,268.9 L239.2,269.5 L235.8,268.8 L231.4,266.1 L236.6,265.8Z M252.7,261.9 L258.9,262.5 L257.6,263.8 L254.1,263.7Z M446.3,193.5 L448.4,199.6 L447.2,202.2 L444.9,208.4 L443.1,215.4 L439.1,217.1 L436.5,213.6 L435.8,210.1 L437.7,207.5 L437.0,202.6 L441.0,200.0 L444.0,196.1Z M381.7,105.8 L387.3,105.5 L386.4,108.3 L381.9,106.7Z M374.3,100.8 L376.8,100.6 L376.8,103.9 L374.9,104.4Z M375.1,97.6 L376.6,97.2 L376.6,100.0 L375.2,99.5Z M401.1,110.4 L406.0,110.7 L405.7,111.2 L401.3,110.9Z M416.5,111.2 L420.6,110.0 L419.3,111.4 L417.2,112.0Z M480.4,257.9 L483.4,258.2 L482.2,259.5 L480.4,259.3Z M647.0,207.8 L652.2,211.3 L651.2,211.5 L647.5,208.9Z M633.9,184.8 L639.1,187.4 L640.9,189.1 L638.2,188.6 L633.9,185.8Z M619.5,182.3 L623.4,181.8 L626.4,180.0 L625.1,182.7 L621.6,183.3Z M623.9,177.2 L626.9,179.2 L628.1,180.7 L626.5,179.8Z M577.0,190.3 L579.6,188.2 L582.6,187.2 L578.8,189.3Z M562.1,187.2 L568.2,187.5 L574.4,187.2 L575.1,187.9 L568.2,188.1 L563.0,188.1Z M583.1,169.3 L585.2,169.9 L584.0,171.6 L584.9,173.9 L583.1,173.2Z M584.0,178.1 L588.9,178.5 L587.5,179.3 L584.5,178.8Z M580.3,178.1 L582.6,178.3 L581.6,179.2Z M651.4,198.4 L652.8,199.3 L654.4,201.5 L653.6,201.9 L651.7,200.0Z M670.3,203.0 L672.6,202.1 L675.5,201.0 L674.3,202.6 L672.0,204.3 L670.3,203.8Z M615.5,40.5 L622.5,40.2 L624.2,41.2 L617.2,41.4Z M144.8,38.1 L150.0,36.5 L156.1,37.2 L153.5,39.1 L148.2,39.5Z M178.0,35.5 L185.0,34.4 L186.8,35.5 L181.5,36.4Z M189.4,35.1 L193.8,34.8 L192.9,36.4 L190.2,36.2Z M192.0,40.7 L196.4,40.4 L196.4,41.8 L192.9,42.0Z M186.8,50.9 L192.0,50.9 L192.0,52.6 L186.8,52.1Z M223.2,128.4 L224.2,128.9 L224.0,130.1 L223.0,129.6Z M224.4,125.4 L225.4,126.0 L223.7,126.1Z M442.2,93.8 L443.7,92.5 L446.6,91.1 L450.1,90.2 L452.8,90.8 L452.9,93.2 L449.6,94.6 L448.4,95.0 L449.8,96.9 L451.9,98.8 L452.4,100.8 L454.5,101.6 L452.8,103.4 L454.2,106.0 L454.3,107.2 L450.1,108.1 L447.8,107.0 L445.8,106.7 L445.4,104.8 L446.4,102.1 L448.0,102.0 L446.1,100.8 L444.0,99.0 L443.1,97.2 L442.6,95.1 L441.7,94.6Z M410.8,100.4 L414.8,100.6 L418.3,99.0 L421.4,99.0 L423.3,99.7 L427.4,100.9 L430.9,100.8 L432.8,99.9 L433.0,98.1 L430.0,96.5 L426.8,94.6 L425.3,93.4 L425.6,92.0 L427.4,90.1 L423.9,90.6 L421.6,91.6 L422.1,93.2 L420.4,94.6 L418.6,94.6 L416.9,93.0 L418.6,92.0 L415.1,91.0 L413.4,91.5 L412.0,93.2 L410.2,95.0 L409.0,96.9 L408.8,99.0 L409.9,100.2Z M40.0,320.6 L44.0,320.6 L62.0,319.4 L74.0,321.0 L84.0,322.2 L97.0,322.0 L110.0,321.2 L104.0,320.0 L92.0,318.0 L87.0,315.0 L95.0,314.0 L102.0,313.0 L95.0,310.4 L83.0,308.0 L90.0,307.0 L104.0,305.0 L124.0,303.0 L138.0,301.0 L148.0,302.0 L162.0,302.0 L172.0,303.6 L180.0,302.4 L190.0,300.0 L206.0,300.4 L222.0,301.0 L228.0,299.6 L236.0,298.0 L239.0,293.0 L242.0,288.0 L250.0,285.0 L259.0,283.6 L254.0,286.0 L251.0,290.0 L253.0,295.0 L254.0,300.0 L250.0,303.0 L236.0,306.0 L224.0,309.0 L226.0,312.0 L240.0,314.8 L248.8,315.5 L257.5,318.0 L266.3,316.3 L285.3,316.3 L308.6,313.4 L297.7,311.9 L297.7,309.7 L310.0,306.8 L321.8,304.6 L332.0,301.7 L340.0,298.8 L342.0,297.6 L360.0,296.6 L380.0,295.6 L400.0,296.0 L420.0,293.0 L428.0,295.0 L437.0,292.4 L440.0,291.0 L452.0,288.4 L460.0,289.0 L466.0,290.6 L480.0,291.6 L479.0,296.0 L481.0,299.0 L485.0,298.0 L490.0,295.0 L500.0,291.0 L514.0,289.0 L528.0,290.0 L540.0,287.6 L546.0,290.0 L556.0,288.4 L559.0,288.4 L571.0,290.0 L585.0,289.0 L597.0,287.6 L601.0,289.6 L615.0,289.6 L629.0,293.0 L643.0,295.6 L660.0,298.4 L649.0,303.0 L647.0,307.0 L652.0,310.0 L641.0,313.0 L645.0,316.0 L657.0,319.0 L680.0,321.0 L680.0,335.0 L40.0,335.0Z M265.5,312.0 L270.0,309.5 L278.0,309.0 L284.5,311.0 L284.0,314.0 L272.0,314.5 L265.5,313.0Z M73.0,310.3 L77.0,308.8 L82.0,310.0 L78.0,311.8Z M137.4,301.5 L144.0,300.4 L150.6,301.5 L144.0,302.7Z M181.0,298.8 L186.0,297.7 L191.5,299.0 L186.0,300.0Z M229.0,297.0 L233.0,292.5 L238.0,293.0 L236.0,298.0Z" fill="none" stroke="#111" stroke-width="1.15" stroke-linejoin="round"/>
</g>
<rect x="44.5" y="14.5" width="631" height="316" fill="none" stroke="#222" stroke-width="1"/>
<text x="44.61" y="11.04" font-size="13.78" textLength="19.44" lengthAdjust="spacingAndGlyphs" >(a)</text>
<text x="9.53" y="71.28" font-size="12.44" textLength="30.08" lengthAdjust="spacingAndGlyphs" >60°N</text>
<text x="9.90" y="123.78" font-size="12.44" textLength="29.69" lengthAdjust="spacingAndGlyphs" >30°N</text>
<text x="25.52" y="176.28" font-size="12.44" textLength="13.87" lengthAdjust="spacingAndGlyphs" >0°</text>
<text x="11.02" y="228.78" font-size="12.44" textLength="28.05" lengthAdjust="spacingAndGlyphs" >30°S</text>
<text x="10.85" y="281.28" font-size="12.44" textLength="28.22" lengthAdjust="spacingAndGlyphs" >60°S</text>
<text x="129.98" y="344.98" font-size="12.44" textLength="39.14" lengthAdjust="spacingAndGlyphs" >120°W</text>
<text x="238.75" y="344.98" font-size="12.44" textLength="31.90" lengthAdjust="spacingAndGlyphs" >60°W</text>
<text x="353.22" y="344.98" font-size="12.44" textLength="13.87" lengthAdjust="spacingAndGlyphs" >0°</text>
<text x="450.64" y="344.98" font-size="12.44" textLength="28.60" lengthAdjust="spacingAndGlyphs" >60°E</text>
<text x="551.81" y="344.98" font-size="12.44" textLength="35.95" lengthAdjust="spacingAndGlyphs" >120°E</text>
<text x="36.58" y="365.72" font-size="13.40" textLength="20.00" lengthAdjust="spacingAndGlyphs" >(b)</text>
<rect x="41.26" y="378.98" width="15.86" height="85.52" fill="#a6d1e1" stroke="#1a1a1a" stroke-width="1"/>
<path d="M49.19,464.5 v4.3" stroke="#1a1a1a" stroke-width="1"/>
<text x="41.73" y="479.81" font-size="9.19" textLength="14.93" lengthAdjust="spacingAndGlyphs" >0-5</text>
<rect x="67.70" y="383.42" width="15.86" height="81.08" fill="#4180b8" stroke="#1a1a1a" stroke-width="1"/>
<path d="M75.63,464.5 v4.3" stroke="#1a1a1a" stroke-width="1"/>
<text x="65.01" y="479.81" font-size="9.19" textLength="21.24" lengthAdjust="spacingAndGlyphs" >5-10</text>
<rect x="94.14" y="430.62" width="15.86" height="33.88" fill="#b6e68c" stroke="#1a1a1a" stroke-width="1"/>
<path d="M102.07,464.5 v4.3" stroke="#1a1a1a" stroke-width="1"/>
<text x="88.48" y="479.81" font-size="9.19" textLength="26.81" lengthAdjust="spacingAndGlyphs" >10-15</text>
<rect x="120.58" y="455.15" width="15.86" height="9.35" fill="#4dae35" stroke="#1a1a1a" stroke-width="1"/>
<path d="M128.51,464.5 v4.3" stroke="#1a1a1a" stroke-width="1"/>
<text x="118.79" y="479.81" font-size="9.32" textLength="19.34" lengthAdjust="spacingAndGlyphs" >&gt;15</text>
<rect x="36.5" y="371.5" width="104.7" height="93.0" fill="none" stroke="#222" stroke-width="1"/>
<text x="92.68" y="385.20" font-size="11.75" textLength="43.40" lengthAdjust="spacingAndGlyphs" >Layer 1</text>
<text x="94.53" y="398.90" font-size="11.75" textLength="40.51" lengthAdjust="spacingAndGlyphs" >0-5 cm</text>
<text x="71.00" y="494.20" font-size="10.62" textLength="35.71" lengthAdjust="spacingAndGlyphs" >[year]</text>
<rect x="176.96" y="419.64" width="15.86" height="44.86" fill="#a6d1e1" stroke="#1a1a1a" stroke-width="1"/>
<path d="M184.89,464.5 v4.3" stroke="#1a1a1a" stroke-width="1"/>
<text x="177.43" y="479.81" font-size="9.19" textLength="14.93" lengthAdjust="spacingAndGlyphs" >0-5</text>
<rect x="203.40" y="432.25" width="15.86" height="32.25" fill="#4180b8" stroke="#1a1a1a" stroke-width="1"/>
<path d="M211.33,464.5 v4.3" stroke="#1a1a1a" stroke-width="1"/>
<text x="200.71" y="479.81" font-size="9.19" textLength="21.24" lengthAdjust="spacingAndGlyphs" >5-10</text>
<rect x="229.84" y="439.73" width="15.86" height="24.77" fill="#b6e68c" stroke="#1a1a1a" stroke-width="1"/>
<path d="M237.77,464.5 v4.3" stroke="#1a1a1a" stroke-width="1"/>
<text x="224.18" y="479.81" font-size="9.19" textLength="26.81" lengthAdjust="spacingAndGlyphs" >10-15</text>
<rect x="256.28" y="457.02" width="15.86" height="7.48" fill="#4dae35" stroke="#1a1a1a" stroke-width="1"/>
<path d="M264.21,464.5 v4.3" stroke="#1a1a1a" stroke-width="1"/>
<text x="254.49" y="479.81" font-size="9.32" textLength="19.34" lengthAdjust="spacingAndGlyphs" >&gt;15</text>
<rect x="172.2" y="371.5" width="104.7" height="93.0" fill="none" stroke="#222" stroke-width="1"/>
<text x="202.63" y="385.20" font-size="11.75" textLength="43.43" lengthAdjust="spacingAndGlyphs" >Layer 2</text>
<text x="200.92" y="398.90" font-size="11.75" textLength="47.58" lengthAdjust="spacingAndGlyphs" >5-10 cm</text>
<text x="206.70" y="494.20" font-size="10.62" textLength="35.71" lengthAdjust="spacingAndGlyphs" >[year]</text>
<rect x="312.66" y="413.56" width="15.86" height="50.94" fill="#a6d1e1" stroke="#1a1a1a" stroke-width="1"/>
<path d="M320.59,464.5 v4.3" stroke="#1a1a1a" stroke-width="1"/>
<text x="313.13" y="479.81" font-size="9.19" textLength="14.93" lengthAdjust="spacingAndGlyphs" >0-5</text>
<rect x="339.10" y="408.42" width="15.86" height="56.08" fill="#4180b8" stroke="#1a1a1a" stroke-width="1"/>
<path d="M347.03,464.5 v4.3" stroke="#1a1a1a" stroke-width="1"/>
<text x="336.41" y="479.81" font-size="9.19" textLength="21.24" lengthAdjust="spacingAndGlyphs" >5-10</text>
<rect x="365.54" y="425.24" width="15.86" height="39.26" fill="#b6e68c" stroke="#1a1a1a" stroke-width="1"/>
<path d="M373.47,464.5 v4.3" stroke="#1a1a1a" stroke-width="1"/>
<text x="359.88" y="479.81" font-size="9.19" textLength="26.81" lengthAdjust="spacingAndGlyphs" >10-15</text>
<rect x="391.98" y="455.15" width="15.86" height="9.35" fill="#4dae35" stroke="#1a1a1a" stroke-width="1"/>
<path d="M399.91,464.5 v4.3" stroke="#1a1a1a" stroke-width="1"/>
<text x="390.19" y="479.81" font-size="9.32" textLength="19.34" lengthAdjust="spacingAndGlyphs" >&gt;15</text>
<rect x="307.9" y="371.5" width="104.7" height="93.0" fill="none" stroke="#222" stroke-width="1"/>
<text x="338.33" y="385.20" font-size="11.75" textLength="43.33" lengthAdjust="spacingAndGlyphs" >Layer 3</text>
<text x="332.61" y="398.90" font-size="11.75" textLength="55.17" lengthAdjust="spacingAndGlyphs" >10-30 cm</text>
<text x="342.40" y="494.20" font-size="10.62" textLength="35.71" lengthAdjust="spacingAndGlyphs" >[year]</text>
<rect x="448.36" y="411.22" width="15.86" height="53.28" fill="#a6d1e1" stroke="#1a1a1a" stroke-width="1"/>
<path d="M456.29,464.5 v4.3" stroke="#1a1a1a" stroke-width="1"/>
<text x="448.83" y="479.81" font-size="9.19" textLength="14.93" lengthAdjust="spacingAndGlyphs" >0-5</text>
<rect x="474.80" y="414.96" width="15.86" height="49.54" fill="#4180b8" stroke="#1a1a1a" stroke-width="1"/>
<path d="M482.73,464.5 v4.3" stroke="#1a1a1a" stroke-width="1"/>
<text x="472.11" y="479.81" font-size="9.19" textLength="21.24" lengthAdjust="spacingAndGlyphs" >5-10</text>
<rect x="501.24" y="428.52" width="15.86" height="35.98" fill="#b6e68c" stroke="#1a1a1a" stroke-width="1"/>
<path d="M509.17,464.5 v4.3" stroke="#1a1a1a" stroke-width="1"/>
<text x="495.58" y="479.81" font-size="9.19" textLength="26.81" lengthAdjust="spacingAndGlyphs" >10-15</text>
<rect x="527.68" y="461.23" width="15.86" height="3.27" fill="#4dae35" stroke="#1a1a1a" stroke-width="1"/>
<path d="M535.61,464.5 v4.3" stroke="#1a1a1a" stroke-width="1"/>
<text x="525.89" y="479.81" font-size="9.32" textLength="19.34" lengthAdjust="spacingAndGlyphs" >&gt;15</text>
<rect x="443.6" y="371.5" width="104.7" height="93.0" fill="none" stroke="#222" stroke-width="1"/>
<text x="474.03" y="385.20" font-size="11.75" textLength="43.13" lengthAdjust="spacingAndGlyphs" >Layer 4</text>
<text x="468.81" y="398.90" font-size="11.75" textLength="54.66" lengthAdjust="spacingAndGlyphs" >30-50 cm</text>
<text x="478.10" y="494.20" font-size="10.62" textLength="35.71" lengthAdjust="spacingAndGlyphs" >[year]</text>
<rect x="584.06" y="418.23" width="15.86" height="46.27" fill="#a6d1e1" stroke="#1a1a1a" stroke-width="1"/>
<path d="M591.99,464.5 v4.3" stroke="#1a1a1a" stroke-width="1"/>
<text x="584.53" y="479.81" font-size="9.19" textLength="14.93" lengthAdjust="spacingAndGlyphs" >0-5</text>
<rect x="610.50" y="434.12" width="15.86" height="30.38" fill="#4180b8" stroke="#1a1a1a" stroke-width="1"/>
<path d="M618.43,464.5 v4.3" stroke="#1a1a1a" stroke-width="1"/>
<text x="607.81" y="479.81" font-size="9.19" textLength="21.24" lengthAdjust="spacingAndGlyphs" >5-10</text>
<rect x="636.94" y="443.00" width="15.86" height="21.50" fill="#b6e68c" stroke="#1a1a1a" stroke-width="1"/>
<path d="M644.87,464.5 v4.3" stroke="#1a1a1a" stroke-width="1"/>
<text x="631.28" y="479.81" font-size="9.19" textLength="26.81" lengthAdjust="spacingAndGlyphs" >10-15</text>
<rect x="663.38" y="461.23" width="15.86" height="3.27" fill="#4dae35" stroke="#1a1a1a" stroke-width="1"/>
<path d="M671.31,464.5 v4.3" stroke="#1a1a1a" stroke-width="1"/>
<text x="661.59" y="479.81" font-size="9.32" textLength="19.34" lengthAdjust="spacingAndGlyphs" >&gt;15</text>
<rect x="579.3" y="371.5" width="104.7" height="93.0" fill="none" stroke="#222" stroke-width="1"/>
<text x="609.73" y="385.20" font-size="11.75" textLength="43.30" lengthAdjust="spacingAndGlyphs" >Layer 5</text>
<text x="600.93" y="398.90" font-size="11.75" textLength="61.77" lengthAdjust="spacingAndGlyphs" >50-100 cm</text>
<text x="613.80" y="494.20" font-size="10.62" textLength="35.71" lengthAdjust="spacingAndGlyphs" >[year]</text>
<path d="M36.5,464.50 h-4.3" stroke="#1a1a1a" stroke-width="1"/>
<path d="M36.5,441.13 h-4.3" stroke="#1a1a1a" stroke-width="1"/>
<path d="M36.5,417.77 h-4.3" stroke="#1a1a1a" stroke-width="1"/>
<path d="M36.5,394.40 h-4.3" stroke="#1a1a1a" stroke-width="1"/>
<g transform="rotate(-90)"><text x="-468.17" y="27.38" font-size="12.01" textLength="6.52" lengthAdjust="spacingAndGlyphs" >0</text></g>
<g transform="rotate(-90)"><text x="-452.51" y="27.38" font-size="12.01" textLength="14.22" lengthAdjust="spacingAndGlyphs" >50</text></g>
<g transform="rotate(-90)"><text x="-436.07" y="27.38" font-size="12.01" textLength="21.57" lengthAdjust="spacingAndGlyphs" >100</text></g>
<g transform="rotate(-90)"><text x="-412.94" y="27.38" font-size="12.01" textLength="20.92" lengthAdjust="spacingAndGlyphs" >150</text></g>
<g transform="rotate(-90)"><text x="-461.06" y="10.88" font-size="12.24" textLength="86.22" lengthAdjust="spacingAndGlyphs" >Number of Sta.</text></g>
<path d="M151.3,105.5l2.6,2.6m0,-2.6l-2.6,2.6M177.1,98.1l2.6,2.6m0,-2.6l-2.6,2.6M176.4,114.3l2.6,2.6m0,-2.6l-2.6,2.6M177.0,95.6l2.6,2.6m0,-2.6l-2.6,2.6M149.9,91.5l2.6,2.6m0,-2.6l-2.6,2.6M149.0,90.8l2.6,2.6m0,-2.6l-2.6,2.6M164.8,111.7l2.6,2.6m0,-2.6l-2.6,2.6M172.8,99.1l2.6,2.6m0,-2.6l-2.6,2.6M165.9,108.7l2.6,2.6m0,-2.6l-2.6,2.6M144.8,104.5l2.6,2.6m0,-2.6l-2.6,2.6M175.4,108.2l2.6,2.6m0,-2.6l-2.6,2.6M169.5,99.0l2.6,2.6m0,-2.6l-2.6,2.6M148.3,108.4l2.6,2.6m0,-2.6l-2.6,2.6M154.0,108.7l2.6,2.6m0,-2.6l-2.6,2.6M177.7,96.6l2.6,2.6m0,-2.6l-2.6,2.6M156.6,113.1l2.6,2.6m0,-2.6l-2.6,2.6M168.5,89.8l2.6,2.6m0,-2.6l-2.6,2.6M146.4,89.2l2.6,2.6m0,-2.6l-2.6,2.6M175.2,108.9l2.6,2.6m0,-2.6l-2.6,2.6M147.1,109.5l2.6,2.6m0,-2.6l-2.6,2.6M178.0,104.4l2.6,2.6m0,-2.6l-2.6,2.6M154.7,101.2l2.6,2.6m0,-2.6l-2.6,2.6M146.5,85.1l2.6,2.6m0,-2.6l-2.6,2.6M177.6,104.2l2.6,2.6m0,-2.6l-2.6,2.6M161.2,112.7l2.6,2.6m0,-2.6l-2.6,2.6M157.8,110.9l2.6,2.6m0,-2.6l-2.6,2.6M172.3,91.0l2.6,2.6m0,-2.6l-2.6,2.6M151.0,93.5l2.6,2.6m0,-2.6l-2.6,2.6M150.6,102.3l2.6,2.6m0,-2.6l-2.6,2.6M151.3,97.3l2.6,2.6m0,-2.6l-2.6,2.6M154.8,98.4l2.6,2.6m0,-2.6l-2.6,2.6M163.3,111.8l2.6,2.6m0,-2.6l-2.6,2.6M157.3,112.2l2.6,2.6m0,-2.6l-2.6,2.6M160.3,100.7l2.6,2.6m0,-2.6l-2.6,2.6M161.1,85.3l2.6,2.6m0,-2.6l-2.6,2.6M158.0,90.2l2.6,2.6m0,-2.6l-2.6,2.6M148.1,98.9l2.6,2.6m0,-2.6l-2.6,2.6M168.5,101.4l2.6,2.6m0,-2.6l-2.6,2.6M153.8,100.3l2.6,2.6m0,-2.6l-2.6,2.6M162.3,108.2l2.6,2.6m0,-2.6l-2.6,2.6M145.6,101.5l2.6,2.6m0,-2.6l-2.6,2.6M150.9,93.0l2.6,2.6m0,-2.6l-2.6,2.6M170.3,99.9l2.6,2.6m0,-2.6l-2.6,2.6M162.5,107.5l2.6,2.6m0,-2.6l-2.6,2.6M175.5,98.0l2.6,2.6m0,-2.6l-2.6,2.6M164.4,99.9l2.6,2.6m0,-2.6l-2.6,2.6M160.6,105.5l2.6,2.6m0,-2.6l-2.6,2.6M158.4,100.7l2.6,2.6m0,-2.6l-2.6,2.6M159.4,112.9l2.6,2.6m0,-2.6l-2.6,2.6M167.6,111.0l2.6,2.6m0,-2.6l-2.6,2.6M176.6,92.5l2.6,2.6m0,-2.6l-2.6,2.6M162.4,113.0l2.6,2.6m0,-2.6l-2.6,2.6M172.8,88.8l2.6,2.6m0,-2.6l-2.6,2.6M146.2,98.0l2.6,2.6m0,-2.6l-2.6,2.6M144.4,91.9l2.6,2.6m0,-2.6l-2.6,2.6M144.4,104.8l2.6,2.6m0,-2.6l-2.6,2.6M170.7,111.6l2.6,2.6m0,-2.6l-2.6,2.6M147.4,106.2l2.6,2.6m0,-2.6l-2.6,2.6M166.1,89.0l2.6,2.6m0,-2.6l-2.6,2.6M174.4,113.7l2.6,2.6m0,-2.6l-2.6,2.6M156.4,99.3l2.6,2.6m0,-2.6l-2.6,2.6M178.3,109.7l2.6,2.6m0,-2.6l-2.6,2.6M147.7,97.6l2.6,2.6m0,-2.6l-2.6,2.6M160.8,94.9l2.6,2.6m0,-2.6l-2.6,2.6M148.9,94.3l2.6,2.6m0,-2.6l-2.6,2.6M168.4,85.3l2.6,2.6m0,-2.6l-2.6,2.6M162.2,97.9l2.6,2.6m0,-2.6l-2.6,2.6M142.4,94.6l2.6,2.6m0,-2.6l-2.6,2.6M164.8,100.1l2.6,2.6m0,-2.6l-2.6,2.6M170.9,113.9l2.6,2.6m0,-2.6l-2.6,2.6M145.6,92.7l2.6,2.6m0,-2.6l-2.6,2.6M151.7,88.6l2.6,2.6m0,-2.6l-2.6,2.6M157.3,112.0l2.6,2.6m0,-2.6l-2.6,2.6M172.0,92.5l2.6,2.6m0,-2.6l-2.6,2.6M162.8,105.7l2.6,2.6m0,-2.6l-2.6,2.6M145.0,86.4l2.6,2.6m0,-2.6l-2.6,2.6M167.2,97.5l2.6,2.6m0,-2.6l-2.6,2.6M165.2,108.7l2.6,2.6m0,-2.6l-2.6,2.6M158.5,94.9l2.6,2.6m0,-2.6l-2.6,2.6M162.2,112.5l2.6,2.6m0,-2.6l-2.6,2.6M151.6,88.6l2.6,2.6m0,-2.6l-2.6,2.6M161.2,91.9l2.6,2.6m0,-2.6l-2.6,2.6M145.7,89.5l2.6,2.6m0,-2.6l-2.6,2.6M143.6,90.8l2.6,2.6m0,-2.6l-2.6,2.6M153.2,93.9l2.6,2.6m0,-2.6l-2.6,2.6M169.8,93.4l2.6,2.6m0,-2.6l-2.6,2.6M160.2,90.0l2.6,2.6m0,-2.6l-2.6,2.6M154.5,85.2l2.6,2.6m0,-2.6l-2.6,2.6M151.0,85.2l2.6,2.6m0,-2.6l-2.6,2.6M168.8,101.2l2.6,2.6m0,-2.6l-2.6,2.6M148.7,98.9l2.6,2.6m0,-2.6l-2.6,2.6M176.3,87.9l2.6,2.6m0,-2.6l-2.6,2.6M172.0,97.7l2.6,2.6m0,-2.6l-2.6,2.6M160.0,109.7l2.6,2.6m0,-2.6l-2.6,2.6M156.2,99.9l2.6,2.6m0,-2.6l-2.6,2.6M167.1,114.2l2.6,2.6m0,-2.6l-2.6,2.6M154.4,109.7l2.6,2.6m0,-2.6l-2.6,2.6M167.8,103.8l2.6,2.6m0,-2.6l-2.6,2.6M156.7,95.1l2.6,2.6m0,-2.6l-2.6,2.6M143.7,88.6l2.6,2.6m0,-2.6l-2.6,2.6M151.2,89.6l2.6,2.6m0,-2.6l-2.6,2.6M173.9,104.8l2.6,2.6m0,-2.6l-2.6,2.6M152.1,92.0l2.6,2.6m0,-2.6l-2.6,2.6M152.5,98.5l2.6,2.6m0,-2.6l-2.6,2.6M147.5,98.1l2.6,2.6m0,-2.6l-2.6,2.6M177.7,101.1l2.6,2.6m0,-2.6l-2.6,2.6M153.2,95.4l2.6,2.6m0,-2.6l-2.6,2.6M141.7,96.1l2.6,2.6m0,-2.6l-2.6,2.6M159.3,99.8l2.6,2.6m0,-2.6l-2.6,2.6M149.1,99.8l2.6,2.6m0,-2.6l-2.6,2.6M141.9,92.6l2.6,2.6m0,-2.6l-2.6,2.6M145.0,96.7l2.6,2.6m0,-2.6l-2.6,2.6M153.0,91.7l2.6,2.6m0,-2.6l-2.6,2.6M163.4,100.6l2.6,2.6m0,-2.6l-2.6,2.6M169.5,104.4l2.6,2.6m0,-2.6l-2.6,2.6M168.2,111.1l2.6,2.6m0,-2.6l-2.6,2.6M156.1,94.5l2.6,2.6m0,-2.6l-2.6,2.6M178.1,89.2l2.6,2.6m0,-2.6l-2.6,2.6M168.5,104.0l2.6,2.6m0,-2.6l-2.6,2.6M174.7,103.5l2.6,2.6m0,-2.6l-2.6,2.6M168.9,109.1l2.6,2.6m0,-2.6l-2.6,2.6M146.9,100.4l2.6,2.6m0,-2.6l-2.6,2.6M160.4,109.7l2.6,2.6m0,-2.6l-2.6,2.6M171.5,109.5l2.6,2.6m0,-2.6l-2.6,2.6M163.3,111.5l2.6,2.6m0,-2.6l-2.6,2.6M167.0,105.5l2.6,2.6m0,-2.6l-2.6,2.6M150.2,85.6l2.6,2.6m0,-2.6l-2.6,2.6M146.6,95.5l2.6,2.6m0,-2.6l-2.6,2.6M162.4,103.5l2.6,2.6m0,-2.6l-2.6,2.6M164.9,105.1l2.6,2.6m0,-2.6l-2.6,2.6M159.8,84.8l2.6,2.6m0,-2.6l-2.6,2.6M171.2,107.1l2.6,2.6m0,-2.6l-2.6,2.6M160.3,100.8l2.6,2.6m0,-2.6l-2.6,2.6M166.1,86.7l2.6,2.6m0,-2.6l-2.6,2.6M169.0,92.3l2.6,2.6m0,-2.6l-2.6,2.6M144.5,92.7l2.6,2.6m0,-2.6l-2.6,2.6M168.7,90.9l2.6,2.6m0,-2.6l-2.6,2.6M169.1,114.0l2.6,2.6m0,-2.6l-2.6,2.6M160.0,96.2l2.6,2.6m0,-2.6l-2.6,2.6M159.4,105.2l2.6,2.6m0,-2.6l-2.6,2.6M170.1,103.2l2.6,2.6m0,-2.6l-2.6,2.6M165.5,87.0l2.6,2.6m0,-2.6l-2.6,2.6M147.2,92.3l2.6,2.6m0,-2.6l-2.6,2.6M169.2,93.8l2.6,2.6m0,-2.6l-2.6,2.6M162.7,85.1l2.6,2.6m0,-2.6l-2.6,2.6M143.9,92.8l2.6,2.6m0,-2.6l-2.6,2.6M166.6,105.5l2.6,2.6m0,-2.6l-2.6,2.6M166.7,93.4l2.6,2.6m0,-2.6l-2.6,2.6M160.8,98.6l2.6,2.6m0,-2.6l-2.6,2.6M159.0,88.3l2.6,2.6m0,-2.6l-2.6,2.6M174.8,90.7l2.6,2.6m0,-2.6l-2.6,2.6M177.9,112.8l2.6,2.6m0,-2.6l-2.6,2.6M142.3,98.5l2.6,2.6m0,-2.6l-2.6,2.6M172.0,113.7l2.6,2.6m0,-2.6l-2.6,2.6M158.3,92.8l2.6,2.6m0,-2.6l-2.6,2.6M149.5,102.1l2.6,2.6m0,-2.6l-2.6,2.6M146.9,100.4l2.6,2.6m0,-2.6l-2.6,2.6M177.0,88.7l2.6,2.6m0,-2.6l-2.6,2.6M172.0,100.0l2.6,2.6m0,-2.6l-2.6,2.6M174.5,105.8l2.6,2.6m0,-2.6l-2.6,2.6M159.7,85.4l2.6,2.6m0,-2.6l-2.6,2.6M141.8,99.5l2.6,2.6m0,-2.6l-2.6,2.6M158.4,93.8l2.6,2.6m0,-2.6l-2.6,2.6M146.9,95.0l2.6,2.6m0,-2.6l-2.6,2.6M153.4,109.9l2.6,2.6m0,-2.6l-2.6,2.6M172.7,88.3l2.6,2.6m0,-2.6l-2.6,2.6M176.0,106.1l2.6,2.6m0,-2.6l-2.6,2.6M175.1,93.4l2.6,2.6m0,-2.6l-2.6,2.6M155.5,96.5l2.6,2.6m0,-2.6l-2.6,2.6M178.7,102.4l2.6,2.6m0,-2.6l-2.6,2.6M155.0,97.5l2.6,2.6m0,-2.6l-2.6,2.6M151.9,86.1l2.6,2.6m0,-2.6l-2.6,2.6M150.9,92.7l2.6,2.6m0,-2.6l-2.6,2.6M160.6,90.4l2.6,2.6m0,-2.6l-2.6,2.6M155.5,113.4l2.6,2.6m0,-2.6l-2.6,2.6M174.4,109.1l2.6,2.6m0,-2.6l-2.6,2.6M165.0,112.1l2.6,2.6m0,-2.6l-2.6,2.6M176.5,101.2l2.6,2.6m0,-2.6l-2.6,2.6M168.3,86.2l2.6,2.6m0,-2.6l-2.6,2.6M168.8,98.2l2.6,2.6m0,-2.6l-2.6,2.6M169.5,104.0l2.6,2.6m0,-2.6l-2.6,2.6M152.3,86.2l2.6,2.6m0,-2.6l-2.6,2.6M176.0,88.5l2.6,2.6m0,-2.6l-2.6,2.6M159.2,95.0l2.6,2.6m0,-2.6l-2.6,2.6M152.7,106.9l2.6,2.6m0,-2.6l-2.6,2.6M177.8,92.5l2.6,2.6m0,-2.6l-2.6,2.6M166.0,93.7l2.6,2.6m0,-2.6l-2.6,2.6M162.3,96.5l2.6,2.6m0,-2.6l-2.6,2.6M147.9,89.5l2.6,2.6m0,-2.6l-2.6,2.6M160.1,91.3l2.6,2.6m0,-2.6l-2.6,2.6M175.2,114.6l2.6,2.6m0,-2.6l-2.6,2.6M158.3,88.9l2.6,2.6m0,-2.6l-2.6,2.6M148.8,87.4l2.6,2.6m0,-2.6l-2.6,2.6M154.4,87.4l2.6,2.6m0,-2.6l-2.6,2.6M150.5,92.5l2.6,2.6m0,-2.6l-2.6,2.6M162.8,111.3l2.6,2.6m0,-2.6l-2.6,2.6M169.4,97.1l2.6,2.6m0,-2.6l-2.6,2.6M157.0,100.4l2.6,2.6m0,-2.6l-2.6,2.6M155.6,94.8l2.6,2.6m0,-2.6l-2.6,2.6M144.0,93.0l2.6,2.6m0,-2.6l-2.6,2.6M177.5,88.5l2.6,2.6m0,-2.6l-2.6,2.6M160.3,103.6l2.6,2.6m0,-2.6l-2.6,2.6M173.6,91.2l2.6,2.6m0,-2.6l-2.6,2.6M151.7,92.2l2.6,2.6m0,-2.6l-2.6,2.6M156.5,98.1l2.6,2.6m0,-2.6l-2.6,2.6M177.0,110.2l2.6,2.6m0,-2.6l-2.6,2.6M174.0,85.4l2.6,2.6m0,-2.6l-2.6,2.6M174.8,98.9l2.6,2.6m0,-2.6l-2.6,2.6M163.4,84.7l2.6,2.6m0,-2.6l-2.6,2.6M156.2,112.5l2.6,2.6m0,-2.6l-2.6,2.6M172.2,110.4l2.6,2.6m0,-2.6l-2.6,2.6M177.7,92.2l2.6,2.6m0,-2.6l-2.6,2.6M145.7,89.3l2.6,2.6m0,-2.6l-2.6,2.6M161.0,105.2l2.6,2.6m0,-2.6l-2.6,2.6M176.5,106.4l2.6,2.6m0,-2.6l-2.6,2.6M165.7,107.6l2.6,2.6m0,-2.6l-2.6,2.6M158.6,101.2l2.6,2.6m0,-2.6l-2.6,2.6M165.6,93.8l2.6,2.6m0,-2.6l-2.6,2.6M146.4,92.3l2.6,2.6m0,-2.6l-2.6,2.6M165.2,105.7l2.6,2.6m0,-2.6l-2.6,2.6M145.8,86.8l2.6,2.6m0,-2.6l-2.6,2.6M161.1,102.2l2.6,2.6m0,-2.6l-2.6,2.6M156.1,91.4l2.6,2.6m0,-2.6l-2.6,2.6M163.9,85.0l2.6,2.6m0,-2.6l-2.6,2.6M152.9,98.5l2.6,2.6m0,-2.6l-2.6,2.6M177.2,104.0l2.6,2.6m0,-2.6l-2.6,2.6M174.4,99.0l2.6,2.6m0,-2.6l-2.6,2.6M150.4,92.1l2.6,2.6m0,-2.6l-2.6,2.6M177.2,105.8l2.6,2.6m0,-2.6l-2.6,2.6M153.1,85.4l2.6,2.6m0,-2.6l-2.6,2.6M160.1,104.9l2.6,2.6m0,-2.6l-2.6,2.6M157.2,92.4l2.6,2.6m0,-2.6l-2.6,2.6M166.4,112.5l2.6,2.6m0,-2.6l-2.6,2.6M150.1,85.7l2.6,2.6m0,-2.6l-2.6,2.6M154.2,97.3l2.6,2.6m0,-2.6l-2.6,2.6M167.0,90.6l2.6,2.6m0,-2.6l-2.6,2.6M171.2,106.9l2.6,2.6m0,-2.6l-2.6,2.6M160.4,90.9l2.6,2.6m0,-2.6l-2.6,2.6M177.6,94.1l2.6,2.6m0,-2.6l-2.6,2.6M172.0,91.6l2.6,2.6m0,-2.6l-2.6,2.6M149.9,107.5l2.6,2.6m0,-2.6l-2.6,2.6M160.0,90.3l2.6,2.6m0,-2.6l-2.6,2.6M150.0,97.2l2.6,2.6m0,-2.6l-2.6,2.6M166.3,113.2l2.6,2.6m0,-2.6l-2.6,2.6M147.1,96.5l2.6,2.6m0,-2.6l-2.6,2.6M147.0,86.3l2.6,2.6m0,-2.6l-2.6,2.6M143.9,96.5l2.6,2.6m0,-2.6l-2.6,2.6M174.9,111.2l2.6,2.6m0,-2.6l-2.6,2.6M168.8,114.6l2.6,2.6m0,-2.6l-2.6,2.6M176.2,94.6l2.6,2.6m0,-2.6l-2.6,2.6M169.3,85.7l2.6,2.6m0,-2.6l-2.6,2.6M166.3,96.1l2.6,2.6m0,-2.6l-2.6,2.6M155.5,94.7l2.6,2.6m0,-2.6l-2.6,2.6M148.0,84.8l2.6,2.6m0,-2.6l-2.6,2.6M152.1,95.2l2.6,2.6m0,-2.6l-2.6,2.6M177.1,88.4l2.6,2.6m0,-2.6l-2.6,2.6M177.4,90.9l2.6,2.6m0,-2.6l-2.6,2.6M154.9,109.3l2.6,2.6m0,-2.6l-2.6,2.6M172.1,97.7l2.6,2.6m0,-2.6l-2.6,2.6M143.5,98.9l2.6,2.6m0,-2.6l-2.6,2.6M155.5,112.3l2.6,2.6m0,-2.6l-2.6,2.6M148.8,95.6l2.6,2.6m0,-2.6l-2.6,2.6M174.9,85.6l2.6,2.6m0,-2.6l-2.6,2.6M156.9,109.1l2.6,2.6m0,-2.6l-2.6,2.6M170.1,85.9l2.6,2.6m0,-2.6l-2.6,2.6M175.7,92.4l2.6,2.6m0,-2.6l-2.6,2.6M169.3,111.7l2.6,2.6m0,-2.6l-2.6,2.6M154.2,92.9l2.6,2.6m0,-2.6l-2.6,2.6M177.1,103.2l2.6,2.6m0,-2.6l-2.6,2.6M151.4,106.2l2.6,2.6m0,-2.6l-2.6,2.6M153.4,93.0l2.6,2.6m0,-2.6l-2.6,2.6M175.6,103.7l2.6,2.6m0,-2.6l-2.6,2.6M176.6,85.4l2.6,2.6m0,-2.6l-2.6,2.6M150.4,99.0l2.6,2.6m0,-2.6l-2.6,2.6M177.1,113.3l2.6,2.6m0,-2.6l-2.6,2.6M156.0,92.2l2.6,2.6m0,-2.6l-2.6,2.6M157.6,99.5l2.6,2.6m0,-2.6l-2.6,2.6M176.0,90.2l2.6,2.6m0,-2.6l-2.6,2.6M171.4,106.9l2.6,2.6m0,-2.6l-2.6,2.6M172.1,107.9l2.6,2.6m0,-2.6l-2.6,2.6M164.2,94.5l2.6,2.6m0,-2.6l-2.6,2.6M153.5,95.6l2.6,2.6m0,-2.6l-2.6,2.6M170.6,87.1l2.6,2.6m0,-2.6l-2.6,2.6M149.0,107.3l2.6,2.6m0,-2.6l-2.6,2.6M150.9,86.6l2.6,2.6m0,-2.6l-2.6,2.6M143.0,101.3l2.6,2.6m0,-2.6l-2.6,2.6M153.8,114.1l2.6,2.6m0,-2.6l-2.6,2.6M174.4,114.3l2.6,2.6m0,-2.6l-2.6,2.6M151.5,87.2l2.6,2.6m0,-2.6l-2.6,2.6M145.3,99.7l2.6,2.6m0,-2.6l-2.6,2.6M168.0,98.1l2.6,2.6m0,-2.6l-2.6,2.6M150.4,97.2l2.6,2.6m0,-2.6l-2.6,2.6M164.7,104.9l2.6,2.6m0,-2.6l-2.6,2.6M169.4,110.1l2.6,2.6m0,-2.6l-2.6,2.6M166.3,88.3l2.6,2.6m0,-2.6l-2.6,2.6M172.8,93.5l2.6,2.6m0,-2.6l-2.6,2.6M162.7,95.9l2.6,2.6m0,-2.6l-2.6,2.6M169.0,90.7l2.6,2.6m0,-2.6l-2.6,2.6M150.9,92.1l2.6,2.6m0,-2.6l-2.6,2.6M163.1,94.5l2.6,2.6m0,-2.6l-2.6,2.6M156.7,95.3l2.6,2.6m0,-2.6l-2.6,2.6M150.6,91.5l2.6,2.6m0,-2.6l-2.6,2.6M160.8,102.4l2.6,2.6m0,-2.6l-2.6,2.6M149.6,95.0l2.6,2.6m0,-2.6l-2.6,2.6M168.4,103.1l2.6,2.6m0,-2.6l-2.6,2.6M152.0,88.9l2.6,2.6m0,-2.6l-2.6,2.6M172.2,103.3l2.6,2.6m0,-2.6l-2.6,2.6M159.7,87.6l2.6,2.6m0,-2.6l-2.6,2.6M171.7,93.3l2.6,2.6m0,-2.6l-2.6,2.6M171.1,97.2l2.6,2.6m0,-2.6l-2.6,2.6M169.0,89.4l2.6,2.6m0,-2.6l-2.6,2.6M167.9,90.5l2.6,2.6m0,-2.6l-2.6,2.6M157.6,101.1l2.6,2.6m0,-2.6l-2.6,2.6M169.1,89.8l2.6,2.6m0,-2.6l-2.6,2.6M152.6,93.5l2.6,2.6m0,-2.6l-2.6,2.6M160.7,93.2l2.6,2.6m0,-2.6l-2.6,2.6M150.0,90.9l2.6,2.6m0,-2.6l-2.6,2.6M166.3,102.0l2.6,2.6m0,-2.6l-2.6,2.6M147.8,96.3l2.6,2.6m0,-2.6l-2.6,2.6M167.2,87.3l2.6,2.6m0,-2.6l-2.6,2.6M169.3,88.7l2.6,2.6m0,-2.6l-2.6,2.6M162.9,96.1l2.6,2.6m0,-2.6l-2.6,2.6M163.6,91.9l2.6,2.6m0,-2.6l-2.6,2.6M158.0,96.6l2.6,2.6m0,-2.6l-2.6,2.6M158.2,97.9l2.6,2.6m0,-2.6l-2.6,2.6M158.8,94.2l2.6,2.6m0,-2.6l-2.6,2.6M147.3,97.2l2.6,2.6m0,-2.6l-2.6,2.6M159.9,90.7l2.6,2.6m0,-2.6l-2.6,2.6M167.3,100.0l2.6,2.6m0,-2.6l-2.6,2.6M159.1,89.8l2.6,2.6m0,-2.6l-2.6,2.6M159.5,88.5l2.6,2.6m0,-2.6l-2.6,2.6M150.2,94.0l2.6,2.6m0,-2.6l-2.6,2.6M149.2,94.2l2.6,2.6m0,-2.6l-2.6,2.6M160.5,87.4l2.6,2.6m0,-2.6l-2.6,2.6M163.9,88.1l2.6,2.6m0,-2.6l-2.6,2.6M166.5,99.9l2.6,2.6m0,-2.6l-2.6,2.6M160.5,87.6l2.6,2.6m0,-2.6l-2.6,2.6M160.3,93.1l2.6,2.6m0,-2.6l-2.6,2.6M172.4,89.0l2.6,2.6m0,-2.6l-2.6,2.6M169.8,103.6l2.6,2.6m0,-2.6l-2.6,2.6M166.5,100.6l2.6,2.6m0,-2.6l-2.6,2.6M151.9,103.4l2.6,2.6m0,-2.6l-2.6,2.6M160.0,103.0l2.6,2.6m0,-2.6l-2.6,2.6M171.4,89.5l2.6,2.6m0,-2.6l-2.6,2.6M168.0,102.5l2.6,2.6m0,-2.6l-2.6,2.6M148.5,92.7l2.6,2.6m0,-2.6l-2.6,2.6M167.1,89.4l2.6,2.6m0,-2.6l-2.6,2.6M170.9,91.4l2.6,2.6m0,-2.6l-2.6,2.6M168.7,89.1l2.6,2.6m0,-2.6l-2.6,2.6M160.3,102.3l2.6,2.6m0,-2.6l-2.6,2.6M152.3,91.2l2.6,2.6m0,-2.6l-2.6,2.6M160.4,92.1l2.6,2.6m0,-2.6l-2.6,2.6M147.7,89.8l2.6,2.6m0,-2.6l-2.6,2.6M151.1,102.6l2.6,2.6m0,-2.6l-2.6,2.6M165.1,101.9l2.6,2.6m0,-2.6l-2.6,2.6M151.3,100.0l2.6,2.6m0,-2.6l-2.6,2.6M149.8,95.7l2.6,2.6m0,-2.6l-2.6,2.6M163.9,92.8l2.6,2.6m0,-2.6l-2.6,2.6M170.3,96.1l2.6,2.6m0,-2.6l-2.6,2.6M162.4,101.7l2.6,2.6m0,-2.6l-2.6,2.6M190.3,98.5l2.6,2.6m0,-2.6l-2.6,2.6M188.0,106.8l2.6,2.6m0,-2.6l-2.6,2.6M179.6,94.8l2.6,2.6m0,-2.6l-2.6,2.6M191.1,91.1l2.6,2.6m0,-2.6l-2.6,2.6M176.8,97.1l2.6,2.6m0,-2.6l-2.6,2.6M179.0,97.1l2.6,2.6m0,-2.6l-2.6,2.6M181.6,101.2l2.6,2.6m0,-2.6l-2.6,2.6M189.7,94.4l2.6,2.6m0,-2.6l-2.6,2.6M190.4,99.2l2.6,2.6m0,-2.6l-2.6,2.6M179.7,107.6l2.6,2.6m0,-2.6l-2.6,2.6M182.1,93.4l2.6,2.6m0,-2.6l-2.6,2.6M178.8,102.2l2.6,2.6m0,-2.6l-2.6,2.6M195.9,104.8l2.6,2.6m0,-2.6l-2.6,2.6M185.5,95.5l2.6,2.6m0,-2.6l-2.6,2.6M177.0,102.3l2.6,2.6m0,-2.6l-2.6,2.6M189.1,97.0l2.6,2.6m0,-2.6l-2.6,2.6M190.9,98.7l2.6,2.6m0,-2.6l-2.6,2.6M197.3,103.9l2.6,2.6m0,-2.6l-2.6,2.6M182.2,107.0l2.6,2.6m0,-2.6l-2.6,2.6M177.7,100.3l2.6,2.6m0,-2.6l-2.6,2.6M185.6,95.0l2.6,2.6m0,-2.6l-2.6,2.6M178.0,104.7l2.6,2.6m0,-2.6l-2.6,2.6M177.0,100.6l2.6,2.6m0,-2.6l-2.6,2.6M197.4,93.3l2.6,2.6m0,-2.6l-2.6,2.6M181.1,101.6l2.6,2.6m0,-2.6l-2.6,2.6M187.9,102.2l2.6,2.6m0,-2.6l-2.6,2.6M194.6,93.8l2.6,2.6m0,-2.6l-2.6,2.6M183.5,96.1l2.6,2.6m0,-2.6l-2.6,2.6M177.8,106.7l2.6,2.6m0,-2.6l-2.6,2.6M193.9,103.6l2.6,2.6m0,-2.6l-2.6,2.6M176.8,105.9l2.6,2.6m0,-2.6l-2.6,2.6M193.1,99.1l2.6,2.6m0,-2.6l-2.6,2.6M193.0,98.8l2.6,2.6m0,-2.6l-2.6,2.6M181.7,92.6l2.6,2.6m0,-2.6l-2.6,2.6M181.8,91.4l2.6,2.6m0,-2.6l-2.6,2.6M184.1,104.2l2.6,2.6m0,-2.6l-2.6,2.6M192.0,105.9l2.6,2.6m0,-2.6l-2.6,2.6M192.4,95.5l2.6,2.6m0,-2.6l-2.6,2.6M188.9,98.5l2.6,2.6m0,-2.6l-2.6,2.6M194.0,100.1l2.6,2.6m0,-2.6l-2.6,2.6M182.5,102.3l2.6,2.6m0,-2.6l-2.6,2.6M197.9,94.6l2.6,2.6m0,-2.6l-2.6,2.6M196.1,91.0l2.6,2.6m0,-2.6l-2.6,2.6M182.4,94.9l2.6,2.6m0,-2.6l-2.6,2.6M193.1,107.7l2.6,2.6m0,-2.6l-2.6,2.6M193.1,96.6l2.6,2.6m0,-2.6l-2.6,2.6M196.1,96.6l2.6,2.6m0,-2.6l-2.6,2.6M182.0,107.0l2.6,2.6m0,-2.6l-2.6,2.6M190.6,103.2l2.6,2.6m0,-2.6l-2.6,2.6M191.3,108.3l2.6,2.6m0,-2.6l-2.6,2.6M187.0,105.8l2.6,2.6m0,-2.6l-2.6,2.6M192.0,106.1l2.6,2.6m0,-2.6l-2.6,2.6M186.3,103.7l2.6,2.6m0,-2.6l-2.6,2.6M189.2,96.2l2.6,2.6m0,-2.6l-2.6,2.6M181.4,101.9l2.6,2.6m0,-2.6l-2.6,2.6M178.4,107.1l2.6,2.6m0,-2.6l-2.6,2.6M179.9,91.2l2.6,2.6m0,-2.6l-2.6,2.6M179.0,107.4l2.6,2.6m0,-2.6l-2.6,2.6M184.3,93.3l2.6,2.6m0,-2.6l-2.6,2.6M177.3,91.4l2.6,2.6m0,-2.6l-2.6,2.6M191.9,102.1l2.6,2.6m0,-2.6l-2.6,2.6M192.0,104.0l2.6,2.6m0,-2.6l-2.6,2.6M178.1,101.3l2.6,2.6m0,-2.6l-2.6,2.6M184.7,105.4l2.6,2.6m0,-2.6l-2.6,2.6M194.7,106.7l2.6,2.6m0,-2.6l-2.6,2.6M178.2,106.3l2.6,2.6m0,-2.6l-2.6,2.6M196.8,107.7l2.6,2.6m0,-2.6l-2.6,2.6M179.1,94.4l2.6,2.6m0,-2.6l-2.6,2.6M179.2,91.3l2.6,2.6m0,-2.6l-2.6,2.6M195.3,105.3l2.6,2.6m0,-2.6l-2.6,2.6M190.7,105.6l2.6,2.6m0,-2.6l-2.6,2.6M190.6,95.9l2.6,2.6m0,-2.6l-2.6,2.6M178.9,92.5l2.6,2.6m0,-2.6l-2.6,2.6M193.4,94.4l2.6,2.6m0,-2.6l-2.6,2.6M183.7,98.3l2.6,2.6m0,-2.6l-2.6,2.6M177.2,95.3l2.6,2.6m0,-2.6l-2.6,2.6M182.9,103.6l2.6,2.6m0,-2.6l-2.6,2.6M184.8,96.5l2.6,2.6m0,-2.6l-2.6,2.6M197.9,99.8l2.6,2.6m0,-2.6l-2.6,2.6M195.4,101.8l2.6,2.6m0,-2.6l-2.6,2.6M177.4,98.1l2.6,2.6m0,-2.6l-2.6,2.6M186.3,104.6l2.6,2.6m0,-2.6l-2.6,2.6M184.3,103.4l2.6,2.6m0,-2.6l-2.6,2.6M188.5,94.6l2.6,2.6m0,-2.6l-2.6,2.6M195.7,92.3l2.6,2.6m0,-2.6l-2.6,2.6M194.7,93.8l2.6,2.6m0,-2.6l-2.6,2.6M176.7,94.3l2.6,2.6m0,-2.6l-2.6,2.6M193.5,108.3l2.6,2.6m0,-2.6l-2.6,2.6M176.8,99.5l2.6,2.6m0,-2.6l-2.6,2.6M187.5,105.0l2.6,2.6m0,-2.6l-2.6,2.6M180.8,99.6l2.6,2.6m0,-2.6l-2.6,2.6M184.3,105.7l2.6,2.6m0,-2.6l-2.6,2.6M182.4,107.7l2.6,2.6m0,-2.6l-2.6,2.6M182.9,94.6l2.6,2.6m0,-2.6l-2.6,2.6M192.1,99.7l2.6,2.6m0,-2.6l-2.6,2.6M179.1,102.2l2.6,2.6m0,-2.6l-2.6,2.6M178.5,104.9l2.6,2.6m0,-2.6l-2.6,2.6M192.0,104.9l2.6,2.6m0,-2.6l-2.6,2.6M190.5,97.1l2.6,2.6m0,-2.6l-2.6,2.6M185.5,97.8l2.6,2.6m0,-2.6l-2.6,2.6M196.3,92.3l2.6,2.6m0,-2.6l-2.6,2.6M196.2,91.2l2.6,2.6m0,-2.6l-2.6,2.6M181.2,95.4l2.6,2.6m0,-2.6l-2.6,2.6M196.5,99.7l2.6,2.6m0,-2.6l-2.6,2.6M185.0,106.6l2.6,2.6m0,-2.6l-2.6,2.6M181.8,99.0l2.6,2.6m0,-2.6l-2.6,2.6M188.4,104.3l2.6,2.6m0,-2.6l-2.6,2.6M193.3,102.3l2.6,2.6m0,-2.6l-2.6,2.6M184.4,96.6l2.6,2.6m0,-2.6l-2.6,2.6M180.1,105.9l2.6,2.6m0,-2.6l-2.6,2.6M191.3,104.1l2.6,2.6m0,-2.6l-2.6,2.6M180.4,98.6l2.6,2.6m0,-2.6l-2.6,2.6M193.7,101.1l2.6,2.6m0,-2.6l-2.6,2.6M179.5,99.0l2.6,2.6m0,-2.6l-2.6,2.6M196.2,95.0l2.6,2.6m0,-2.6l-2.6,2.6M180.9,96.1l2.6,2.6m0,-2.6l-2.6,2.6M192.2,105.9l2.6,2.6m0,-2.6l-2.6,2.6M180.1,93.5l2.6,2.6m0,-2.6l-2.6,2.6M182.1,96.6l2.6,2.6m0,-2.6l-2.6,2.6M188.2,93.6l2.6,2.6m0,-2.6l-2.6,2.6M183.9,94.1l2.6,2.6m0,-2.6l-2.6,2.6M198.2,103.8l2.6,2.6m0,-2.6l-2.6,2.6M178.9,108.0l2.6,2.6m0,-2.6l-2.6,2.6M178.9,97.6l2.6,2.6m0,-2.6l-2.6,2.6M198.3,105.0l2.6,2.6m0,-2.6l-2.6,2.6M192.8,98.5l2.6,2.6m0,-2.6l-2.6,2.6M181.0,102.2l2.6,2.6m0,-2.6l-2.6,2.6M179.1,94.4l2.6,2.6m0,-2.6l-2.6,2.6M185.2,91.3l2.6,2.6m0,-2.6l-2.6,2.6M185.5,104.9l2.6,2.6m0,-2.6l-2.6,2.6M192.0,99.7l2.6,2.6m0,-2.6l-2.6,2.6M190.6,99.0l2.6,2.6m0,-2.6l-2.6,2.6M179.8,101.6l2.6,2.6m0,-2.6l-2.6,2.6M185.6,104.0l2.6,2.6m0,-2.6l-2.6,2.6M196.7,98.4l2.6,2.6m0,-2.6l-2.6,2.6M189.3,104.2l2.6,2.6m0,-2.6l-2.6,2.6M186.0,94.8l2.6,2.6m0,-2.6l-2.6,2.6M192.6,106.5l2.6,2.6m0,-2.6l-2.6,2.6M193.7,103.3l2.6,2.6m0,-2.6l-2.6,2.6M195.5,102.9l2.6,2.6m0,-2.6l-2.6,2.6M190.8,98.9l2.6,2.6m0,-2.6l-2.6,2.6M183.6,102.0l2.6,2.6m0,-2.6l-2.6,2.6M178.9,98.3l2.6,2.6m0,-2.6l-2.6,2.6M193.9,103.5l2.6,2.6m0,-2.6l-2.6,2.6M190.6,95.2l2.6,2.6m0,-2.6l-2.6,2.6M186.0,98.9l2.6,2.6m0,-2.6l-2.6,2.6M190.4,98.1l2.6,2.6m0,-2.6l-2.6,2.6M191.6,107.4l2.6,2.6m0,-2.6l-2.6,2.6M180.7,102.5l2.6,2.6m0,-2.6l-2.6,2.6M193.8,97.7l2.6,2.6m0,-2.6l-2.6,2.6M182.9,106.8l2.6,2.6m0,-2.6l-2.6,2.6M187.7,111.6l2.6,2.6m0,-2.6l-2.6,2.6M186.9,104.2l2.6,2.6m0,-2.6l-2.6,2.6M185.4,112.3l2.6,2.6m0,-2.6l-2.6,2.6M194.0,108.7l2.6,2.6m0,-2.6l-2.6,2.6M185.3,113.3l2.6,2.6m0,-2.6l-2.6,2.6M187.4,103.3l2.6,2.6m0,-2.6l-2.6,2.6M184.3,112.9l2.6,2.6m0,-2.6l-2.6,2.6M192.4,110.5l2.6,2.6m0,-2.6l-2.6,2.6M188.3,109.3l2.6,2.6m0,-2.6l-2.6,2.6M185.4,116.1l2.6,2.6m0,-2.6l-2.6,2.6M186.9,110.6l2.6,2.6m0,-2.6l-2.6,2.6M192.5,113.6l2.6,2.6m0,-2.6l-2.6,2.6M188.3,104.7l2.6,2.6m0,-2.6l-2.6,2.6M189.3,101.8l2.6,2.6m0,-2.6l-2.6,2.6M192.7,105.7l2.6,2.6m0,-2.6l-2.6,2.6M192.9,104.2l2.6,2.6m0,-2.6l-2.6,2.6M187.2,104.0l2.6,2.6m0,-2.6l-2.6,2.6M187.8,102.9l2.6,2.6m0,-2.6l-2.6,2.6M182.7,112.0l2.6,2.6m0,-2.6l-2.6,2.6M186.1,103.9l2.6,2.6m0,-2.6l-2.6,2.6M186.3,107.9l2.6,2.6m0,-2.6l-2.6,2.6M187.8,110.5l2.6,2.6m0,-2.6l-2.6,2.6M190.6,105.9l2.6,2.6m0,-2.6l-2.6,2.6M205.5,105.1l2.6,2.6m0,-2.6l-2.6,2.6M217.6,110.7l2.6,2.6m0,-2.6l-2.6,2.6M196.1,108.9l2.6,2.6m0,-2.6l-2.6,2.6M226.6,104.0l2.6,2.6m0,-2.6l-2.6,2.6M196.5,97.1l2.6,2.6m0,-2.6l-2.6,2.6M194.9,94.0l2.6,2.6m0,-2.6l-2.6,2.6M218.4,110.8l2.6,2.6m0,-2.6l-2.6,2.6M216.9,106.3l2.6,2.6m0,-2.6l-2.6,2.6M219.8,105.4l2.6,2.6m0,-2.6l-2.6,2.6M219.2,94.7l2.6,2.6m0,-2.6l-2.6,2.6M218.7,101.5l2.6,2.6m0,-2.6l-2.6,2.6M222.2,91.5l2.6,2.6m0,-2.6l-2.6,2.6M201.2,89.7l2.6,2.6m0,-2.6l-2.6,2.6M218.3,99.0l2.6,2.6m0,-2.6l-2.6,2.6M214.9,95.9l2.6,2.6m0,-2.6l-2.6,2.6M205.6,100.5l2.6,2.6m0,-2.6l-2.6,2.6M206.2,100.8l2.6,2.6m0,-2.6l-2.6,2.6M196.7,104.6l2.6,2.6m0,-2.6l-2.6,2.6M196.1,92.0l2.6,2.6m0,-2.6l-2.6,2.6M223.9,104.8l2.6,2.6m0,-2.6l-2.6,2.6M227.8,101.2l2.6,2.6m0,-2.6l-2.6,2.6M195.2,99.5l2.6,2.6m0,-2.6l-2.6,2.6M216.0,115.0l2.6,2.6m0,-2.6l-2.6,2.6M209.5,91.6l2.6,2.6m0,-2.6l-2.6,2.6M217.9,94.6l2.6,2.6m0,-2.6l-2.6,2.6M200.2,89.1l2.6,2.6m0,-2.6l-2.6,2.6M194.9,107.8l2.6,2.6m0,-2.6l-2.6,2.6M199.1,115.8l2.6,2.6m0,-2.6l-2.6,2.6M197.9,113.0l2.6,2.6m0,-2.6l-2.6,2.6M199.3,89.2l2.6,2.6m0,-2.6l-2.6,2.6M220.6,95.5l2.6,2.6m0,-2.6l-2.6,2.6M221.1,93.9l2.6,2.6m0,-2.6l-2.6,2.6M196.5,110.4l2.6,2.6m0,-2.6l-2.6,2.6M220.4,112.7l2.6,2.6m0,-2.6l-2.6,2.6M221.0,91.1l2.6,2.6m0,-2.6l-2.6,2.6M217.3,108.6l2.6,2.6m0,-2.6l-2.6,2.6M211.3,114.8l2.6,2.6m0,-2.6l-2.6,2.6M203.8,115.7l2.6,2.6m0,-2.6l-2.6,2.6M220.5,89.0l2.6,2.6m0,-2.6l-2.6,2.6M195.2,106.9l2.6,2.6m0,-2.6l-2.6,2.6M205.5,110.5l2.6,2.6m0,-2.6l-2.6,2.6M202.1,113.8l2.6,2.6m0,-2.6l-2.6,2.6M209.9,113.8l2.6,2.6m0,-2.6l-2.6,2.6M204.6,109.3l2.6,2.6m0,-2.6l-2.6,2.6M197.5,115.5l2.6,2.6m0,-2.6l-2.6,2.6M206.5,114.1l2.6,2.6m0,-2.6l-2.6,2.6M201.3,112.2l2.6,2.6m0,-2.6l-2.6,2.6M210.4,114.2l2.6,2.6m0,-2.6l-2.6,2.6M205.1,109.5l2.6,2.6m0,-2.6l-2.6,2.6M202.7,114.7l2.6,2.6m0,-2.6l-2.6,2.6M168.8,80.8l2.6,2.6m0,-2.6l-2.6,2.6M181.4,83.4l2.6,2.6m0,-2.6l-2.6,2.6M193.2,85.8l2.6,2.6m0,-2.6l-2.6,2.6M170.0,85.4l2.6,2.6m0,-2.6l-2.6,2.6M193.1,85.6l2.6,2.6m0,-2.6l-2.6,2.6M185.9,80.9l2.6,2.6m0,-2.6l-2.6,2.6M194.2,85.2l2.6,2.6m0,-2.6l-2.6,2.6M189.2,86.0l2.6,2.6m0,-2.6l-2.6,2.6M179.1,79.4l2.6,2.6m0,-2.6l-2.6,2.6M185.3,85.1l2.6,2.6m0,-2.6l-2.6,2.6M92.7,53.7l2.6,2.6m0,-2.6l-2.6,2.6M101.7,57.3l2.6,2.6m0,-2.6l-2.6,2.6M102.7,58.7l2.6,2.6m0,-2.6l-2.6,2.6M98.7,60.7l2.6,2.6m0,-2.6l-2.6,2.6M94.7,64.7l2.6,2.6m0,-2.6l-2.6,2.6M104.7,60.7l2.6,2.6m0,-2.6l-2.6,2.6M89.7,58.7l2.6,2.6m0,-2.6l-2.6,2.6M97.7,55.7l2.6,2.6m0,-2.6l-2.6,2.6M99.7,63.2l2.6,2.6m0,-2.6l-2.6,2.6M377.7,61.5l2.6,2.6m0,-2.6l-2.6,2.6M377.2,64.4l2.6,2.6m0,-2.6l-2.6,2.6M409.7,56.2l2.6,2.6m0,-2.6l-2.6,2.6M413.4,60.3l2.6,2.6m0,-2.6l-2.6,2.6M416.3,72.6l2.6,2.6m0,-2.6l-2.6,2.6M408.7,54.2l2.6,2.6m0,-2.6l-2.6,2.6M409.7,56.7l2.6,2.6m0,-2.6l-2.6,2.6M412.7,60.7l2.6,2.6m0,-2.6l-2.6,2.6M416.7,71.7l2.6,2.6m0,-2.6l-2.6,2.6M398.7,76.7l2.6,2.6m0,-2.6l-2.6,2.6M386.7,88.7l2.6,2.6m0,-2.6l-2.6,2.6M379.7,95.7l2.6,2.6m0,-2.6l-2.6,2.6M380.7,97.2l2.6,2.6m0,-2.6l-2.6,2.6M395.7,89.7l2.6,2.6m0,-2.6l-2.6,2.6M404.7,87.7l2.6,2.6m0,-2.6l-2.6,2.6M406.7,89.7l2.6,2.6m0,-2.6l-2.6,2.6M406.7,92.7l2.6,2.6m0,-2.6l-2.6,2.6M401.7,93.7l2.6,2.6m0,-2.6l-2.6,2.6M374.7,88.7l2.6,2.6m0,-2.6l-2.6,2.6M357.7,90.7l2.6,2.6m0,-2.6l-2.6,2.6M378.7,81.7l2.6,2.6m0,-2.6l-2.6,2.6M390.7,82.7l2.6,2.6m0,-2.6l-2.6,2.6M393.7,98.7l2.6,2.6m0,-2.6l-2.6,2.6M358.7,98.7l2.6,2.6m0,-2.6l-2.6,2.6M353.3,151.7l2.6,2.6m0,-2.6l-2.6,2.6M354.7,153.7l2.6,2.6m0,-2.6l-2.6,2.6M355.7,155.7l2.6,2.6m0,-2.6l-2.6,2.6M356.7,157.7l2.6,2.6m0,-2.6l-2.6,2.6M357.7,159.7l2.6,2.6m0,-2.6l-2.6,2.6M358.7,152.7l2.6,2.6m0,-2.6l-2.6,2.6M359.7,154.7l2.6,2.6m0,-2.6l-2.6,2.6M353.7,158.7l2.6,2.6m0,-2.6l-2.6,2.6M360.7,156.7l2.6,2.6m0,-2.6l-2.6,2.6M355.2,160.7l2.6,2.6m0,-2.6l-2.6,2.6M357.2,152.2l2.6,2.6m0,-2.6l-2.6,2.6M367.7,158.4l2.6,2.6m0,-2.6l-2.6,2.6M411.7,148.2l2.6,2.6m0,-2.6l-2.6,2.6M408.7,176.7l2.6,2.6m0,-2.6l-2.6,2.6M410.2,175.7l2.6,2.6m0,-2.6l-2.6,2.6M411.7,174.7l2.6,2.6m0,-2.6l-2.6,2.6M413.2,173.2l2.6,2.6m0,-2.6l-2.6,2.6M414.7,172.2l2.6,2.6m0,-2.6l-2.6,2.6M416.2,171.7l2.6,2.6m0,-2.6l-2.6,2.6M417.7,171.2l2.6,2.6m0,-2.6l-2.6,2.6M419.7,170.7l2.6,2.6m0,-2.6l-2.6,2.6M420.7,172.7l2.6,2.6m0,-2.6l-2.6,2.6M422.2,174.2l2.6,2.6m0,-2.6l-2.6,2.6M423.7,175.2l2.6,2.6m0,-2.6l-2.6,2.6M425.2,173.7l2.6,2.6m0,-2.6l-2.6,2.6M426.3,171.7l2.6,2.6m0,-2.6l-2.6,2.6M419.2,174.7l2.6,2.6m0,-2.6l-2.6,2.6M416.7,173.7l2.6,2.6m0,-2.6l-2.6,2.6M422.7,171.2l2.6,2.6m0,-2.6l-2.6,2.6M411.2,174.2l2.6,2.6m0,-2.6l-2.6,2.6M413.7,174.7l2.6,2.6m0,-2.6l-2.6,2.6M420.7,175.7l2.6,2.6m0,-2.6l-2.6,2.6M424.7,176.7l2.6,2.6m0,-2.6l-2.6,2.6M409.2,176.2l2.6,2.6m0,-2.6l-2.6,2.6M409.7,177.2l2.6,2.6m0,-2.6l-2.6,2.6M410.7,175.2l2.6,2.6m0,-2.6l-2.6,2.6M412.2,173.7l2.6,2.6m0,-2.6l-2.6,2.6M414.2,172.7l2.6,2.6m0,-2.6l-2.6,2.6M415.7,172.2l2.6,2.6m0,-2.6l-2.6,2.6M418.2,171.5l2.6,2.6m0,-2.6l-2.6,2.6M419.2,172.2l2.6,2.6m0,-2.6l-2.6,2.6M421.2,173.7l2.6,2.6m0,-2.6l-2.6,2.6M423.2,174.7l2.6,2.6m0,-2.6l-2.6,2.6M424.2,175.7l2.6,2.6m0,-2.6l-2.6,2.6M425.2,172.7l2.6,2.6m0,-2.6l-2.6,2.6M425.7,171.2l2.6,2.6m0,-2.6l-2.6,2.6M421.7,176.2l2.6,2.6m0,-2.6l-2.6,2.6M419.7,175.2l2.6,2.6m0,-2.6l-2.6,2.6M415.2,174.2l2.6,2.6m0,-2.6l-2.6,2.6M412.7,175.7l2.6,2.6m0,-2.6l-2.6,2.6M417.2,173.2l2.6,2.6m0,-2.6l-2.6,2.6M410.1,210.1l2.6,2.6m0,-2.6l-2.6,2.6M403.9,216.6l2.6,2.6m0,-2.6l-2.6,2.6M405.0,217.6l2.6,2.6m0,-2.6l-2.6,2.6M395.7,220.7l2.6,2.6m0,-2.6l-2.6,2.6M395.3,227.8l2.6,2.6m0,-2.6l-2.6,2.6M408.5,220.7l2.6,2.6m0,-2.6l-2.6,2.6M412.7,222.7l2.6,2.6m0,-2.6l-2.6,2.6M623.7,219.7l2.6,2.6m0,-2.6l-2.6,2.6M610.4,232.0l2.6,2.6m0,-2.6l-2.6,2.6M499.1,114.1l2.6,2.6m0,-2.6l-2.6,2.6M499.5,114.5l2.6,2.6m0,-2.6l-2.6,2.6M498.7,113.7l2.6,2.6m0,-2.6l-2.6,2.6M562.1,97.8l2.6,2.6m0,-2.6l-2.6,2.6M562.5,98.1l2.6,2.6m0,-2.6l-2.6,2.6M561.7,97.5l2.6,2.6m0,-2.6l-2.6,2.6M538.2,112.3l2.6,2.6m0,-2.6l-2.6,2.6M581.5,106.0l2.6,2.6m0,-2.6l-2.6,2.6M581.9,106.3l2.6,2.6m0,-2.6l-2.6,2.6M499.1,124.8l2.6,2.6m0,-2.6l-2.6,2.6M520.0,116.3l2.6,2.6m0,-2.6l-2.6,2.6" stroke="#e04848" stroke-opacity="0.28" stroke-width="0.8" fill="none"/>
<g fill="#268a1c"><circle cx="155.0" cy="90.5" r="1.3"/><circle cx="167.1" cy="88.2" r="1.3"/><circle cx="162.8" cy="97.0" r="1.3"/><circle cx="145.1" cy="101.2" r="1.3"/><circle cx="144.4" cy="99.0" r="1.3"/><circle cx="145.6" cy="88.7" r="1.3"/><circle cx="158.7" cy="110.8" r="1.3"/><circle cx="147.6" cy="92.7" r="1.3"/><circle cx="166.2" cy="114.4" r="1.3"/><circle cx="164.4" cy="97.9" r="1.3"/><circle cx="179.1" cy="87.4" r="1.3"/><circle cx="174.8" cy="94.7" r="1.3"/><circle cx="148.3" cy="89.5" r="1.3"/><circle cx="154.4" cy="110.5" r="1.3"/><circle cx="149.7" cy="103.4" r="1.3"/><circle cx="166.6" cy="97.2" r="1.3"/><circle cx="163.3" cy="87.9" r="1.3"/><circle cx="145.2" cy="92.2" r="1.3"/><circle cx="168.2" cy="98.8" r="1.3"/><circle cx="154.6" cy="103.6" r="1.3"/><circle cx="159.8" cy="95.0" r="1.3"/><circle cx="172.4" cy="107.0" r="1.3"/><circle cx="152.0" cy="103.2" r="1.3"/><circle cx="162.4" cy="112.3" r="1.3"/><circle cx="170.0" cy="94.6" r="1.3"/><circle cx="179.3" cy="89.5" r="1.3"/><circle cx="158.5" cy="108.7" r="1.3"/><circle cx="148.6" cy="100.7" r="1.3"/><circle cx="171.3" cy="103.2" r="1.3"/><circle cx="175.4" cy="95.4" r="1.3"/><circle cx="168.7" cy="103.8" r="1.3"/><circle cx="164.5" cy="99.7" r="1.3"/><circle cx="174.1" cy="114.3" r="1.3"/><circle cx="160.5" cy="105.9" r="1.3"/><circle cx="166.9" cy="115.8" r="1.3"/><circle cx="173.4" cy="94.5" r="1.3"/><circle cx="157.3" cy="106.1" r="1.3"/><circle cx="143.8" cy="99.9" r="1.3"/><circle cx="149.2" cy="89.5" r="1.3"/><circle cx="147.8" cy="93.4" r="1.3"/><circle cx="157.5" cy="112.1" r="1.3"/><circle cx="146.0" cy="99.5" r="1.3"/><circle cx="163.3" cy="112.5" r="1.3"/><circle cx="173.3" cy="111.9" r="1.3"/><circle cx="153.3" cy="98.5" r="1.3"/><circle cx="156.3" cy="112.5" r="1.3"/><circle cx="178.4" cy="90.5" r="1.3"/><circle cx="149.5" cy="93.0" r="1.3"/><circle cx="151.6" cy="100.5" r="1.3"/><circle cx="164.8" cy="93.9" r="1.3"/><circle cx="143.2" cy="98.6" r="1.3"/><circle cx="156.7" cy="103.0" r="1.3"/><circle cx="178.3" cy="106.7" r="1.3"/><circle cx="162.1" cy="104.5" r="1.3"/><circle cx="168.0" cy="87.6" r="1.3"/><circle cx="176.3" cy="109.4" r="1.3"/><circle cx="175.4" cy="109.9" r="1.3"/><circle cx="157.5" cy="98.0" r="1.3"/><circle cx="146.8" cy="105.0" r="1.3"/><circle cx="150.7" cy="90.9" r="1.3"/><circle cx="155.6" cy="87.6" r="1.3"/><circle cx="143.0" cy="90.5" r="1.3"/><circle cx="146.8" cy="96.9" r="1.3"/><circle cx="165.7" cy="90.5" r="1.3"/><circle cx="152.3" cy="96.4" r="1.3"/><circle cx="156.5" cy="89.7" r="1.3"/><circle cx="174.4" cy="115.8" r="1.3"/><circle cx="160.2" cy="100.5" r="1.3"/><circle cx="146.2" cy="89.1" r="1.3"/><circle cx="155.7" cy="93.9" r="1.3"/><circle cx="173.7" cy="90.8" r="1.3"/><circle cx="162.5" cy="90.4" r="1.3"/><circle cx="163.1" cy="86.8" r="1.3"/><circle cx="162.5" cy="115.4" r="1.3"/><circle cx="174.9" cy="106.9" r="1.3"/><circle cx="152.7" cy="97.0" r="1.3"/><circle cx="149.2" cy="109.2" r="1.3"/><circle cx="162.7" cy="109.4" r="1.3"/><circle cx="155.2" cy="92.7" r="1.3"/><circle cx="173.0" cy="115.5" r="1.3"/><circle cx="174.5" cy="110.2" r="1.3"/><circle cx="173.3" cy="108.2" r="1.3"/><circle cx="151.4" cy="101.5" r="1.3"/><circle cx="156.2" cy="86.9" r="1.3"/><circle cx="144.0" cy="94.4" r="1.3"/><circle cx="158.7" cy="104.9" r="1.3"/><circle cx="161.7" cy="91.9" r="1.3"/><circle cx="169.8" cy="99.1" r="1.3"/><circle cx="174.8" cy="89.7" r="1.3"/><circle cx="160.8" cy="101.9" r="1.3"/><circle cx="170.7" cy="103.5" r="1.3"/><circle cx="149.1" cy="93.0" r="1.3"/><circle cx="151.2" cy="91.2" r="1.3"/><circle cx="174.3" cy="97.9" r="1.3"/><circle cx="173.1" cy="94.3" r="1.3"/><circle cx="171.4" cy="95.6" r="1.3"/><circle cx="155.0" cy="101.2" r="1.3"/><circle cx="173.5" cy="89.8" r="1.3"/><circle cx="164.1" cy="98.5" r="1.3"/><circle cx="153.9" cy="94.3" r="1.3"/><circle cx="151.8" cy="91.5" r="1.3"/><circle cx="154.9" cy="98.2" r="1.3"/><circle cx="165.6" cy="91.5" r="1.3"/><circle cx="148.3" cy="93.6" r="1.3"/><circle cx="166.3" cy="91.1" r="1.3"/><circle cx="156.4" cy="91.5" r="1.3"/><circle cx="169.5" cy="97.3" r="1.3"/><circle cx="149.7" cy="89.7" r="1.3"/><circle cx="158.7" cy="97.4" r="1.3"/><circle cx="165.3" cy="89.5" r="1.3"/><circle cx="152.4" cy="99.8" r="1.3"/><circle cx="159.1" cy="92.8" r="1.3"/><circle cx="156.3" cy="104.2" r="1.3"/><circle cx="156.4" cy="97.6" r="1.3"/><circle cx="157.6" cy="95.1" r="1.3"/><circle cx="171.3" cy="104.9" r="1.3"/><circle cx="157.8" cy="91.4" r="1.3"/><circle cx="167.7" cy="91.5" r="1.3"/><circle cx="148.2" cy="103.3" r="1.3"/><circle cx="159.4" cy="101.9" r="1.3"/><circle cx="159.0" cy="103.0" r="1.3"/><circle cx="160.4" cy="90.8" r="1.3"/><circle cx="148.4" cy="97.4" r="1.3"/><circle cx="165.3" cy="103.5" r="1.3"/><circle cx="150.4" cy="98.6" r="1.3"/><circle cx="180.3" cy="109.9" r="1.3"/><circle cx="191.9" cy="99.1" r="1.3"/><circle cx="195.5" cy="96.8" r="1.3"/><circle cx="199.8" cy="102.4" r="1.3"/><circle cx="185.9" cy="105.8" r="1.3"/><circle cx="187.7" cy="95.2" r="1.3"/><circle cx="194.4" cy="92.9" r="1.3"/><circle cx="196.0" cy="96.6" r="1.3"/><circle cx="192.1" cy="109.7" r="1.3"/><circle cx="190.9" cy="103.9" r="1.3"/><circle cx="184.9" cy="92.0" r="1.3"/><circle cx="178.7" cy="94.7" r="1.3"/><circle cx="189.9" cy="117.6" r="1.3"/><circle cx="184.5" cy="110.2" r="1.3"/><circle cx="185.9" cy="114.3" r="1.3"/><circle cx="195.3" cy="109.8" r="1.3"/><circle cx="185.2" cy="110.8" r="1.3"/><circle cx="190.5" cy="113.2" r="1.3"/><circle cx="190.1" cy="111.9" r="1.3"/><circle cx="193.9" cy="109.9" r="1.3"/><circle cx="188.9" cy="117.1" r="1.3"/><circle cx="186.5" cy="112.6" r="1.3"/><circle cx="188.7" cy="114.0" r="1.3"/><circle cx="185.5" cy="117.7" r="1.3"/><circle cx="188.3" cy="102.0" r="1.3"/><circle cx="187.3" cy="107.8" r="1.3"/><circle cx="198.1" cy="113.2" r="1.3"/><circle cx="201.1" cy="113.3" r="1.3"/><circle cx="218.8" cy="90.4" r="1.3"/><circle cx="196.4" cy="116.6" r="1.3"/><circle cx="219.6" cy="97.0" r="1.3"/><circle cx="199.7" cy="94.0" r="1.3"/><circle cx="204.4" cy="111.7" r="1.3"/><circle cx="208.5" cy="94.3" r="1.3"/><circle cx="202.0" cy="115.0" r="1.3"/><circle cx="217.9" cy="111.9" r="1.3"/><circle cx="220.1" cy="115.0" r="1.3"/><circle cx="203.1" cy="109.4" r="1.3"/><circle cx="215.1" cy="110.8" r="1.3"/><circle cx="211.8" cy="114.7" r="1.3"/><circle cx="216.0" cy="97.4" r="1.3"/><circle cx="204.4" cy="93.9" r="1.3"/><circle cx="213.8" cy="91.6" r="1.3"/><circle cx="212.8" cy="94.0" r="1.3"/><circle cx="213.7" cy="103.9" r="1.3"/><circle cx="215.4" cy="114.2" r="1.3"/><circle cx="196.2" cy="113.5" r="1.3"/><circle cx="212.8" cy="105.8" r="1.3"/><circle cx="220.0" cy="113.5" r="1.3"/><circle cx="209.5" cy="101.7" r="1.3"/><circle cx="230.6" cy="92.1" r="1.3"/><circle cx="218.9" cy="107.8" r="1.3"/><circle cx="197.0" cy="107.1" r="1.3"/><circle cx="207.9" cy="117.5" r="1.3"/><circle cx="214.4" cy="103.6" r="1.3"/><circle cx="228.3" cy="90.9" r="1.3"/><circle cx="221.9" cy="107.5" r="1.3"/><circle cx="208.2" cy="114.1" r="1.3"/><circle cx="209.2" cy="103.3" r="1.3"/><circle cx="214.9" cy="111.6" r="1.3"/><circle cx="203.6" cy="102.2" r="1.3"/><circle cx="211.2" cy="105.5" r="1.3"/><circle cx="225.8" cy="98.2" r="1.3"/><circle cx="225.8" cy="101.3" r="1.3"/><circle cx="214.1" cy="97.6" r="1.3"/><circle cx="214.2" cy="117.3" r="1.3"/><circle cx="219.6" cy="112.2" r="1.3"/><circle cx="207.9" cy="98.9" r="1.3"/><circle cx="209.4" cy="108.7" r="1.3"/><circle cx="202.4" cy="114.6" r="1.3"/><circle cx="200.3" cy="115.7" r="1.3"/><circle cx="204.8" cy="108.5" r="1.3"/><circle cx="203.1" cy="113.2" r="1.3"/><circle cx="204.1" cy="114.1" r="1.3"/><circle cx="200.0" cy="115.2" r="1.3"/><circle cx="203.1" cy="113.8" r="1.3"/><circle cx="181.3" cy="85.5" r="1.3"/><circle cx="188.1" cy="87.2" r="1.3"/><circle cx="194.2" cy="82.3" r="1.3"/><circle cx="98.0" cy="53.4" r="1.3"/><circle cx="97.0" cy="64.0" r="1.3"/><circle cx="78.0" cy="68.6" r="1.3"/><circle cx="406.9" cy="54.7" r="1.3"/><circle cx="375.8" cy="74.5" r="1.3"/><circle cx="368.5" cy="81.4" r="1.3"/><circle cx="371.4" cy="83.9" r="1.3"/><circle cx="385.0" cy="81.1" r="1.3"/><circle cx="400.6" cy="81.4" r="1.3"/><circle cx="365.5" cy="87.2" r="1.3"/><circle cx="382.3" cy="87.7" r="1.3"/><circle cx="386.7" cy="88.2" r="1.3"/><circle cx="396.2" cy="88.4" r="1.3"/><circle cx="359.0" cy="94.5" r="1.3"/><circle cx="364.1" cy="96.7" r="1.3"/><circle cx="367.7" cy="94.5" r="1.3"/><circle cx="380.1" cy="94.5" r="1.3"/><circle cx="400.6" cy="94.5" r="1.3"/><circle cx="350.2" cy="100.4" r="1.3"/><circle cx="358.2" cy="103.7" r="1.3"/><circle cx="364.8" cy="149.0" r="1.3"/><circle cx="358.2" cy="156.0" r="1.3"/><circle cx="363.0" cy="155.3" r="1.3"/><circle cx="424.7" cy="171.4" r="1.3"/><circle cx="411.2" cy="223.7" r="1.3"/><circle cx="590.3" cy="197.6" r="1.3"/><circle cx="615.4" cy="202.6" r="1.3"/><circle cx="616.8" cy="207.8" r="1.3"/><circle cx="563.0" cy="227.9" r="1.3"/><circle cx="617.0" cy="230.0" r="1.3"/><circle cx="619.0" cy="231.5" r="1.3"/><circle cx="621.0" cy="233.0" r="1.3"/><circle cx="623.0" cy="230.0" r="1.3"/><circle cx="618.5" cy="234.0" r="1.3"/><circle cx="621.5" cy="235.5" r="1.3"/><circle cx="624.5" cy="228.5" r="1.3"/><circle cx="620.0" cy="229.0" r="1.3"/><circle cx="616.0" cy="232.5" r="1.3"/><circle cx="521.3" cy="117.6" r="1.3"/><circle cx="521.8" cy="117.2" r="1.3"/><circle cx="539.0" cy="113.6" r="1.3"/><circle cx="276.0" cy="210.4" r="1.3"/><circle cx="281.4" cy="212.4" r="1.3"/><circle cx="231.0" cy="244.7" r="1.3"/><circle cx="529.0" cy="142.2" r="1.3"/></g>
<rect x="498.7" y="113.7" width="3.4" height="3.4" fill="#d54a4a" fill-opacity="0.85"/>
<rect x="561.7" y="97.4" width="3.4" height="3.4" fill="#d54a4a" fill-opacity="0.85"/>
<rect x="519.6" y="115.9" width="3.4" height="3.4" fill="#2a7a20" fill-opacity="0.85"/>
<rect x="537.3" y="111.9" width="3.4" height="3.4" fill="#2a7a20" fill-opacity="0.85"/>
<path d="M537.5,112.1l3,3m0,-3l-3,3" stroke="#d54a4a" stroke-width="0.8"/>
<rect x="51" y="174" width="118" height="29.5" rx="2" fill="#fff" fill-opacity="0.8" stroke="#d0d0d0" stroke-width="0.8"/>
<circle cx="64" cy="182" r="2.6" fill="#268a1c"/>
<path d="M62,193.8 L66,197.8 M66,193.8 L62,197.8" stroke="#d03030" stroke-width="1"/>
<text x="79.96" y="184.30" font-size="8.69" textLength="81.65" lengthAdjust="spacingAndGlyphs" >Passed Sta. (434)</text>
<text x="79.95" y="197.85" font-size="8.90" textLength="84.46" lengthAdjust="spacingAndGlyphs" >Failed Sta. (1,623)</text>
</svg>
</body></html>
